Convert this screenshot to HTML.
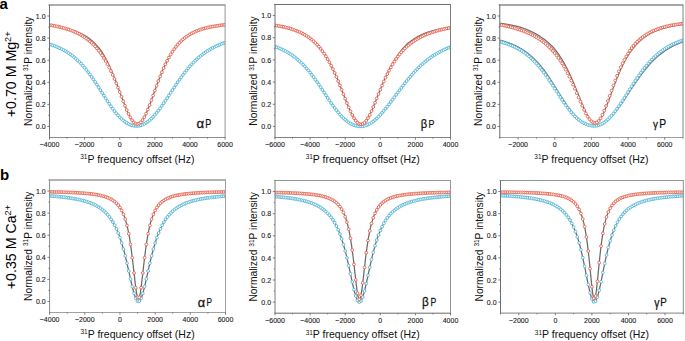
<!DOCTYPE html><html><head><meta charset="utf-8"><style>html,body{margin:0;padding:0;background:#fff;width:685px;height:341px;overflow:hidden}svg{display:block}text{font-family:"Liberation Sans", sans-serif}</style></head><body>
<svg xmlns="http://www.w3.org/2000/svg" width="685" height="341" viewBox="0 0 685 341">
<defs><clipPath id="c0"><rect x="49.5" y="5.0" width="175.60" height="132.50"/></clipPath><clipPath id="c1"><rect x="275.0" y="4.5" width="175.50" height="133.00"/></clipPath><clipPath id="c2"><rect x="499.8" y="5.0" width="183.20" height="132.50"/></clipPath><clipPath id="c3"><rect x="49.6" y="180.0" width="175.90" height="132.50"/></clipPath><clipPath id="c4"><rect x="275.0" y="180.5" width="175.50" height="132.70"/></clipPath><clipPath id="c5"><rect x="500.5" y="180.5" width="182.80" height="132.60"/></clipPath></defs>
<g clip-path="url(#c0)">
<path d="M49.50,44.25 L49.83,44.35 L50.17,44.45 L50.50,44.56 L50.84,44.67 L51.17,44.77 L51.50,44.88 L51.84,44.99 L52.17,45.11 L52.50,45.22 L52.84,45.34 L53.17,45.45 L53.51,45.57 L53.84,45.69 L54.17,45.81 L54.51,45.94 L54.84,46.06 L55.18,46.19 L55.51,46.32 L55.84,46.45 L56.18,46.58 L56.51,46.72 L56.84,46.86 L57.18,46.99 L57.51,47.13 L57.85,47.28 L58.18,47.42 L58.51,47.57 L58.85,47.72 L59.18,47.87 L59.52,48.02 L59.85,48.17 L60.18,48.33 L60.52,48.49 L60.85,48.65 L61.18,48.81 L61.52,48.98 L61.85,49.15 L62.19,49.32 L62.52,49.49 L62.85,49.67 L63.19,49.84 L63.52,50.02 L63.86,50.21 L64.19,50.39 L64.52,50.58 L64.86,50.77 L65.19,50.96 L65.52,51.16 L65.86,51.35 L66.19,51.55 L66.53,51.76 L66.86,51.96 L67.19,52.17 L67.53,52.38 L67.86,52.60 L68.20,52.82 L68.53,53.04 L68.86,53.26 L69.20,53.49 L69.53,53.72 L69.86,53.95 L70.20,54.18 L70.53,54.42 L70.87,54.66 L71.20,54.91 L71.53,55.16 L71.87,55.41 L72.20,55.66 L72.53,55.92 L72.87,56.18 L73.20,56.45 L73.54,56.71 L73.87,56.99 L74.20,57.26 L74.54,57.54 L74.87,57.82 L75.21,58.11 L75.54,58.40 L75.87,58.69 L76.21,58.98 L76.54,59.28 L76.87,59.59 L77.21,59.89 L77.54,60.21 L77.88,60.52 L78.21,60.84 L78.54,61.16 L78.88,61.49 L79.21,61.82 L79.55,62.15 L79.88,62.49 L80.21,62.83 L80.55,63.17 L80.88,63.52 L81.21,63.87 L81.55,64.23 L81.88,64.59 L82.22,64.96 L82.55,65.32 L82.88,65.70 L83.22,66.07 L83.55,66.45 L83.89,66.84 L84.22,67.23 L84.55,67.62 L84.89,68.01 L85.22,68.41 L85.55,68.82 L85.89,69.22 L86.22,69.64 L86.56,70.05 L86.89,70.47 L87.22,70.89 L87.56,71.32 L87.89,71.75 L88.23,72.18 L88.56,72.62 L88.89,73.06 L89.23,73.51 L89.56,73.95 L89.89,74.41 L90.23,74.86 L90.56,75.32 L90.90,75.78 L91.23,76.25 L91.56,76.72 L91.90,77.19 L92.23,77.66 L92.57,78.14 L92.90,78.62 L93.23,79.11 L93.57,79.60 L93.90,80.09 L94.23,80.58 L94.57,81.07 L94.90,81.57 L95.24,82.07 L95.57,82.57 L95.90,83.08 L96.24,83.59 L96.57,84.09 L96.91,84.61 L97.24,85.12 L97.57,85.63 L97.91,86.15 L98.24,86.67 L98.57,87.19 L98.91,87.71 L99.24,88.23 L99.58,88.75 L99.91,89.28 L100.24,89.80 L100.58,90.33 L100.91,90.85 L101.25,91.38 L101.58,91.91 L101.91,92.44 L102.25,92.96 L102.58,93.49 L102.91,94.02 L103.25,94.54 L103.58,95.07 L103.92,95.60 L104.25,96.12 L104.58,96.64 L104.92,97.17 L105.25,97.69 L105.59,98.21 L105.92,98.73 L106.25,99.24 L106.59,99.76 L106.92,100.27 L107.25,100.78 L107.59,101.29 L107.92,101.80 L108.26,102.30 L108.59,102.81 L108.92,103.31 L109.26,103.80 L109.59,104.29 L109.93,104.78 L110.26,105.27 L110.59,105.75 L110.93,106.23 L111.26,106.71 L111.59,107.18 L111.93,107.65 L112.26,108.11 L112.60,108.57 L112.93,109.03 L113.26,109.48 L113.60,109.93 L113.93,110.37 L114.27,110.80 L114.60,111.24 L114.93,111.66 L115.27,112.09 L115.60,112.50 L115.93,112.91 L116.27,113.32 L116.60,113.72 L116.94,114.12 L117.27,114.51 L117.60,114.89 L117.94,115.27 L118.27,115.64 L118.60,116.01 L118.94,116.37 L119.27,116.72 L119.61,117.07 L119.94,117.41 L120.27,117.75 L120.61,118.08 L120.94,118.40 L121.28,118.72 L121.61,119.03 L121.94,119.33 L122.28,119.63 L122.61,119.92 L122.94,120.21 L123.28,120.49 L123.61,120.76 L123.95,121.02 L124.28,121.28 L124.61,121.53 L124.95,121.77 L125.28,122.01 L125.62,122.24 L125.95,122.47 L126.28,122.68 L126.62,122.89 L126.95,123.10 L127.28,123.29 L127.62,123.48 L127.95,123.67 L128.29,123.84 L128.62,124.01 L128.95,124.17 L129.29,124.33 L129.62,124.48 L129.96,124.62 L130.29,124.75 L130.62,124.88 L130.96,125.00 L131.29,125.11 L131.62,125.22 L131.96,125.32 L132.29,125.41 L132.63,125.50 L132.96,125.58 L133.29,125.65 L133.63,125.71 L133.96,125.77 L134.30,125.82 L134.63,125.87 L134.96,125.90 L135.30,125.93 L135.63,125.96 L135.96,125.97 L136.30,125.98 L136.63,125.98 L136.97,125.98 L137.30,125.97 L137.63,125.94 L137.97,125.92 L138.30,125.88 L138.64,125.84 L138.97,125.78 L139.30,125.72 L139.64,125.66 L139.97,125.58 L140.30,125.50 L140.64,125.41 L140.97,125.31 L141.31,125.21 L141.64,125.09 L141.97,124.97 L142.31,124.84 L142.64,124.71 L142.98,124.56 L143.31,124.41 L143.64,124.26 L143.98,124.09 L144.31,123.92 L144.64,123.74 L144.98,123.55 L145.31,123.35 L145.65,123.15 L145.98,122.94 L146.31,122.72 L146.65,122.50 L146.98,122.27 L147.32,122.03 L147.65,121.79 L147.98,121.53 L148.32,121.27 L148.65,121.01 L148.98,120.74 L149.32,120.46 L149.65,120.17 L149.99,119.88 L150.32,119.58 L150.65,119.27 L150.99,118.96 L151.32,118.64 L151.66,118.32 L151.99,117.99 L152.32,117.65 L152.66,117.31 L152.99,116.96 L153.32,116.61 L153.66,116.25 L153.99,115.88 L154.33,115.51 L154.66,115.13 L154.99,114.75 L155.33,114.37 L155.66,113.97 L156.00,113.58 L156.33,113.17 L156.66,112.76 L157.00,112.35 L157.33,111.94 L157.66,111.51 L158.00,111.09 L158.33,110.66 L158.67,110.22 L159.00,109.78 L159.33,109.34 L159.67,108.89 L160.00,108.44 L160.33,107.99 L160.67,107.53 L161.00,107.07 L161.34,106.60 L161.67,106.14 L162.00,105.67 L162.34,105.19 L162.67,104.71 L163.01,104.23 L163.34,103.75 L163.67,103.27 L164.01,102.78 L164.34,102.29 L164.67,101.80 L165.01,101.31 L165.34,100.81 L165.68,100.31 L166.01,99.81 L166.34,99.31 L166.68,98.81 L167.01,98.31 L167.35,97.80 L167.68,97.30 L168.01,96.79 L168.35,96.29 L168.68,95.78 L169.01,95.27 L169.35,94.76 L169.68,94.25 L170.02,93.74 L170.35,93.23 L170.68,92.72 L171.02,92.21 L171.35,91.70 L171.69,91.20 L172.02,90.69 L172.35,90.18 L172.69,89.67 L173.02,89.17 L173.35,88.66 L173.69,88.16 L174.02,87.65 L174.36,87.15 L174.69,86.65 L175.02,86.15 L175.36,85.65 L175.69,85.16 L176.03,84.66 L176.36,84.17 L176.69,83.67 L177.03,83.18 L177.36,82.70 L177.69,82.21 L178.03,81.73 L178.36,81.24 L178.70,80.77 L179.03,80.29 L179.36,79.81 L179.70,79.34 L180.03,78.87 L180.37,78.40 L180.70,77.94 L181.03,77.48 L181.37,77.02 L181.70,76.56 L182.03,76.10 L182.37,75.65 L182.70,75.20 L183.04,74.76 L183.37,74.32 L183.70,73.88 L184.04,73.44 L184.37,73.01 L184.71,72.58 L185.04,72.15 L185.37,71.72 L185.71,71.30 L186.04,70.89 L186.37,70.47 L186.71,70.06 L187.04,69.65 L187.38,69.25 L187.71,68.85 L188.04,68.45 L188.38,68.05 L188.71,67.66 L189.05,67.27 L189.38,66.89 L189.71,66.51 L190.05,66.13 L190.38,65.76 L190.71,65.39 L191.05,65.02 L191.38,64.65 L191.72,64.29 L192.05,63.94 L192.38,63.58 L192.72,63.23 L193.05,62.89 L193.39,62.54 L193.72,62.20 L194.05,61.87 L194.39,61.53 L194.72,61.20 L195.05,60.88 L195.39,60.55 L195.72,60.23 L196.06,59.92 L196.39,59.60 L196.72,59.29 L197.06,58.98 L197.39,58.68 L197.73,58.38 L198.06,58.08 L198.39,57.79 L198.73,57.50 L199.06,57.21 L199.39,56.93 L199.73,56.65 L200.06,56.37 L200.40,56.09 L200.73,55.82 L201.06,55.55 L201.40,55.29 L201.73,55.02 L202.07,54.76 L202.40,54.51 L202.73,54.25 L203.07,54.00 L203.40,53.75 L203.73,53.51 L204.07,53.27 L204.40,53.03 L204.74,52.79 L205.07,52.56 L205.40,52.32 L205.74,52.10 L206.07,51.87 L206.40,51.65 L206.74,51.43 L207.07,51.21 L207.41,50.99 L207.74,50.78 L208.07,50.57 L208.41,50.36 L208.74,50.16 L209.08,49.96 L209.41,49.76 L209.74,49.56 L210.08,49.36 L210.41,49.17 L210.74,48.98 L211.08,48.79 L211.41,48.60 L211.75,48.42 L212.08,48.24 L212.41,48.06 L212.75,47.88 L213.08,47.71 L213.42,47.53 L213.75,47.36 L214.08,47.20 L214.42,47.03 L214.75,46.86 L215.08,46.70 L215.42,46.54 L215.75,46.38 L216.09,46.23 L216.42,46.07 L216.75,45.92 L217.09,45.77 L217.42,45.62 L217.76,45.47 L218.09,45.33 L218.42,45.18 L218.76,45.04 L219.09,44.90 L219.42,44.76 L219.76,44.63 L220.09,44.49 L220.43,44.36 L220.76,44.23 L221.09,44.10 L221.43,43.97 L221.76,43.85 L222.10,43.72 L222.43,43.60 L222.76,43.48 L223.10,43.36 L223.43,43.24 L223.76,43.12 L224.10,43.00 L224.43,42.89 L224.77,42.78 L225.10,42.66" fill="none" stroke="#6a6a6a" stroke-width="1.25"/>
<g fill="#fff" stroke="#52b6d6" stroke-width="0.9"><circle cx="49.50" cy="44.25" r="1.4"/><circle cx="51.26" cy="44.80" r="1.4"/><circle cx="53.01" cy="45.40" r="1.4"/><circle cx="54.77" cy="46.04" r="1.4"/><circle cx="56.52" cy="46.72" r="1.4"/><circle cx="58.28" cy="47.47" r="1.4"/><circle cx="60.04" cy="48.26" r="1.4"/><circle cx="61.79" cy="49.12" r="1.4"/><circle cx="63.55" cy="50.04" r="1.4"/><circle cx="65.30" cy="51.03" r="1.4"/><circle cx="67.06" cy="52.09" r="1.4"/><circle cx="68.82" cy="53.23" r="1.4"/><circle cx="70.57" cy="54.45" r="1.4"/><circle cx="72.33" cy="55.76" r="1.4"/><circle cx="74.08" cy="57.16" r="1.4"/><circle cx="75.84" cy="58.66" r="1.4"/><circle cx="77.60" cy="60.26" r="1.4"/><circle cx="79.35" cy="61.96" r="1.4"/><circle cx="81.11" cy="63.76" r="1.4"/><circle cx="82.86" cy="65.67" r="1.4"/><circle cx="84.62" cy="67.70" r="1.4"/><circle cx="86.38" cy="69.83" r="1.4"/><circle cx="88.13" cy="72.06" r="1.4"/><circle cx="89.89" cy="74.40" r="1.4"/><circle cx="91.64" cy="76.83" r="1.4"/><circle cx="93.40" cy="79.35" r="1.4"/><circle cx="95.16" cy="81.95" r="1.4"/><circle cx="96.91" cy="84.62" r="1.4"/><circle cx="98.67" cy="87.33" r="1.4"/><circle cx="100.42" cy="90.09" r="1.4"/><circle cx="102.18" cy="92.86" r="1.4"/><circle cx="103.94" cy="95.63" r="1.4"/><circle cx="105.69" cy="98.37" r="1.4"/><circle cx="107.45" cy="101.08" r="1.4"/><circle cx="109.20" cy="103.72" r="1.4"/><circle cx="110.96" cy="106.28" r="1.4"/><circle cx="112.72" cy="108.74" r="1.4"/><circle cx="114.47" cy="111.07" r="1.4"/><circle cx="116.23" cy="113.27" r="1.4"/><circle cx="117.98" cy="115.32" r="1.4"/><circle cx="119.74" cy="117.21" r="1.4"/><circle cx="121.50" cy="118.93" r="1.4"/><circle cx="123.25" cy="120.46" r="1.4"/><circle cx="125.01" cy="121.82" r="1.4"/><circle cx="126.76" cy="122.98" r="1.4"/><circle cx="128.52" cy="123.96" r="1.4"/><circle cx="130.28" cy="124.75" r="1.4"/><circle cx="132.03" cy="125.34" r="1.4"/><circle cx="133.79" cy="125.74" r="1.4"/><circle cx="135.54" cy="125.95" r="1.4"/><circle cx="137.30" cy="125.97" r="1.4"/><circle cx="139.06" cy="125.77" r="1.4"/><circle cx="140.81" cy="125.36" r="1.4"/><circle cx="142.57" cy="124.74" r="1.4"/><circle cx="144.32" cy="123.91" r="1.4"/><circle cx="146.08" cy="122.88" r="1.4"/><circle cx="147.84" cy="121.64" r="1.4"/><circle cx="149.59" cy="120.22" r="1.4"/><circle cx="151.35" cy="118.62" r="1.4"/><circle cx="153.10" cy="116.84" r="1.4"/><circle cx="154.86" cy="114.91" r="1.4"/><circle cx="156.62" cy="112.82" r="1.4"/><circle cx="158.37" cy="110.61" r="1.4"/><circle cx="160.13" cy="108.27" r="1.4"/><circle cx="161.88" cy="105.84" r="1.4"/><circle cx="163.64" cy="103.32" r="1.4"/><circle cx="165.40" cy="100.73" r="1.4"/><circle cx="167.15" cy="98.10" r="1.4"/><circle cx="168.91" cy="95.43" r="1.4"/><circle cx="170.66" cy="92.75" r="1.4"/><circle cx="172.42" cy="90.08" r="1.4"/><circle cx="174.18" cy="87.42" r="1.4"/><circle cx="175.93" cy="84.80" r="1.4"/><circle cx="177.69" cy="82.22" r="1.4"/><circle cx="179.44" cy="79.70" r="1.4"/><circle cx="181.20" cy="77.24" r="1.4"/><circle cx="182.96" cy="74.87" r="1.4"/><circle cx="184.71" cy="72.57" r="1.4"/><circle cx="186.47" cy="70.36" r="1.4"/><circle cx="188.22" cy="68.23" r="1.4"/><circle cx="189.98" cy="66.21" r="1.4"/><circle cx="191.74" cy="64.27" r="1.4"/><circle cx="193.49" cy="62.43" r="1.4"/><circle cx="195.25" cy="60.69" r="1.4"/><circle cx="197.00" cy="59.03" r="1.4"/><circle cx="198.76" cy="57.47" r="1.4"/><circle cx="200.52" cy="55.99" r="1.4"/><circle cx="202.27" cy="54.60" r="1.4"/><circle cx="204.03" cy="53.30" r="1.4"/><circle cx="205.78" cy="52.06" r="1.4"/><circle cx="207.54" cy="50.91" r="1.4"/><circle cx="209.30" cy="49.82" r="1.4"/><circle cx="211.05" cy="48.80" r="1.4"/><circle cx="212.81" cy="47.85" r="1.4"/><circle cx="214.56" cy="46.96" r="1.4"/><circle cx="216.32" cy="46.12" r="1.4"/><circle cx="218.08" cy="45.33" r="1.4"/><circle cx="219.83" cy="44.60" r="1.4"/><circle cx="221.59" cy="43.91" r="1.4"/><circle cx="223.34" cy="43.27" r="1.4"/><circle cx="225.10" cy="42.66" r="1.4"/></g>
<path d="M49.50,25.00 L49.84,25.04 L50.17,25.09 L50.51,25.14 L50.84,25.18 L51.18,25.23 L51.51,25.28 L51.85,25.33 L52.18,25.38 L52.52,25.43 L52.85,25.49 L53.19,25.54 L53.53,25.59 L53.86,25.65 L54.20,25.70 L54.53,25.76 L54.87,25.81 L55.20,25.87 L55.54,25.93 L55.88,25.99 L56.21,26.05 L56.55,26.11 L56.88,26.17 L57.22,26.24 L57.56,26.30 L57.89,26.37 L58.23,26.43 L58.56,26.50 L58.90,26.57 L59.24,26.64 L59.57,26.71 L59.91,26.78 L60.25,26.85 L60.58,26.92 L60.92,27.00 L61.25,27.07 L61.59,27.15 L61.93,27.23 L62.27,27.31 L62.60,27.39 L62.94,27.47 L63.28,27.55 L63.61,27.63 L63.95,27.72 L64.29,27.80 L64.62,27.89 L64.96,27.98 L65.30,28.07 L65.64,28.16 L65.97,28.26 L66.31,28.35 L66.65,28.45 L66.99,28.54 L67.33,28.64 L67.66,28.74 L68.00,28.84 L68.34,28.95 L68.68,29.05 L69.02,29.16 L69.35,29.27 L69.69,29.38 L70.03,29.49 L70.37,29.59 L70.72,29.69 L71.06,29.79 L71.41,29.90 L71.75,30.00 L72.10,30.11 L72.44,30.22 L72.79,30.33 L73.13,30.44 L73.48,30.56 L73.83,30.67 L74.17,30.79 L74.52,30.91 L74.87,31.04 L75.22,31.16 L75.56,31.29 L75.91,31.42 L76.26,31.55 L76.61,31.69 L76.96,31.83 L77.31,31.96 L77.66,32.11 L78.01,32.25 L78.36,32.40 L78.71,32.55 L79.06,32.70 L79.41,32.86 L79.76,33.02 L80.11,33.18 L80.46,33.34 L80.81,33.51 L81.17,33.68 L81.52,33.85 L81.87,34.02 L82.23,34.20 L82.58,34.38 L82.93,34.57 L83.29,34.76 L83.64,34.95 L84.00,35.14 L84.35,35.34 L84.71,35.54 L85.06,35.75 L85.42,35.96 L85.78,36.17 L86.13,36.39 L86.49,36.61 L86.85,36.83 L87.20,37.06 L87.56,37.29 L87.92,37.53 L88.28,37.76 L88.64,38.01 L89.00,38.26 L89.34,38.52 L89.69,38.80 L90.03,39.08 L90.38,39.36 L90.72,39.65 L91.07,39.94 L91.41,40.24 L91.75,40.54 L92.10,40.84 L92.44,41.15 L92.78,41.47 L93.13,41.79 L93.47,42.11 L93.82,42.44 L94.16,42.78 L94.50,43.12 L94.85,43.46 L95.19,43.81 L95.53,44.17 L95.88,44.53 L96.22,44.89 L96.56,45.26 L96.91,45.64 L97.25,46.02 L97.59,46.41 L97.93,46.81 L98.28,47.21 L98.62,47.61 L98.96,48.02 L99.30,48.44 L99.65,48.87 L99.99,49.30 L100.33,49.73 L100.67,50.18 L101.01,50.63 L101.35,51.08 L101.67,51.56 L101.99,52.05 L102.30,52.55 L102.61,53.05 L102.92,53.56 L103.23,54.08 L103.54,54.60 L103.85,55.13 L104.16,55.67 L104.47,56.21 L104.78,56.76 L105.08,57.32 L105.39,57.88 L105.70,58.46 L106.00,59.04 L106.31,59.62 L106.62,60.22 L106.92,60.82 L107.23,61.43 L107.54,62.05 L107.84,62.67 L108.15,63.30 L108.45,63.94 L108.75,64.59 L109.06,65.25 L109.36,65.91 L109.67,66.58 L109.97,67.26 L110.27,67.95 L110.58,68.64 L110.88,69.35 L111.18,70.06 L111.48,70.77 L111.79,71.50 L112.09,72.24 L112.39,72.98 L112.71,73.72 L113.02,74.47 L113.34,75.23 L113.66,75.99 L113.98,76.76 L114.30,77.54 L114.62,78.33 L114.94,79.12 L115.26,79.93 L115.58,80.73 L115.90,81.55 L116.21,82.37 L116.53,83.19 L116.85,84.03 L117.17,84.87 L117.49,85.71 L117.81,86.56 L118.13,87.41 L118.44,88.27 L118.76,89.13 L119.08,90.00 L119.40,90.87 L119.72,91.74 L120.04,92.62 L120.35,93.49 L120.67,94.37 L120.99,95.25 L121.31,96.13 L121.63,97.01 L121.95,97.89 L122.28,98.76 L122.61,99.63 L122.94,100.50 L123.28,101.36 L123.61,102.22 L123.95,103.08 L124.28,103.93 L124.61,104.77 L124.95,105.61 L125.28,106.44 L125.62,107.26 L125.95,108.07 L126.28,108.87 L126.62,109.66 L126.95,110.44 L127.28,111.21 L127.62,111.96 L127.95,112.70 L128.29,113.42 L128.62,114.12 L128.95,114.81 L129.29,115.48 L129.62,116.13 L129.96,116.76 L130.29,117.37 L130.62,117.96 L130.96,118.53 L131.29,119.07 L131.62,119.59 L131.96,120.08 L132.29,120.55 L132.63,120.99 L132.96,121.41 L133.29,121.79 L133.63,122.15 L133.96,122.48 L134.30,122.78 L134.63,123.05 L134.96,123.29 L135.30,123.50 L135.63,123.67 L135.96,123.82 L136.30,123.93 L136.63,124.02 L136.97,124.07 L137.30,124.08 L137.63,124.07 L137.97,124.02 L138.30,123.94 L138.64,123.83 L138.97,123.68 L139.30,123.50 L139.64,123.29 L139.97,123.05 L140.30,122.77 L140.64,122.47 L140.97,122.13 L141.31,121.76 L141.64,121.37 L141.97,120.94 L142.31,120.49 L142.64,120.01 L142.98,119.50 L143.31,118.96 L143.64,118.40 L143.98,117.82 L144.31,117.21 L144.64,116.58 L144.98,115.92 L145.31,115.24 L145.65,114.55 L145.98,113.83 L146.31,113.09 L146.65,112.34 L146.98,111.57 L147.32,110.78 L147.65,109.98 L147.98,109.17 L148.32,108.34 L148.65,107.49 L148.98,106.64 L149.32,105.77 L149.65,104.90 L149.99,104.02 L150.32,103.12 L150.65,102.23 L150.99,101.32 L151.32,100.41 L151.66,99.49 L151.99,98.57 L152.32,97.65 L152.66,96.72 L152.99,95.79 L153.32,94.86 L153.66,93.93 L153.99,93.00 L154.33,92.07 L154.66,91.14 L154.99,90.22 L155.33,89.29 L155.66,88.37 L156.00,87.45 L156.33,86.54 L156.66,85.62 L157.00,84.72 L157.33,83.82 L157.66,82.92 L158.00,82.03 L158.33,81.15 L158.67,80.27 L159.00,79.40 L159.33,78.54 L159.67,77.68 L160.00,76.83 L160.33,75.99 L160.67,75.16 L161.00,74.34 L161.34,73.52 L161.67,72.72 L162.00,71.92 L162.34,71.13 L162.67,70.35 L163.01,69.58 L163.34,68.82 L163.67,68.07 L164.01,67.32 L164.34,66.59 L164.67,65.86 L165.01,65.15 L165.34,64.45 L165.68,63.75 L166.01,63.06 L166.34,62.39 L166.68,61.72 L167.01,61.06 L167.35,60.42 L167.68,59.78 L168.01,59.15 L168.35,58.53 L168.68,57.92 L169.01,57.32 L169.35,56.73 L169.68,56.15 L170.02,55.57 L170.35,55.01 L170.68,54.45 L171.02,53.91 L171.35,53.37 L171.69,52.84 L172.02,52.32 L172.35,51.81 L172.69,51.31 L173.02,50.81 L173.35,50.33 L173.69,49.85 L174.02,49.38 L174.36,48.92 L174.69,48.46 L175.02,48.01 L175.36,47.58 L175.69,47.14 L176.03,46.72 L176.36,46.30 L176.69,45.89 L177.03,45.49 L177.36,45.10 L177.69,44.71 L178.03,44.33 L178.36,43.95 L178.70,43.58 L179.03,43.22 L179.36,42.87 L179.70,42.52 L180.03,42.18 L180.37,41.84 L180.70,41.51 L181.03,41.18 L181.37,40.86 L181.70,40.55 L182.03,40.24 L182.37,39.94 L182.70,39.64 L183.04,39.35 L183.37,39.07 L183.70,38.79 L184.04,38.51 L184.37,38.24 L184.71,37.97 L185.04,37.71 L185.37,37.46 L185.71,37.20 L186.04,36.96 L186.37,36.71 L186.71,36.47 L187.04,36.24 L187.38,36.01 L187.71,35.78 L188.04,35.56 L188.38,35.34 L188.71,35.13 L189.05,34.92 L189.38,34.71 L189.71,34.51 L190.05,34.31 L190.38,34.12 L190.71,33.93 L191.05,33.74 L191.38,33.55 L191.72,33.37 L192.05,33.19 L192.38,33.02 L192.72,32.84 L193.05,32.68 L193.39,32.51 L193.72,32.35 L194.05,32.19 L194.39,32.03 L194.72,31.87 L195.05,31.72 L195.39,31.57 L195.72,31.43 L196.06,31.28 L196.39,31.14 L196.72,31.00 L197.06,30.87 L197.39,30.73 L197.73,30.60 L198.06,30.47 L198.39,30.34 L198.73,30.22 L199.06,30.10 L199.39,29.98 L199.73,29.86 L200.06,29.74 L200.40,29.63 L200.73,29.51 L201.06,29.40 L201.40,29.29 L201.73,29.19 L202.07,29.08 L202.40,28.98 L202.73,28.88 L203.07,28.78 L203.40,28.68 L203.73,28.59 L204.07,28.49 L204.40,28.40 L204.74,28.31 L205.07,28.22 L205.40,28.13 L205.74,28.04 L206.07,27.96 L206.40,27.87 L206.74,27.79 L207.07,27.71 L207.41,27.63 L207.74,27.55 L208.07,27.47 L208.41,27.40 L208.74,27.32 L209.08,27.25 L209.41,27.18 L209.74,27.11 L210.08,27.04 L210.41,26.97 L210.74,26.90 L211.08,26.83 L211.41,26.77 L211.75,26.70 L212.08,26.64 L212.41,26.58 L212.75,26.52 L213.08,26.46 L213.42,26.40 L213.75,26.34 L214.08,26.28 L214.42,26.23 L214.75,26.17 L215.08,26.11 L215.42,26.06 L215.75,26.01 L216.09,25.96 L216.42,25.90 L216.75,25.85 L217.09,25.80 L217.42,25.76 L217.76,25.71 L218.09,25.66 L218.42,25.61 L218.76,25.57 L219.09,25.52 L219.42,25.48 L219.76,25.43 L220.09,25.39 L220.43,25.35 L220.76,25.31 L221.09,25.27 L221.43,25.23 L221.76,25.19 L222.10,25.15 L222.43,25.11 L222.76,25.07 L223.10,25.03 L223.43,24.99 L223.76,24.96 L224.10,24.92 L224.43,24.89 L224.77,24.85 L225.10,24.82" fill="none" stroke="#6a6a6a" stroke-width="1.25"/>
<g fill="#fff" stroke="#e4604c" stroke-width="0.9"><circle cx="49.50" cy="25.01" r="1.4"/><circle cx="51.26" cy="25.30" r="1.4"/><circle cx="53.01" cy="25.61" r="1.4"/><circle cx="54.77" cy="25.94" r="1.4"/><circle cx="56.52" cy="26.29" r="1.4"/><circle cx="58.28" cy="26.67" r="1.4"/><circle cx="60.04" cy="27.07" r="1.4"/><circle cx="61.79" cy="27.51" r="1.4"/><circle cx="63.55" cy="27.97" r="1.4"/><circle cx="65.30" cy="28.47" r="1.4"/><circle cx="67.06" cy="29.01" r="1.4"/><circle cx="68.82" cy="29.59" r="1.4"/><circle cx="70.57" cy="30.21" r="1.4"/><circle cx="72.33" cy="30.88" r="1.4"/><circle cx="74.08" cy="31.60" r="1.4"/><circle cx="75.84" cy="32.38" r="1.4"/><circle cx="77.60" cy="33.21" r="1.4"/><circle cx="79.35" cy="34.12" r="1.4"/><circle cx="81.11" cy="35.09" r="1.4"/><circle cx="82.86" cy="36.15" r="1.4"/><circle cx="84.62" cy="37.29" r="1.4"/><circle cx="86.38" cy="38.52" r="1.4"/><circle cx="88.13" cy="39.86" r="1.4"/><circle cx="89.89" cy="41.30" r="1.4"/><circle cx="91.64" cy="42.87" r="1.4"/><circle cx="93.40" cy="44.56" r="1.4"/><circle cx="95.16" cy="46.39" r="1.4"/><circle cx="96.91" cy="48.38" r="1.4"/><circle cx="98.67" cy="50.53" r="1.4"/><circle cx="100.42" cy="52.85" r="1.4"/><circle cx="102.18" cy="55.37" r="1.4"/><circle cx="103.94" cy="58.08" r="1.4"/><circle cx="105.69" cy="61.00" r="1.4"/><circle cx="107.45" cy="64.15" r="1.4"/><circle cx="109.20" cy="67.51" r="1.4"/><circle cx="110.96" cy="71.11" r="1.4"/><circle cx="112.72" cy="74.93" r="1.4"/><circle cx="114.47" cy="78.97" r="1.4"/><circle cx="116.23" cy="83.20" r="1.4"/><circle cx="117.98" cy="87.61" r="1.4"/><circle cx="119.74" cy="92.13" r="1.4"/><circle cx="121.50" cy="96.72" r="1.4"/><circle cx="123.25" cy="101.29" r="1.4"/><circle cx="125.01" cy="105.76" r="1.4"/><circle cx="126.76" cy="110.01" r="1.4"/><circle cx="128.52" cy="113.91" r="1.4"/><circle cx="130.28" cy="117.35" r="1.4"/><circle cx="132.03" cy="120.19" r="1.4"/><circle cx="133.79" cy="122.31" r="1.4"/><circle cx="135.54" cy="123.63" r="1.4"/><circle cx="137.30" cy="124.08" r="1.4"/><circle cx="139.06" cy="123.64" r="1.4"/><circle cx="140.81" cy="122.30" r="1.4"/><circle cx="142.57" cy="120.12" r="1.4"/><circle cx="144.32" cy="117.18" r="1.4"/><circle cx="146.08" cy="113.61" r="1.4"/><circle cx="147.84" cy="109.53" r="1.4"/><circle cx="149.59" cy="105.06" r="1.4"/><circle cx="151.35" cy="100.34" r="1.4"/><circle cx="153.10" cy="95.48" r="1.4"/><circle cx="154.86" cy="90.59" r="1.4"/><circle cx="156.62" cy="85.75" r="1.4"/><circle cx="158.37" cy="81.04" r="1.4"/><circle cx="160.13" cy="76.51" r="1.4"/><circle cx="161.88" cy="72.21" r="1.4"/><circle cx="163.64" cy="68.14" r="1.4"/><circle cx="165.40" cy="64.33" r="1.4"/><circle cx="167.15" cy="60.79" r="1.4"/><circle cx="168.91" cy="57.51" r="1.4"/><circle cx="170.66" cy="54.49" r="1.4"/><circle cx="172.42" cy="51.71" r="1.4"/><circle cx="174.18" cy="49.16" r="1.4"/><circle cx="175.93" cy="46.84" r="1.4"/><circle cx="177.69" cy="44.72" r="1.4"/><circle cx="179.44" cy="42.78" r="1.4"/><circle cx="181.20" cy="41.02" r="1.4"/><circle cx="182.96" cy="39.42" r="1.4"/><circle cx="184.71" cy="37.97" r="1.4"/><circle cx="186.47" cy="36.65" r="1.4"/><circle cx="188.22" cy="35.44" r="1.4"/><circle cx="189.98" cy="34.35" r="1.4"/><circle cx="191.74" cy="33.36" r="1.4"/><circle cx="193.49" cy="32.46" r="1.4"/><circle cx="195.25" cy="31.64" r="1.4"/><circle cx="197.00" cy="30.89" r="1.4"/><circle cx="198.76" cy="30.21" r="1.4"/><circle cx="200.52" cy="29.59" r="1.4"/><circle cx="202.27" cy="29.02" r="1.4"/><circle cx="204.03" cy="28.50" r="1.4"/><circle cx="205.78" cy="28.03" r="1.4"/><circle cx="207.54" cy="27.60" r="1.4"/><circle cx="209.30" cy="27.20" r="1.4"/><circle cx="211.05" cy="26.84" r="1.4"/><circle cx="212.81" cy="26.51" r="1.4"/><circle cx="214.56" cy="26.20" r="1.4"/><circle cx="216.32" cy="25.92" r="1.4"/><circle cx="218.08" cy="25.66" r="1.4"/><circle cx="219.83" cy="25.42" r="1.4"/><circle cx="221.59" cy="25.21" r="1.4"/><circle cx="223.34" cy="25.00" r="1.4"/><circle cx="225.10" cy="24.82" r="1.4"/></g>
</g>
<path d="M48.5,5.0 H225.6" stroke="#5f5f5f" stroke-width="1" fill="none"/>
<path d="M225.1,5.0 V137.5" stroke="#969696" stroke-width="1" fill="none"/>
<path d="M49.0,137.5 H225.6" stroke="#8c8c8c" stroke-width="1" fill="none"/>
<path d="M49.5,4.5 V138.0" stroke="#6e6e6e" stroke-width="1" fill="none"/>
<g stroke="#606060" stroke-width="0.8" fill="none">
<path d="M47.3,126.46 H49.5"/>
<path d="M48.3,115.42 H49.5"/>
<path d="M47.3,104.38 H49.5"/>
<path d="M48.3,93.33 H49.5"/>
<path d="M47.3,82.29 H49.5"/>
<path d="M48.3,71.25 H49.5"/>
<path d="M47.3,60.21 H49.5"/>
<path d="M48.3,49.17 H49.5"/>
<path d="M47.3,38.13 H49.5"/>
<path d="M48.3,27.08 H49.5"/>
<path d="M47.3,16.04 H49.5"/>
<path d="M49.50,137.5 V139.7"/>
<path d="M84.62,137.5 V139.7"/>
<path d="M119.74,137.5 V139.7"/>
<path d="M154.86,137.5 V139.7"/>
<path d="M189.98,137.5 V139.7"/>
<path d="M225.10,137.5 V139.7"/>
<path d="M67.06,137.5 V138.7"/>
<path d="M102.18,137.5 V138.7"/>
<path d="M137.30,137.5 V138.7"/>
<path d="M172.42,137.5 V138.7"/>
<path d="M207.54,137.5 V138.7"/>
</g>
<g font-size="7.7" fill="#222" stroke="#222" stroke-width="0.12">
<text transform="translate(45.60,129.06) scale(0.91,1)" text-anchor="end">0.0</text>
<text transform="translate(45.60,106.97) scale(0.91,1)" text-anchor="end">0.2</text>
<text transform="translate(45.60,84.89) scale(0.91,1)" text-anchor="end">0.4</text>
<text transform="translate(45.60,62.81) scale(0.91,1)" text-anchor="end">0.6</text>
<text transform="translate(45.60,40.73) scale(0.91,1)" text-anchor="end">0.8</text>
<text transform="translate(45.60,18.64) scale(0.91,1)" text-anchor="end">1.0</text>
<text transform="translate(49.50,147.20) scale(0.91,1)" text-anchor="middle">−4000</text>
<text transform="translate(84.62,147.20) scale(0.91,1)" text-anchor="middle">−2000</text>
<text transform="translate(119.74,147.20) scale(0.91,1)" text-anchor="middle">0</text>
<text transform="translate(154.86,147.20) scale(0.91,1)" text-anchor="middle">2000</text>
<text transform="translate(189.98,147.20) scale(0.91,1)" text-anchor="middle">4000</text>
<text transform="translate(225.10,147.20) scale(0.91,1)" text-anchor="middle">6000</text>
</g>
<text x="137.30" y="162.70" font-size="10.5" fill="#111" text-anchor="middle"><tspan font-size="6.5" dy="-3.8">31</tspan><tspan dy="3.8">P frequency offset (Hz)</tspan></text>
<text transform="translate(31.90,71.25) rotate(-90)" font-size="10.3" fill="#111" text-anchor="middle">Normalized <tspan font-size="6.5" dy="-3.8">31</tspan><tspan dy="3.8">P intensity</tspan></text>
<g fill="#111" stroke="#111" stroke-width="0.25">
<text transform="translate(196.55,128.28) scale(1.0799,1)" font-size="12.23" >α</text>
<text transform="translate(205.35,128.20) scale(0.7215,1)" font-size="12.50" >P</text>
</g>
<g clip-path="url(#c1)">
<path d="M275.00,46.64 L275.33,46.76 L275.67,46.88 L276.00,47.00 L276.33,47.12 L276.67,47.25 L277.00,47.37 L277.34,47.50 L277.67,47.63 L278.00,47.76 L278.34,47.89 L278.67,48.03 L279.00,48.17 L279.34,48.30 L279.67,48.44 L280.00,48.59 L280.34,48.73 L280.67,48.88 L281.01,49.03 L281.34,49.18 L281.67,49.33 L282.01,49.48 L282.34,49.64 L282.67,49.80 L283.01,49.96 L283.34,50.12 L283.67,50.29 L284.01,50.45 L284.34,50.62 L284.68,50.79 L285.01,50.97 L285.34,51.14 L285.68,51.32 L286.01,51.50 L286.34,51.69 L286.68,51.87 L287.01,52.06 L287.35,52.25 L287.68,52.44 L288.01,52.64 L288.35,52.84 L288.68,53.04 L289.01,53.24 L289.35,53.45 L289.68,53.66 L290.01,53.87 L290.35,54.09 L290.68,54.30 L291.02,54.52 L291.35,54.75 L291.68,54.97 L292.02,55.20 L292.35,55.43 L292.68,55.67 L293.02,55.90 L293.35,56.15 L293.68,56.39 L294.02,56.64 L294.35,56.89 L294.69,57.14 L295.02,57.39 L295.35,57.65 L295.69,57.92 L296.02,58.18 L296.35,58.45 L296.69,58.72 L297.02,59.00 L297.35,59.28 L297.69,59.56 L298.02,59.85 L298.36,60.14 L298.69,60.43 L299.02,60.72 L299.36,61.02 L299.69,61.33 L300.02,61.63 L300.36,61.94 L300.69,62.26 L301.02,62.57 L301.36,62.90 L301.69,63.22 L302.03,63.55 L302.36,63.88 L302.69,64.21 L303.03,64.55 L303.36,64.90 L303.69,65.24 L304.03,65.59 L304.36,65.94 L304.69,66.30 L305.03,66.66 L305.36,67.03 L305.70,67.39 L306.03,67.77 L306.36,68.14 L306.70,68.52 L307.03,68.90 L307.36,69.29 L307.70,69.68 L308.03,70.07 L308.37,70.47 L308.70,70.87 L309.03,71.27 L309.37,71.68 L309.70,72.09 L310.03,72.51 L310.37,72.93 L310.70,73.35 L311.03,73.77 L311.37,74.20 L311.70,74.63 L312.04,75.07 L312.37,75.51 L312.70,75.95 L313.04,76.39 L313.37,76.84 L313.70,77.29 L314.04,77.75 L314.37,78.20 L314.70,78.66 L315.04,79.12 L315.37,79.59 L315.71,80.06 L316.04,80.53 L316.37,81.00 L316.71,81.48 L317.04,81.95 L317.37,82.44 L317.71,82.92 L318.04,83.40 L318.37,83.89 L318.71,84.38 L319.04,84.87 L319.38,85.36 L319.71,85.86 L320.04,86.35 L320.38,86.85 L320.71,87.35 L321.04,87.85 L321.38,88.35 L321.71,88.85 L322.04,89.36 L322.38,89.86 L322.71,90.37 L323.05,90.87 L323.38,91.38 L323.71,91.89 L324.05,92.39 L324.38,92.90 L324.71,93.41 L325.05,93.92 L325.38,94.42 L325.71,94.93 L326.05,95.44 L326.38,95.94 L326.72,96.45 L327.05,96.95 L327.38,97.45 L327.72,97.96 L328.05,98.46 L328.38,98.96 L328.72,99.46 L329.05,99.95 L329.38,100.45 L329.72,100.94 L330.05,101.43 L330.39,101.92 L330.72,102.41 L331.05,102.89 L331.39,103.37 L331.72,103.85 L332.05,104.33 L332.39,104.80 L332.72,105.27 L333.06,105.74 L333.39,106.21 L333.72,106.67 L334.06,107.12 L334.39,107.58 L334.72,108.03 L335.06,108.47 L335.39,108.92 L335.72,109.35 L336.06,109.79 L336.39,110.22 L336.73,110.65 L337.06,111.07 L337.39,111.48 L337.73,111.90 L338.06,112.30 L338.39,112.71 L338.73,113.10 L339.06,113.50 L339.39,113.88 L339.73,114.27 L340.06,114.65 L340.40,115.02 L340.73,115.38 L341.06,115.75 L341.40,116.10 L341.73,116.45 L342.06,116.80 L342.40,117.14 L342.73,117.47 L343.06,117.80 L343.40,118.12 L343.73,118.44 L344.07,118.75 L344.40,119.06 L344.73,119.35 L345.07,119.65 L345.40,119.93 L345.73,120.22 L346.07,120.49 L346.40,120.76 L346.73,121.02 L347.07,121.28 L347.40,121.53 L347.74,121.77 L348.07,122.01 L348.40,122.24 L348.74,122.47 L349.07,122.69 L349.40,122.90 L349.74,123.11 L350.07,123.31 L350.40,123.50 L350.74,123.69 L351.07,123.87 L351.41,124.05 L351.74,124.21 L352.07,124.38 L352.41,124.53 L352.74,124.68 L353.07,124.83 L353.41,124.96 L353.74,125.09 L354.08,125.22 L354.41,125.34 L354.74,125.45 L355.08,125.55 L355.41,125.65 L355.74,125.75 L356.08,125.83 L356.41,125.91 L356.74,125.99 L357.08,126.05 L357.41,126.12 L357.75,126.17 L358.08,126.22 L358.41,126.26 L358.75,126.30 L359.08,126.33 L359.41,126.35 L359.75,126.37 L360.08,126.38 L360.41,126.38 L360.75,126.38 L361.08,126.37 L361.42,126.36 L361.75,126.33 L362.08,126.30 L362.42,126.27 L362.75,126.22 L363.08,126.17 L363.42,126.11 L363.75,126.05 L364.08,125.97 L364.42,125.90 L364.75,125.81 L365.09,125.72 L365.42,125.62 L365.75,125.51 L366.09,125.40 L366.42,125.28 L366.75,125.15 L367.09,125.02 L367.42,124.88 L367.75,124.73 L368.09,124.57 L368.42,124.41 L368.76,124.25 L369.09,124.07 L369.42,123.89 L369.76,123.71 L370.09,123.52 L370.42,123.32 L370.76,123.11 L371.09,122.90 L371.42,122.68 L371.76,122.46 L372.09,122.23 L372.43,122.00 L372.76,121.75 L373.09,121.51 L373.43,121.25 L373.76,120.99 L374.09,120.73 L374.43,120.46 L374.76,120.18 L375.10,119.90 L375.43,119.62 L375.76,119.32 L376.10,119.03 L376.43,118.72 L376.76,118.42 L377.10,118.10 L377.43,117.79 L377.76,117.46 L378.10,117.14 L378.43,116.81 L378.77,116.47 L379.10,116.13 L379.43,115.78 L379.77,115.43 L380.10,115.08 L380.43,114.72 L380.77,114.36 L381.10,113.99 L381.43,113.62 L381.77,113.25 L382.10,112.87 L382.44,112.49 L382.77,112.10 L383.10,111.71 L383.44,111.32 L383.77,110.93 L384.10,110.53 L384.44,110.13 L384.77,109.72 L385.10,109.32 L385.44,108.91 L385.77,108.49 L386.11,108.08 L386.44,107.66 L386.77,107.24 L387.11,106.81 L387.44,106.39 L387.77,105.96 L388.11,105.53 L388.44,105.10 L388.77,104.67 L389.11,104.23 L389.44,103.80 L389.78,103.36 L390.11,102.92 L390.44,102.48 L390.78,102.03 L391.11,101.59 L391.44,101.14 L391.78,100.70 L392.11,100.25 L392.44,99.80 L392.78,99.35 L393.11,98.91 L393.45,98.46 L393.78,98.01 L394.11,97.55 L394.45,97.10 L394.78,96.65 L395.11,96.20 L395.45,95.75 L395.78,95.30 L396.12,94.84 L396.45,94.39 L396.78,93.94 L397.12,93.49 L397.45,93.04 L397.78,92.59 L398.12,92.14 L398.45,91.69 L398.78,91.24 L399.12,90.79 L399.45,90.35 L399.79,89.90 L400.12,89.46 L400.45,89.01 L400.79,88.57 L401.12,88.13 L401.45,87.69 L401.79,87.25 L402.12,86.81 L402.45,86.37 L402.79,85.94 L403.12,85.50 L403.46,85.07 L403.79,84.64 L404.12,84.21 L404.46,83.78 L404.79,83.36 L405.12,82.93 L405.46,82.51 L405.79,82.09 L406.12,81.67 L406.46,81.25 L406.79,80.84 L407.13,80.43 L407.46,80.02 L407.79,79.61 L408.13,79.20 L408.46,78.80 L408.79,78.39 L409.13,77.99 L409.46,77.60 L409.79,77.20 L410.13,76.81 L410.46,76.42 L410.80,76.03 L411.13,75.64 L411.46,75.26 L411.80,74.88 L412.13,74.50 L412.46,74.12 L412.80,73.75 L413.13,73.38 L413.46,73.01 L413.80,72.64 L414.13,72.28 L414.47,71.92 L414.80,71.56 L415.13,71.20 L415.47,70.85 L415.80,70.50 L416.13,70.15 L416.47,69.81 L416.80,69.46 L417.13,69.12 L417.47,68.79 L417.80,68.45 L418.14,68.12 L418.47,67.79 L418.80,67.46 L419.14,67.14 L419.47,66.82 L419.80,66.50 L420.14,66.18 L420.47,65.87 L420.81,65.55 L421.14,65.25 L421.47,64.94 L421.81,64.64 L422.14,64.34 L422.47,64.04 L422.81,63.74 L423.14,63.45 L423.47,63.16 L423.81,62.87 L424.14,62.59 L424.48,62.30 L424.81,62.02 L425.14,61.75 L425.48,61.47 L425.81,61.20 L426.14,60.93 L426.48,60.66 L426.81,60.40 L427.14,60.13 L427.48,59.87 L427.81,59.62 L428.15,59.36 L428.48,59.11 L428.81,58.86 L429.15,58.61 L429.48,58.37 L429.81,58.12 L430.15,57.88 L430.48,57.64 L430.81,57.41 L431.15,57.18 L431.48,56.94 L431.82,56.71 L432.15,56.49 L432.48,56.26 L432.82,56.04 L433.15,55.82 L433.48,55.60 L433.82,55.39 L434.15,55.18 L434.48,54.96 L434.82,54.76 L435.15,54.55 L435.49,54.34 L435.82,54.14 L436.15,53.94 L436.49,53.74 L436.82,53.55 L437.15,53.35 L437.49,53.16 L437.82,52.97 L438.15,52.78 L438.49,52.59 L438.82,52.41 L439.16,52.23 L439.49,52.05 L439.82,51.87 L440.16,51.69 L440.49,51.51 L440.82,51.34 L441.16,51.17 L441.49,51.00 L441.83,50.83 L442.16,50.67 L442.49,50.50 L442.83,50.34 L443.16,50.18 L443.49,50.02 L443.83,49.86 L444.16,49.71 L444.49,49.55 L444.83,49.40 L445.16,49.25 L445.50,49.10 L445.83,48.95 L446.16,48.81 L446.50,48.66 L446.83,48.52 L447.16,48.38 L447.50,48.24 L447.83,48.10 L448.16,47.97 L448.50,47.83 L448.83,47.70 L449.17,47.56 L449.50,47.43 L449.83,47.30 L450.17,47.18 L450.50,47.05" fill="none" stroke="#6a6a6a" stroke-width="1.25"/>
<g fill="#fff" stroke="#52b6d6" stroke-width="0.9"><circle cx="275.00" cy="46.64" r="1.4"/><circle cx="276.75" cy="47.28" r="1.4"/><circle cx="278.51" cy="47.96" r="1.4"/><circle cx="280.26" cy="48.70" r="1.4"/><circle cx="282.02" cy="49.49" r="1.4"/><circle cx="283.77" cy="50.34" r="1.4"/><circle cx="285.53" cy="51.24" r="1.4"/><circle cx="287.29" cy="52.22" r="1.4"/><circle cx="289.04" cy="53.26" r="1.4"/><circle cx="290.80" cy="54.38" r="1.4"/><circle cx="292.55" cy="55.57" r="1.4"/><circle cx="294.31" cy="56.85" r="1.4"/><circle cx="296.06" cy="58.21" r="1.4"/><circle cx="297.81" cy="59.67" r="1.4"/><circle cx="299.57" cy="61.22" r="1.4"/><circle cx="301.32" cy="62.86" r="1.4"/><circle cx="303.08" cy="64.61" r="1.4"/><circle cx="304.83" cy="66.45" r="1.4"/><circle cx="306.59" cy="68.40" r="1.4"/><circle cx="308.35" cy="70.45" r="1.4"/><circle cx="310.10" cy="72.59" r="1.4"/><circle cx="311.86" cy="74.83" r="1.4"/><circle cx="313.61" cy="77.16" r="1.4"/><circle cx="315.37" cy="79.58" r="1.4"/><circle cx="317.12" cy="82.07" r="1.4"/><circle cx="318.88" cy="84.62" r="1.4"/><circle cx="320.63" cy="87.23" r="1.4"/><circle cx="322.38" cy="89.87" r="1.4"/><circle cx="324.14" cy="92.54" r="1.4"/><circle cx="325.89" cy="95.20" r="1.4"/><circle cx="327.65" cy="97.86" r="1.4"/><circle cx="329.40" cy="100.48" r="1.4"/><circle cx="331.16" cy="103.05" r="1.4"/><circle cx="332.92" cy="105.55" r="1.4"/><circle cx="334.67" cy="107.96" r="1.4"/><circle cx="336.43" cy="110.26" r="1.4"/><circle cx="338.18" cy="112.45" r="1.4"/><circle cx="339.94" cy="114.50" r="1.4"/><circle cx="341.69" cy="116.41" r="1.4"/><circle cx="343.44" cy="118.17" r="1.4"/><circle cx="345.20" cy="119.76" r="1.4"/><circle cx="346.95" cy="121.19" r="1.4"/><circle cx="348.71" cy="122.45" r="1.4"/><circle cx="350.47" cy="123.54" r="1.4"/><circle cx="352.22" cy="124.45" r="1.4"/><circle cx="353.98" cy="125.18" r="1.4"/><circle cx="355.73" cy="125.74" r="1.4"/><circle cx="357.49" cy="126.13" r="1.4"/><circle cx="359.24" cy="126.34" r="1.4"/><circle cx="361.00" cy="126.38" r="1.4"/><circle cx="362.75" cy="126.22" r="1.4"/><circle cx="364.50" cy="125.87" r="1.4"/><circle cx="366.26" cy="125.34" r="1.4"/><circle cx="368.01" cy="124.61" r="1.4"/><circle cx="369.77" cy="123.70" r="1.4"/><circle cx="371.52" cy="122.62" r="1.4"/><circle cx="373.28" cy="121.37" r="1.4"/><circle cx="375.03" cy="119.95" r="1.4"/><circle cx="376.79" cy="118.39" r="1.4"/><circle cx="378.55" cy="116.69" r="1.4"/><circle cx="380.30" cy="114.87" r="1.4"/><circle cx="382.06" cy="112.92" r="1.4"/><circle cx="383.81" cy="110.88" r="1.4"/><circle cx="385.56" cy="108.75" r="1.4"/><circle cx="387.32" cy="106.54" r="1.4"/><circle cx="389.07" cy="104.28" r="1.4"/><circle cx="390.83" cy="101.96" r="1.4"/><circle cx="392.58" cy="99.62" r="1.4"/><circle cx="394.34" cy="97.25" r="1.4"/><circle cx="396.10" cy="94.87" r="1.4"/><circle cx="397.85" cy="92.50" r="1.4"/><circle cx="399.61" cy="90.14" r="1.4"/><circle cx="401.36" cy="87.81" r="1.4"/><circle cx="403.12" cy="85.51" r="1.4"/><circle cx="404.87" cy="83.25" r="1.4"/><circle cx="406.62" cy="81.05" r="1.4"/><circle cx="408.38" cy="78.89" r="1.4"/><circle cx="410.13" cy="76.80" r="1.4"/><circle cx="411.89" cy="74.77" r="1.4"/><circle cx="413.64" cy="72.81" r="1.4"/><circle cx="415.40" cy="70.92" r="1.4"/><circle cx="417.15" cy="69.10" r="1.4"/><circle cx="418.91" cy="67.36" r="1.4"/><circle cx="420.66" cy="65.68" r="1.4"/><circle cx="422.42" cy="64.08" r="1.4"/><circle cx="424.18" cy="62.56" r="1.4"/><circle cx="425.93" cy="61.10" r="1.4"/><circle cx="427.69" cy="59.71" r="1.4"/><circle cx="429.44" cy="58.40" r="1.4"/><circle cx="431.19" cy="57.14" r="1.4"/><circle cx="432.95" cy="55.95" r="1.4"/><circle cx="434.71" cy="54.83" r="1.4"/><circle cx="436.46" cy="53.76" r="1.4"/><circle cx="438.22" cy="52.75" r="1.4"/><circle cx="439.97" cy="51.79" r="1.4"/><circle cx="441.73" cy="50.88" r="1.4"/><circle cx="443.48" cy="50.03" r="1.4"/><circle cx="445.24" cy="49.22" r="1.4"/><circle cx="446.99" cy="48.45" r="1.4"/><circle cx="448.75" cy="47.73" r="1.4"/><circle cx="450.50" cy="47.05" r="1.4"/></g>
<path d="M275.00,25.40 L275.33,25.45 L275.67,25.50 L276.00,25.55 L276.33,25.60 L276.67,25.66 L277.00,25.71 L277.34,25.76 L277.67,25.82 L278.00,25.88 L278.34,25.93 L278.67,25.99 L279.00,26.05 L279.34,26.11 L279.67,26.17 L280.00,26.23 L280.34,26.30 L280.67,26.36 L281.01,26.42 L281.34,26.49 L281.67,26.56 L282.01,26.62 L282.34,26.69 L282.67,26.76 L283.01,26.83 L283.34,26.90 L283.67,26.97 L284.01,27.05 L284.34,27.12 L284.68,27.20 L285.01,27.28 L285.34,27.35 L285.68,27.43 L286.01,27.51 L286.34,27.59 L286.68,27.68 L287.01,27.76 L287.35,27.85 L287.68,27.93 L288.01,28.02 L288.35,28.11 L288.68,28.20 L289.01,28.30 L289.35,28.39 L289.68,28.48 L290.01,28.58 L290.35,28.68 L290.68,28.78 L291.02,28.88 L291.35,28.98 L291.68,29.09 L292.02,29.19 L292.35,29.30 L292.68,29.41 L293.02,29.52 L293.35,29.63 L293.68,29.75 L294.02,29.87 L294.35,29.98 L294.69,30.10 L295.02,30.23 L295.35,30.35 L295.69,30.48 L296.02,30.60 L296.35,30.73 L296.69,30.87 L297.02,31.00 L297.35,31.14 L297.69,31.27 L298.02,31.42 L298.36,31.56 L298.69,31.70 L299.02,31.85 L299.36,32.00 L299.69,32.15 L300.02,32.31 L300.36,32.47 L300.69,32.63 L301.02,32.79 L301.36,32.95 L301.69,33.12 L302.03,33.29 L302.36,33.46 L302.69,33.64 L303.03,33.82 L303.36,34.00 L303.69,34.19 L304.03,34.37 L304.36,34.56 L304.69,34.76 L305.03,34.95 L305.36,35.16 L305.70,35.36 L306.03,35.57 L306.36,35.78 L306.70,35.99 L307.03,36.21 L307.36,36.43 L307.70,36.65 L308.03,36.88 L308.37,37.11 L308.70,37.35 L309.03,37.59 L309.37,37.83 L309.70,38.08 L310.03,38.33 L310.37,38.58 L310.70,38.84 L311.03,39.11 L311.37,39.37 L311.70,39.65 L312.04,39.92 L312.37,40.20 L312.70,40.49 L313.04,40.78 L313.37,41.08 L313.70,41.38 L314.04,41.68 L314.37,41.99 L314.70,42.30 L315.04,42.62 L315.37,42.95 L315.71,43.28 L316.04,43.62 L316.37,43.96 L316.71,44.30 L317.04,44.66 L317.37,45.01 L317.71,45.38 L318.04,45.75 L318.37,46.12 L318.71,46.50 L319.04,46.89 L319.38,47.28 L319.71,47.68 L320.04,48.09 L320.38,48.50 L320.71,48.91 L321.04,49.34 L321.38,49.77 L321.71,50.21 L322.04,50.65 L322.38,51.10 L322.71,51.56 L323.05,52.03 L323.38,52.50 L323.71,52.98 L324.05,53.46 L324.38,53.96 L324.71,54.46 L325.05,54.97 L325.38,55.48 L325.71,56.00 L326.05,56.53 L326.38,57.07 L326.72,57.62 L327.05,58.17 L327.38,58.73 L327.72,59.30 L328.05,59.88 L328.38,60.46 L328.72,61.05 L329.05,61.65 L329.38,62.26 L329.72,62.87 L330.05,63.50 L330.39,64.13 L330.72,64.77 L331.05,65.42 L331.39,66.07 L331.72,66.73 L332.05,67.41 L332.39,68.08 L332.72,68.77 L333.06,69.47 L333.39,70.17 L333.72,70.88 L334.06,71.60 L334.39,72.32 L334.72,73.05 L335.06,73.79 L335.39,74.54 L335.72,75.29 L336.06,76.05 L336.39,76.82 L336.73,77.60 L337.06,78.38 L337.39,79.17 L337.73,79.96 L338.06,80.76 L338.39,81.56 L338.73,82.37 L339.06,83.19 L339.39,84.01 L339.73,84.83 L340.06,85.66 L340.40,86.50 L340.73,87.33 L341.06,88.18 L341.40,89.02 L341.73,89.87 L342.06,90.71 L342.40,91.57 L342.73,92.42 L343.06,93.27 L343.40,94.12 L343.73,94.98 L344.07,95.83 L344.40,96.68 L344.73,97.54 L345.07,98.39 L345.40,99.23 L345.73,100.08 L346.07,100.92 L346.40,101.75 L346.73,102.58 L347.07,103.41 L347.40,104.23 L347.74,105.04 L348.07,105.85 L348.40,106.64 L348.74,107.43 L349.07,108.21 L349.40,108.98 L349.74,109.74 L350.07,110.48 L350.40,111.22 L350.74,111.94 L351.07,112.64 L351.41,113.34 L351.74,114.02 L352.07,114.68 L352.41,115.32 L352.74,115.95 L353.07,116.56 L353.41,117.15 L353.74,117.72 L354.08,118.28 L354.41,118.81 L354.74,119.32 L355.08,119.81 L355.41,120.27 L355.74,120.71 L356.08,121.13 L356.41,121.53 L356.74,121.90 L357.08,122.24 L357.41,122.56 L357.75,122.86 L358.08,123.13 L358.41,123.37 L358.75,123.58 L359.08,123.77 L359.41,123.92 L359.75,124.06 L360.08,124.16 L360.41,124.23 L360.75,124.28 L361.08,124.30 L361.42,124.29 L361.75,124.25 L362.08,124.17 L362.42,124.07 L362.75,123.94 L363.08,123.77 L363.42,123.58 L363.75,123.35 L364.08,123.10 L364.42,122.81 L364.75,122.50 L365.09,122.16 L365.42,121.79 L365.75,121.40 L366.09,120.98 L366.42,120.53 L366.75,120.06 L367.09,119.57 L367.42,119.05 L367.75,118.51 L368.09,117.94 L368.42,117.36 L368.76,116.76 L369.09,116.13 L369.42,115.49 L369.76,114.83 L370.09,114.16 L370.42,113.47 L370.76,112.76 L371.09,112.04 L371.42,111.31 L371.76,110.56 L372.09,109.81 L372.43,109.04 L372.76,108.26 L373.09,107.48 L373.43,106.69 L373.76,105.89 L374.09,105.08 L374.43,104.27 L374.76,103.45 L375.10,102.63 L375.43,101.80 L375.76,100.97 L376.10,100.14 L376.43,99.31 L376.76,98.48 L377.10,97.64 L377.43,96.81 L377.76,95.98 L378.10,95.15 L378.43,94.32 L378.77,93.49 L379.10,92.66 L379.43,91.84 L379.77,91.02 L380.10,90.21 L380.42,89.39 L380.74,88.58 L381.07,87.77 L381.39,86.97 L381.71,86.18 L382.04,85.39 L382.36,84.60 L382.68,83.82 L383.01,83.05 L383.33,82.29 L383.66,81.53 L383.98,80.78 L384.30,80.03 L384.63,79.29 L384.95,78.56 L385.27,77.84 L385.60,77.12 L385.92,76.41 L386.25,75.71 L386.57,75.01 L386.89,74.33 L387.22,73.65 L387.54,72.97 L387.87,72.31 L388.19,71.65 L388.52,71.01 L388.84,70.36 L389.16,69.73 L389.49,69.10 L389.81,68.49 L390.14,67.88 L390.46,67.27 L390.79,66.68 L391.11,66.09 L391.44,65.51 L391.76,64.94 L392.09,64.37 L392.41,63.81 L392.74,63.26 L393.07,62.72 L393.39,62.18 L393.72,61.65 L394.04,61.13 L394.37,60.61 L394.69,60.10 L395.00,59.58 L395.31,59.07 L395.61,58.57 L395.92,58.07 L396.23,57.58 L396.54,57.10 L396.85,56.62 L397.16,56.15 L397.47,55.69 L397.78,55.23 L398.09,54.77 L398.40,54.33 L398.72,53.88 L399.03,53.45 L399.34,53.02 L399.65,52.59 L399.97,52.17 L400.28,51.75 L400.59,51.34 L400.91,50.94 L401.22,50.54 L401.54,50.14 L401.85,49.75 L402.17,49.37 L402.48,48.99 L402.80,48.61 L403.12,48.24 L403.43,47.87 L403.75,47.51 L404.07,47.15 L404.39,46.80 L404.71,46.45 L405.03,46.10 L405.34,45.76 L405.66,45.43 L405.98,45.09 L406.31,44.77 L406.63,44.44 L406.96,44.13 L407.30,43.84 L407.64,43.55 L407.99,43.27 L408.33,42.99 L408.67,42.71 L409.02,42.44 L409.36,42.17 L409.70,41.91 L410.04,41.65 L410.39,41.39 L410.73,41.13 L411.07,40.88 L411.42,40.64 L411.76,40.39 L412.10,40.15 L412.45,39.92 L412.79,39.68 L413.13,39.45 L413.48,39.22 L413.82,39.00 L414.16,38.78 L414.50,38.56 L414.85,38.35 L415.19,38.13 L415.53,37.92 L415.88,37.72 L416.22,37.51 L416.56,37.31 L416.90,37.11 L417.25,36.92 L417.59,36.72 L417.93,36.53 L418.27,36.34 L418.62,36.16 L418.96,35.97 L419.30,35.79 L419.64,35.61 L419.98,35.44 L420.33,35.26 L420.67,35.09 L421.01,34.92 L421.35,34.75 L421.69,34.59 L422.03,34.43 L422.38,34.26 L422.72,34.11 L423.06,33.95 L423.40,33.79 L423.74,33.64 L424.08,33.49 L424.43,33.35 L424.78,33.22 L425.13,33.10 L425.48,32.97 L425.83,32.85 L426.18,32.73 L426.52,32.61 L426.87,32.50 L427.22,32.38 L427.57,32.27 L427.92,32.16 L428.26,32.05 L428.61,31.94 L428.96,31.84 L429.30,31.73 L429.65,31.63 L430.00,31.53 L430.34,31.43 L430.69,31.33 L431.03,31.24 L431.38,31.14 L431.73,31.05 L432.07,30.95 L432.42,30.86 L432.76,30.77 L433.10,30.68 L433.45,30.60 L433.79,30.51 L434.14,30.43 L434.48,30.34 L434.82,30.26 L435.17,30.18 L435.51,30.10 L435.85,30.02 L436.20,29.95 L436.54,29.87 L436.88,29.79 L437.23,29.72 L437.57,29.65 L437.91,29.58 L438.25,29.51 L438.59,29.44 L438.94,29.37 L439.28,29.30 L439.62,29.23 L439.96,29.16 L440.30,29.09 L440.64,29.02 L440.98,28.95 L441.32,28.88 L441.65,28.82 L441.99,28.75 L442.33,28.68 L442.67,28.62 L443.01,28.55 L443.35,28.49 L443.69,28.43 L444.03,28.37 L444.36,28.31 L444.70,28.25 L445.04,28.19 L445.38,28.13 L445.72,28.07 L446.05,28.01 L446.39,27.96 L446.73,27.90 L447.07,27.85 L447.40,27.79 L447.74,27.74 L448.08,27.69 L448.42,27.63 L448.75,27.58 L449.09,27.53 L449.43,27.48 L449.77,27.43 L450.10,27.38 L450.44,27.34" fill="none" stroke="#6a6a6a" stroke-width="1.25"/>
<g fill="#fff" stroke="#e4604c" stroke-width="0.9"><circle cx="275.00" cy="25.40" r="1.4"/><circle cx="276.75" cy="25.67" r="1.4"/><circle cx="278.51" cy="25.96" r="1.4"/><circle cx="280.26" cy="26.28" r="1.4"/><circle cx="282.02" cy="26.63" r="1.4"/><circle cx="283.77" cy="27.00" r="1.4"/><circle cx="285.53" cy="27.40" r="1.4"/><circle cx="287.29" cy="27.83" r="1.4"/><circle cx="289.04" cy="28.30" r="1.4"/><circle cx="290.80" cy="28.81" r="1.4"/><circle cx="292.55" cy="29.37" r="1.4"/><circle cx="294.31" cy="29.97" r="1.4"/><circle cx="296.06" cy="30.62" r="1.4"/><circle cx="297.81" cy="31.33" r="1.4"/><circle cx="299.57" cy="32.10" r="1.4"/><circle cx="301.32" cy="32.94" r="1.4"/><circle cx="303.08" cy="33.85" r="1.4"/><circle cx="304.83" cy="34.84" r="1.4"/><circle cx="306.59" cy="35.92" r="1.4"/><circle cx="308.35" cy="37.10" r="1.4"/><circle cx="310.10" cy="38.38" r="1.4"/><circle cx="311.86" cy="39.77" r="1.4"/><circle cx="313.61" cy="41.29" r="1.4"/><circle cx="315.37" cy="42.94" r="1.4"/><circle cx="317.12" cy="44.74" r="1.4"/><circle cx="318.88" cy="46.69" r="1.4"/><circle cx="320.63" cy="48.81" r="1.4"/><circle cx="322.38" cy="51.11" r="1.4"/><circle cx="324.14" cy="53.60" r="1.4"/><circle cx="325.89" cy="56.29" r="1.4"/><circle cx="327.65" cy="59.18" r="1.4"/><circle cx="329.40" cy="62.30" r="1.4"/><circle cx="331.16" cy="65.63" r="1.4"/><circle cx="332.92" cy="69.17" r="1.4"/><circle cx="334.67" cy="72.94" r="1.4"/><circle cx="336.43" cy="76.90" r="1.4"/><circle cx="338.18" cy="81.05" r="1.4"/><circle cx="339.94" cy="85.35" r="1.4"/><circle cx="341.69" cy="89.76" r="1.4"/><circle cx="343.44" cy="94.24" r="1.4"/><circle cx="345.20" cy="98.72" r="1.4"/><circle cx="346.95" cy="103.13" r="1.4"/><circle cx="348.71" cy="107.37" r="1.4"/><circle cx="350.47" cy="111.35" r="1.4"/><circle cx="352.22" cy="114.96" r="1.4"/><circle cx="353.98" cy="118.11" r="1.4"/><circle cx="355.73" cy="120.70" r="1.4"/><circle cx="357.49" cy="122.63" r="1.4"/><circle cx="359.24" cy="123.85" r="1.4"/><circle cx="361.00" cy="124.30" r="1.4"/><circle cx="362.75" cy="123.94" r="1.4"/><circle cx="364.50" cy="122.73" r="1.4"/><circle cx="366.26" cy="120.75" r="1.4"/><circle cx="368.01" cy="118.07" r="1.4"/><circle cx="369.77" cy="114.81" r="1.4"/><circle cx="371.52" cy="111.09" r="1.4"/><circle cx="373.28" cy="107.04" r="1.4"/><circle cx="375.03" cy="102.77" r="1.4"/><circle cx="376.79" cy="98.41" r="1.4"/><circle cx="378.55" cy="94.03" r="1.4"/><circle cx="380.30" cy="89.72" r="1.4"/><circle cx="382.06" cy="85.52" r="1.4"/><circle cx="383.81" cy="81.49" r="1.4"/><circle cx="385.56" cy="77.64" r="1.4"/><circle cx="387.32" cy="74.00" r="1.4"/><circle cx="389.07" cy="70.57" r="1.4"/><circle cx="390.83" cy="67.35" r="1.4"/><circle cx="392.58" cy="64.35" r="1.4"/><circle cx="394.34" cy="61.55" r="1.4"/><circle cx="396.10" cy="58.95" r="1.4"/><circle cx="397.85" cy="56.53" r="1.4"/><circle cx="399.61" cy="54.29" r="1.4"/><circle cx="401.36" cy="52.21" r="1.4"/><circle cx="403.12" cy="50.28" r="1.4"/><circle cx="404.87" cy="48.49" r="1.4"/><circle cx="406.62" cy="46.82" r="1.4"/><circle cx="408.38" cy="45.28" r="1.4"/><circle cx="410.13" cy="43.85" r="1.4"/><circle cx="411.89" cy="42.52" r="1.4"/><circle cx="413.64" cy="41.28" r="1.4"/><circle cx="415.40" cy="40.12" r="1.4"/><circle cx="417.15" cy="39.05" r="1.4"/><circle cx="418.91" cy="38.05" r="1.4"/><circle cx="420.66" cy="37.11" r="1.4"/><circle cx="422.42" cy="36.24" r="1.4"/><circle cx="424.18" cy="35.42" r="1.4"/><circle cx="425.93" cy="34.65" r="1.4"/><circle cx="427.69" cy="33.93" r="1.4"/><circle cx="429.44" cy="33.26" r="1.4"/><circle cx="431.19" cy="32.63" r="1.4"/><circle cx="432.95" cy="32.03" r="1.4"/><circle cx="434.71" cy="31.47" r="1.4"/><circle cx="436.46" cy="30.95" r="1.4"/><circle cx="438.22" cy="30.45" r="1.4"/><circle cx="439.97" cy="29.98" r="1.4"/><circle cx="441.73" cy="29.54" r="1.4"/><circle cx="443.48" cy="29.12" r="1.4"/><circle cx="445.24" cy="28.72" r="1.4"/><circle cx="446.99" cy="28.35" r="1.4"/><circle cx="448.75" cy="27.99" r="1.4"/><circle cx="450.50" cy="27.65" r="1.4"/></g>
</g>
<path d="M274.0,4.5 H451.0" stroke="#6e6e6e" stroke-width="1" fill="none"/>
<path d="M450.5,4.5 V137.5" stroke="#7d7d7d" stroke-width="1" fill="none"/>
<path d="M274.5,137.5 H451.0" stroke="#828282" stroke-width="1" fill="none"/>
<path d="M275.0,4.0 V138.0" stroke="#6e6e6e" stroke-width="1" fill="none"/>
<g stroke="#606060" stroke-width="0.8" fill="none">
<path d="M272.8,126.42 H275.0"/>
<path d="M273.8,115.33 H275.0"/>
<path d="M272.8,104.25 H275.0"/>
<path d="M273.8,93.17 H275.0"/>
<path d="M272.8,82.08 H275.0"/>
<path d="M273.8,71.00 H275.0"/>
<path d="M272.8,59.92 H275.0"/>
<path d="M273.8,48.83 H275.0"/>
<path d="M272.8,37.75 H275.0"/>
<path d="M273.8,26.67 H275.0"/>
<path d="M272.8,15.58 H275.0"/>
<path d="M275.00,137.5 V139.7"/>
<path d="M310.10,137.5 V139.7"/>
<path d="M345.20,137.5 V139.7"/>
<path d="M380.30,137.5 V139.7"/>
<path d="M415.40,137.5 V139.7"/>
<path d="M450.50,137.5 V139.7"/>
<path d="M292.55,137.5 V138.7"/>
<path d="M327.65,137.5 V138.7"/>
<path d="M362.75,137.5 V138.7"/>
<path d="M397.85,137.5 V138.7"/>
<path d="M432.95,137.5 V138.7"/>
</g>
<g font-size="7.7" fill="#222" stroke="#222" stroke-width="0.12">
<text transform="translate(271.10,129.02) scale(0.91,1)" text-anchor="end">0.0</text>
<text transform="translate(271.10,106.85) scale(0.91,1)" text-anchor="end">0.2</text>
<text transform="translate(271.10,84.68) scale(0.91,1)" text-anchor="end">0.4</text>
<text transform="translate(271.10,62.52) scale(0.91,1)" text-anchor="end">0.6</text>
<text transform="translate(271.10,40.35) scale(0.91,1)" text-anchor="end">0.8</text>
<text transform="translate(271.10,18.18) scale(0.91,1)" text-anchor="end">1.0</text>
<text transform="translate(275.00,147.20) scale(0.91,1)" text-anchor="middle">−6000</text>
<text transform="translate(310.10,147.20) scale(0.91,1)" text-anchor="middle">−4000</text>
<text transform="translate(345.20,147.20) scale(0.91,1)" text-anchor="middle">−2000</text>
<text transform="translate(380.30,147.20) scale(0.91,1)" text-anchor="middle">0</text>
<text transform="translate(415.40,147.20) scale(0.91,1)" text-anchor="middle">2000</text>
<text transform="translate(450.50,147.20) scale(0.91,1)" text-anchor="middle">4000</text>
</g>
<text x="362.75" y="162.70" font-size="10.5" fill="#111" text-anchor="middle"><tspan font-size="6.5" dy="-3.8">31</tspan><tspan dy="3.8">P frequency offset (Hz)</tspan></text>
<text transform="translate(257.40,71.00) rotate(-90)" font-size="10.3" fill="#111" text-anchor="middle">Normalized <tspan font-size="6.5" dy="-3.8">31</tspan><tspan dy="3.8">P intensity</tspan></text>
<g fill="#111" stroke="#111" stroke-width="0.25">
<text transform="translate(420.73,127.81) scale(0.9281,1)" font-size="12.02" >β</text>
<text transform="translate(428.38,128.20) scale(0.7501,1)" font-size="11.77" >P</text>
</g>
<g clip-path="url(#c2)">
<path d="M500.18,40.20 L500.52,40.29 L500.86,40.38 L501.20,40.47 L501.54,40.56 L501.88,40.65 L502.22,40.75 L502.56,40.84 L502.90,40.94 L503.24,41.04 L503.58,41.14 L503.92,41.24 L504.26,41.34 L504.60,41.45 L504.94,41.55 L505.28,41.66 L505.62,41.77 L505.96,41.88 L506.30,41.99 L506.64,42.11 L506.98,42.22 L507.32,42.34 L507.66,42.46 L508.00,42.58 L508.34,42.70 L508.68,42.82 L509.02,42.95 L509.36,43.07 L509.70,43.20 L510.04,43.33 L510.38,43.47 L510.72,43.60 L511.06,43.74 L511.41,43.87 L511.75,44.01 L512.09,44.16 L512.43,44.30 L512.77,44.45 L513.11,44.59 L513.45,44.74 L513.80,44.90 L514.14,45.05 L514.48,45.21 L514.82,45.37 L515.16,45.53 L515.50,45.69 L515.85,45.85 L516.19,46.02 L516.53,46.19 L516.87,46.36 L517.21,46.54 L517.56,46.72 L517.90,46.90 L518.24,47.08 L518.58,47.26 L518.93,47.45 L519.27,47.64 L519.61,47.83 L519.95,48.03 L520.30,48.22 L520.64,48.42 L520.98,48.63 L521.32,48.83 L521.66,49.04 L522.01,49.26 L522.35,49.47 L522.69,49.69 L523.03,49.91 L523.37,50.13 L523.71,50.36 L524.06,50.59 L524.40,50.82 L524.74,51.06 L525.08,51.30 L525.42,51.54 L525.76,51.79 L526.11,52.03 L526.45,52.29 L526.79,52.54 L527.13,52.80 L527.47,53.06 L527.81,53.32 L528.15,53.59 L528.50,53.86 L528.84,54.14 L529.18,54.42 L529.52,54.70 L529.86,54.98 L530.20,55.27 L530.54,55.56 L530.88,55.86 L531.22,56.16 L531.57,56.46 L531.91,56.76 L532.25,57.07 L532.59,57.39 L532.93,57.70 L533.27,58.02 L533.61,58.35 L533.95,58.68 L534.29,59.01 L534.63,59.34 L534.97,59.68 L535.31,60.02 L535.65,60.37 L535.99,60.72 L536.33,61.07 L536.67,61.43 L537.01,61.79 L537.35,62.16 L537.69,62.53 L538.03,62.90 L538.37,63.28 L538.70,63.66 L539.04,64.04 L539.38,64.43 L539.72,64.82 L540.06,65.22 L540.40,65.61 L540.74,66.02 L541.08,66.42 L541.41,66.83 L541.75,67.25 L542.09,67.66 L542.43,68.09 L542.77,68.51 L543.10,68.94 L543.44,69.37 L543.78,69.81 L544.12,70.24 L544.45,70.69 L544.78,71.14 L545.11,71.60 L545.44,72.05 L545.77,72.51 L546.10,72.98 L546.42,73.45 L546.75,73.92 L547.08,74.39 L547.41,74.87 L547.74,75.35 L548.07,75.83 L548.39,76.31 L548.72,76.80 L549.05,77.29 L549.38,77.78 L549.71,78.28 L550.03,78.78 L550.36,79.28 L550.69,79.78 L551.01,80.28 L551.34,80.79 L551.67,81.30 L552.00,81.81 L552.32,82.32 L552.65,82.83 L552.98,83.35 L553.30,83.87 L553.63,84.38 L553.95,84.90 L554.28,85.42 L554.61,85.95 L554.93,86.47 L555.26,86.99 L555.58,87.51 L555.91,88.04 L556.24,88.56 L556.56,89.09 L556.89,89.61 L557.21,90.14 L557.54,90.67 L557.86,91.19 L558.19,91.72 L558.51,92.24 L558.84,92.76 L559.16,93.29 L559.49,93.81 L559.81,94.33 L560.14,94.85 L560.46,95.37 L560.79,95.89 L561.11,96.40 L561.44,96.92 L561.76,97.43 L562.09,97.94 L562.41,98.45 L562.73,98.95 L563.06,99.46 L563.38,99.96 L563.71,100.46 L564.03,100.96 L564.36,101.45 L564.68,101.94 L565.00,102.43 L565.33,102.91 L565.65,103.39 L565.97,103.87 L566.30,104.34 L566.62,104.82 L566.95,105.28 L567.27,105.74 L567.59,106.20 L567.92,106.66 L568.24,107.11 L568.56,107.56 L568.89,108.00 L569.21,108.44 L569.53,108.87 L569.86,109.30 L570.18,109.72 L570.50,110.14 L570.82,110.55 L571.15,110.96 L571.47,111.37 L571.79,111.77 L572.11,112.16 L572.43,112.55 L572.76,112.94 L573.08,113.32 L573.40,113.69 L573.72,114.06 L574.04,114.42 L574.37,114.78 L574.69,115.13 L575.01,115.48 L575.33,115.82 L575.65,116.15 L575.98,116.48 L576.30,116.80 L576.62,117.12 L576.94,117.44 L577.26,117.74 L577.59,118.04 L577.91,118.34 L578.23,118.63 L578.55,118.91 L578.88,119.19 L579.20,119.46 L579.52,119.73 L579.84,119.99 L580.17,120.24 L580.49,120.49 L580.81,120.73 L581.14,120.97 L581.46,121.20 L581.78,121.43 L582.11,121.65 L582.43,121.86 L582.75,122.07 L583.08,122.27 L583.40,122.47 L583.72,122.66 L584.05,122.85 L584.37,123.03 L584.70,123.20 L585.02,123.37 L585.35,123.54 L585.67,123.70 L586.00,123.85 L586.32,123.99 L586.65,124.14 L586.98,124.27 L587.30,124.40 L587.63,124.53 L587.96,124.65 L588.29,124.76 L588.61,124.87 L588.94,124.97 L589.27,125.07 L589.60,125.16 L589.93,125.25 L590.26,125.33 L590.59,125.40 L590.92,125.47 L591.25,125.54 L591.58,125.60 L591.91,125.65 L592.24,125.70 L592.57,125.75 L592.90,125.78 L593.24,125.82 L593.57,125.84 L593.90,125.86 L594.24,125.88 L594.57,125.89 L594.90,125.89 L595.24,125.88 L595.58,125.87 L595.91,125.85 L596.25,125.82 L596.58,125.78 L596.92,125.73 L597.26,125.68 L597.60,125.62 L597.94,125.55 L598.28,125.47 L598.61,125.38 L598.95,125.29 L599.29,125.18 L599.64,125.07 L599.98,124.95 L600.32,124.83 L600.66,124.69 L601.00,124.55 L601.34,124.40 L601.68,124.24 L602.03,124.07 L602.37,123.90 L602.71,123.72 L603.05,123.53 L603.40,123.33 L603.74,123.13 L604.08,122.91 L604.43,122.69 L604.77,122.47 L605.11,122.23 L605.46,121.99 L605.80,121.74 L606.14,121.48 L606.49,121.22 L606.83,120.94 L607.18,120.67 L607.52,120.38 L607.86,120.09 L608.21,119.79 L608.55,119.48 L608.90,119.17 L609.24,118.85 L609.58,118.52 L609.93,118.19 L610.27,117.85 L610.62,117.50 L610.96,117.15 L611.31,116.79 L611.65,116.43 L611.99,116.06 L612.34,115.68 L612.68,115.30 L613.03,114.91 L613.37,114.51 L613.71,114.12 L614.06,113.71 L614.40,113.30 L614.75,112.89 L615.09,112.46 L615.43,112.04 L615.78,111.61 L616.12,111.17 L616.47,110.73 L616.81,110.29 L617.15,109.84 L617.50,109.39 L617.84,108.93 L618.19,108.47 L618.53,108.00 L618.87,107.53 L619.22,107.06 L619.56,106.59 L619.90,106.11 L620.25,105.62 L620.59,105.14 L620.94,104.65 L621.28,104.15 L621.62,103.66 L621.97,103.16 L622.31,102.66 L622.65,102.16 L623.00,101.65 L623.34,101.15 L623.68,100.64 L624.03,100.13 L624.37,99.61 L624.71,99.10 L625.06,98.58 L625.40,98.07 L625.74,97.55 L626.09,97.03 L626.43,96.51 L626.77,95.99 L627.12,95.47 L627.46,94.94 L627.80,94.42 L628.15,93.90 L628.49,93.37 L628.83,92.85 L629.17,92.33 L629.52,91.80 L629.86,91.28 L630.20,90.76 L630.54,90.24 L630.89,89.72 L631.23,89.20 L631.57,88.68 L631.91,88.16 L632.26,87.64 L632.60,87.12 L632.94,86.61 L633.28,86.09 L633.62,85.58 L633.97,85.07 L634.31,84.56 L634.65,84.06 L634.99,83.55 L635.33,83.05 L635.67,82.55 L636.01,82.05 L636.36,81.55 L636.70,81.06 L637.04,80.56 L637.38,80.07 L637.72,79.59 L638.06,79.10 L638.40,78.62 L638.74,78.14 L639.08,77.66 L639.42,77.19 L639.76,76.72 L640.10,76.25 L640.44,75.79 L640.78,75.33 L641.12,74.87 L641.46,74.42 L641.80,73.96 L642.14,73.52 L642.48,73.07 L642.82,72.63 L643.16,72.19 L643.50,71.76 L643.84,71.32 L644.18,70.90 L644.51,70.47 L644.85,70.05 L645.19,69.63 L645.53,69.22 L645.87,68.81 L646.21,68.40 L646.54,68.00 L646.87,67.59 L647.20,67.19 L647.53,66.80 L647.87,66.40 L648.20,66.02 L648.53,65.63 L648.86,65.25 L649.19,64.87 L649.52,64.50 L649.85,64.13 L650.18,63.76 L650.52,63.40 L650.85,63.04 L651.18,62.68 L651.51,62.33 L651.84,61.98 L652.17,61.64 L652.50,61.29 L652.83,60.96 L653.16,60.62 L653.49,60.29 L653.82,59.97 L654.15,59.64 L654.48,59.32 L654.81,59.01 L655.14,58.69 L655.47,58.39 L655.80,58.08 L656.12,57.78 L656.45,57.48 L656.78,57.18 L657.11,56.89 L657.44,56.60 L657.77,56.32 L658.10,56.04 L658.43,55.76 L658.75,55.48 L659.08,55.21 L659.41,54.94 L659.74,54.68 L660.07,54.41 L660.40,54.16 L660.72,53.90 L661.05,53.65 L661.38,53.40 L661.71,53.15 L662.03,52.91 L662.36,52.66 L662.69,52.43 L663.02,52.19 L663.34,51.96 L663.67,51.73 L664.00,51.50 L664.33,51.28 L664.65,51.06 L664.98,50.84 L665.31,50.63 L665.63,50.41 L665.96,50.20 L666.29,49.99 L666.61,49.78 L666.93,49.57 L667.26,49.37 L667.58,49.16 L667.90,48.96 L668.23,48.76 L668.55,48.57 L668.87,48.37 L669.20,48.18 L669.52,47.99 L669.84,47.81 L670.17,47.62 L670.49,47.44 L670.82,47.26 L671.14,47.08 L671.46,46.91 L671.79,46.74 L672.11,46.57 L672.44,46.40 L672.76,46.23 L673.08,46.06 L673.41,45.90 L673.73,45.74 L674.06,45.58 L674.38,45.42 L674.71,45.27 L675.03,45.12 L675.36,44.96 L675.68,44.82 L676.01,44.67 L676.33,44.52 L676.66,44.38 L676.98,44.24 L677.31,44.09 L677.63,43.96 L677.96,43.82 L678.28,43.68 L678.61,43.55 L678.93,43.42 L679.26,43.29 L679.59,43.16 L679.91,43.03 L680.24,42.90 L680.56,42.78 L680.89,42.66 L681.22,42.54 L681.54,42.42 L681.87,42.30 L682.19,42.18 L682.52,42.06 L682.85,41.95 L683.17,41.84 L683.50,41.73" fill="none" stroke="#6a6a6a" stroke-width="1.25"/>
<g fill="#fff" stroke="#52b6d6" stroke-width="0.9"><circle cx="499.80" cy="41.65" r="1.4"/><circle cx="501.63" cy="42.15" r="1.4"/><circle cx="503.46" cy="42.69" r="1.4"/><circle cx="505.30" cy="43.28" r="1.4"/><circle cx="507.13" cy="43.90" r="1.4"/><circle cx="508.96" cy="44.58" r="1.4"/><circle cx="510.79" cy="45.30" r="1.4"/><circle cx="512.62" cy="46.09" r="1.4"/><circle cx="514.46" cy="46.93" r="1.4"/><circle cx="516.29" cy="47.84" r="1.4"/><circle cx="518.12" cy="48.82" r="1.4"/><circle cx="519.95" cy="49.88" r="1.4"/><circle cx="521.78" cy="51.01" r="1.4"/><circle cx="523.62" cy="52.23" r="1.4"/><circle cx="525.45" cy="53.54" r="1.4"/><circle cx="527.28" cy="54.94" r="1.4"/><circle cx="529.11" cy="56.44" r="1.4"/><circle cx="530.94" cy="58.05" r="1.4"/><circle cx="532.78" cy="59.77" r="1.4"/><circle cx="534.61" cy="61.59" r="1.4"/><circle cx="536.44" cy="63.53" r="1.4"/><circle cx="538.27" cy="65.59" r="1.4"/><circle cx="540.10" cy="67.76" r="1.4"/><circle cx="541.94" cy="70.04" r="1.4"/><circle cx="543.77" cy="72.43" r="1.4"/><circle cx="545.60" cy="74.93" r="1.4"/><circle cx="547.43" cy="77.51" r="1.4"/><circle cx="549.26" cy="80.19" r="1.4"/><circle cx="551.10" cy="82.93" r="1.4"/><circle cx="552.93" cy="85.72" r="1.4"/><circle cx="554.76" cy="88.56" r="1.4"/><circle cx="556.59" cy="91.41" r="1.4"/><circle cx="558.42" cy="94.26" r="1.4"/><circle cx="560.26" cy="97.09" r="1.4"/><circle cx="562.09" cy="99.86" r="1.4"/><circle cx="563.92" cy="102.57" r="1.4"/><circle cx="565.75" cy="105.18" r="1.4"/><circle cx="567.58" cy="107.69" r="1.4"/><circle cx="569.42" cy="110.07" r="1.4"/><circle cx="571.25" cy="112.30" r="1.4"/><circle cx="573.08" cy="114.38" r="1.4"/><circle cx="574.91" cy="116.30" r="1.4"/><circle cx="576.74" cy="118.04" r="1.4"/><circle cx="578.58" cy="119.61" r="1.4"/><circle cx="580.41" cy="121.00" r="1.4"/><circle cx="582.24" cy="122.21" r="1.4"/><circle cx="584.07" cy="123.24" r="1.4"/><circle cx="585.90" cy="124.10" r="1.4"/><circle cx="587.74" cy="124.79" r="1.4"/><circle cx="589.57" cy="125.31" r="1.4"/><circle cx="591.40" cy="125.66" r="1.4"/><circle cx="593.23" cy="125.84" r="1.4"/><circle cx="595.06" cy="125.86" r="1.4"/><circle cx="596.90" cy="125.65" r="1.4"/><circle cx="598.73" cy="125.20" r="1.4"/><circle cx="600.56" cy="124.51" r="1.4"/><circle cx="602.39" cy="123.60" r="1.4"/><circle cx="604.22" cy="122.45" r="1.4"/><circle cx="606.06" cy="121.08" r="1.4"/><circle cx="607.89" cy="119.50" r="1.4"/><circle cx="609.72" cy="117.71" r="1.4"/><circle cx="611.55" cy="115.74" r="1.4"/><circle cx="613.38" cy="113.58" r="1.4"/><circle cx="615.22" cy="111.27" r="1.4"/><circle cx="617.05" cy="108.81" r="1.4"/><circle cx="618.88" cy="106.22" r="1.4"/><circle cx="620.71" cy="103.53" r="1.4"/><circle cx="622.54" cy="100.75" r="1.4"/><circle cx="624.38" cy="97.91" r="1.4"/><circle cx="626.21" cy="95.03" r="1.4"/><circle cx="628.04" cy="92.13" r="1.4"/><circle cx="629.87" cy="89.23" r="1.4"/><circle cx="631.70" cy="86.35" r="1.4"/><circle cx="633.54" cy="83.50" r="1.4"/><circle cx="635.37" cy="80.71" r="1.4"/><circle cx="637.20" cy="77.98" r="1.4"/><circle cx="639.03" cy="75.33" r="1.4"/><circle cx="640.86" cy="72.77" r="1.4"/><circle cx="642.70" cy="70.31" r="1.4"/><circle cx="644.53" cy="67.94" r="1.4"/><circle cx="646.36" cy="65.69" r="1.4"/><circle cx="648.19" cy="63.54" r="1.4"/><circle cx="650.02" cy="61.50" r="1.4"/><circle cx="651.86" cy="59.57" r="1.4"/><circle cx="653.69" cy="57.74" r="1.4"/><circle cx="655.52" cy="56.03" r="1.4"/><circle cx="657.35" cy="54.41" r="1.4"/><circle cx="659.18" cy="52.89" r="1.4"/><circle cx="661.02" cy="51.47" r="1.4"/><circle cx="662.85" cy="50.14" r="1.4"/><circle cx="664.68" cy="48.89" r="1.4"/><circle cx="666.51" cy="47.73" r="1.4"/><circle cx="668.34" cy="46.64" r="1.4"/><circle cx="670.18" cy="45.62" r="1.4"/><circle cx="672.01" cy="44.67" r="1.4"/><circle cx="673.84" cy="43.79" r="1.4"/><circle cx="675.67" cy="42.97" r="1.4"/><circle cx="677.50" cy="42.20" r="1.4"/><circle cx="679.34" cy="41.48" r="1.4"/><circle cx="681.17" cy="40.82" r="1.4"/><circle cx="683.00" cy="40.20" r="1.4"/></g>
<path d="M500.08,23.27 L500.42,23.31 L500.76,23.36 L501.10,23.40 L501.44,23.45 L501.77,23.50 L502.11,23.54 L502.45,23.59 L502.79,23.64 L503.13,23.69 L503.47,23.74 L503.81,23.79 L504.16,23.84 L504.50,23.89 L504.84,23.95 L505.18,24.00 L505.52,24.05 L505.86,24.11 L506.20,24.17 L506.54,24.22 L506.88,24.28 L507.22,24.34 L507.56,24.40 L507.91,24.45 L508.25,24.52 L508.59,24.58 L508.93,24.64 L509.27,24.70 L509.62,24.76 L509.96,24.83 L510.30,24.89 L510.64,24.96 L510.99,25.03 L511.33,25.09 L511.67,25.16 L512.01,25.23 L512.36,25.30 L512.70,25.37 L513.04,25.45 L513.39,25.52 L513.73,25.59 L514.08,25.67 L514.42,25.75 L514.76,25.82 L515.11,25.90 L515.45,25.98 L515.80,26.06 L516.14,26.14 L516.49,26.22 L516.83,26.31 L517.18,26.39 L517.52,26.48 L517.87,26.57 L518.22,26.65 L518.56,26.74 L518.91,26.83 L519.25,26.93 L519.60,27.02 L519.95,27.11 L520.29,27.21 L520.64,27.31 L520.99,27.41 L521.33,27.53 L521.67,27.64 L522.01,27.76 L522.35,27.88 L522.70,28.00 L523.04,28.13 L523.38,28.25 L523.72,28.38 L524.07,28.50 L524.41,28.63 L524.75,28.76 L525.10,28.89 L525.44,29.03 L525.78,29.16 L526.12,29.30 L526.47,29.44 L526.81,29.57 L527.15,29.72 L527.50,29.86 L527.84,30.00 L528.18,30.15 L528.53,30.30 L528.87,30.45 L529.22,30.60 L529.56,30.75 L529.90,30.90 L530.25,31.06 L530.59,31.22 L530.94,31.38 L531.28,31.54 L531.63,31.71 L531.97,31.87 L532.32,32.04 L532.66,32.21 L533.01,32.39 L533.35,32.56 L533.70,32.74 L534.04,32.92 L534.39,33.10 L534.73,33.28 L535.08,33.47 L535.42,33.66 L535.77,33.85 L536.11,34.04 L536.46,34.24 L536.80,34.43 L537.15,34.63 L537.50,34.84 L537.84,35.04 L538.19,35.25 L538.53,35.46 L538.88,35.68 L539.22,35.89 L539.57,36.11 L539.92,36.33 L540.26,36.56 L540.61,36.78 L540.96,37.01 L541.30,37.25 L541.65,37.48 L542.00,37.72 L542.34,37.97 L542.69,38.21 L543.03,38.46 L543.38,38.71 L543.73,38.97 L544.07,39.23 L544.42,39.49 L544.77,39.75 L545.11,40.02 L545.46,40.29 L545.81,40.57 L546.15,40.85 L546.50,41.13 L546.85,41.42 L547.19,41.71 L547.54,42.00 L547.89,42.30 L548.23,42.60 L548.58,42.91 L548.93,43.22 L549.27,43.53 L549.62,43.85 L549.96,44.17 L550.31,44.50 L550.66,44.83 L551.00,45.17 L551.35,45.51 L551.69,45.85 L552.04,46.20 L552.39,46.55 L552.73,46.91 L553.08,47.27 L553.42,47.64 L553.77,48.01 L554.10,48.40 L554.43,48.79 L554.76,49.19 L555.09,49.60 L555.41,50.01 L555.74,50.43 L556.07,50.85 L556.39,51.28 L556.72,51.71 L557.04,52.14 L557.37,52.59 L557.69,53.03 L558.02,53.49 L558.34,53.94 L558.67,54.41 L558.99,54.87 L559.31,55.35 L559.64,55.83 L559.96,56.31 L560.28,56.81 L560.60,57.30 L560.92,57.81 L561.25,58.31 L561.57,58.83 L561.89,59.35 L562.21,59.88 L562.53,60.41 L562.85,60.95 L563.17,61.49 L563.49,62.04 L563.81,62.60 L564.13,63.16 L564.45,63.73 L564.77,64.31 L565.08,64.89 L565.40,65.48 L565.72,66.08 L566.04,66.68 L566.36,67.29 L566.67,67.90 L566.99,68.53 L567.31,69.15 L567.63,69.79 L567.94,70.43 L568.26,71.08 L568.57,71.73 L568.89,72.39 L569.21,73.06 L569.52,73.73 L569.84,74.41 L570.15,75.10 L570.47,75.79 L570.78,76.48 L571.10,77.19 L571.41,77.90 L571.73,78.61 L572.04,79.33 L572.36,80.06 L572.67,80.79 L572.98,81.53 L573.30,82.27 L573.61,83.02 L573.93,83.77 L574.24,84.53 L574.55,85.29 L574.87,86.06 L575.18,86.83 L575.49,87.60 L575.81,88.38 L576.12,89.16 L576.44,89.94 L576.76,90.72 L577.08,91.51 L577.40,92.30 L577.72,93.09 L578.04,93.88 L578.35,94.67 L578.67,95.46 L578.99,96.25 L579.31,97.04 L579.63,97.83 L579.95,98.62 L580.26,99.41 L580.58,100.19 L580.90,100.97 L581.22,101.75 L581.54,102.53 L581.85,103.30 L582.17,104.06 L582.49,104.82 L582.81,105.57 L583.12,106.32 L583.44,107.05 L583.76,107.78 L584.08,108.50 L584.39,109.21 L584.71,109.91 L585.03,110.60 L585.34,111.28 L585.66,111.94 L585.98,112.60 L586.30,113.23 L586.61,113.86 L586.93,114.46 L587.25,115.06 L587.56,115.63 L587.88,116.19 L588.20,116.73 L588.51,117.25 L588.83,117.75 L589.15,118.24 L589.46,118.70 L589.78,119.14 L590.09,119.56 L590.41,119.96 L590.73,120.33 L591.04,120.68 L591.36,121.01 L591.68,121.32 L592.00,121.60 L592.31,121.85 L592.63,122.09 L592.95,122.29 L593.27,122.48 L593.60,122.63 L593.92,122.76 L594.24,122.87 L594.57,122.95 L594.90,123.00 L595.24,123.02 L595.57,123.01 L595.91,122.96 L596.26,122.87 L596.60,122.74 L596.94,122.58 L597.29,122.37 L597.64,122.13 L597.99,121.86 L598.33,121.54 L598.68,121.19 L599.03,120.81 L599.38,120.39 L599.72,119.94 L600.07,119.46 L600.42,118.95 L600.77,118.40 L601.12,117.83 L601.46,117.23 L601.81,116.61 L602.16,115.95 L602.51,115.28 L602.85,114.58 L603.20,113.85 L603.55,113.11 L603.90,112.34 L604.24,111.56 L604.59,110.76 L604.94,109.94 L605.28,109.10 L605.63,108.25 L605.98,107.39 L606.32,106.52 L606.67,105.63 L607.02,104.73 L607.36,103.83 L607.71,102.91 L608.06,101.99 L608.40,101.07 L608.75,100.13 L609.10,99.20 L609.44,98.26 L609.79,97.31 L610.14,96.37 L610.48,95.43 L610.83,94.48 L611.18,93.53 L611.52,92.59 L611.87,91.65 L612.21,90.71 L612.56,89.77 L612.91,88.84 L613.25,87.91 L613.60,86.99 L613.94,86.07 L614.29,85.16 L614.64,84.25 L614.98,83.35 L615.33,82.46 L615.67,81.57 L616.01,80.69 L616.35,79.82 L616.69,78.96 L617.04,78.10 L617.38,77.26 L617.72,76.42 L618.06,75.59 L618.40,74.77 L618.74,73.96 L619.08,73.16 L619.42,72.37 L619.76,71.58 L620.10,70.81 L620.44,70.05 L620.78,69.30 L621.12,68.55 L621.45,67.82 L621.79,67.10 L622.13,66.39 L622.47,65.68 L622.81,64.99 L623.15,64.31 L623.49,63.64 L623.83,62.97 L624.17,62.32 L624.50,61.68 L624.84,61.05 L625.18,60.42 L625.52,59.81 L625.86,59.20 L626.19,58.61 L626.53,58.02 L626.87,57.45 L627.21,56.88 L627.54,56.32 L627.88,55.78 L628.22,55.24 L628.55,54.71 L628.89,54.18 L629.23,53.67 L629.56,53.17 L629.90,52.67 L630.23,52.18 L630.57,51.70 L630.91,51.23 L631.24,50.77 L631.58,50.31 L631.91,49.87 L632.25,49.43 L632.58,48.99 L632.91,48.57 L633.25,48.15 L633.58,47.74 L633.92,47.34 L634.25,46.94 L634.58,46.55 L634.92,46.17 L635.25,45.79 L635.58,45.42 L635.92,45.06 L636.24,44.70 L636.57,44.34 L636.89,43.99 L637.21,43.64 L637.54,43.31 L637.86,42.97 L638.19,42.64 L638.51,42.32 L638.83,42.00 L639.16,41.69 L639.48,41.38 L639.81,41.08 L640.13,40.78 L640.45,40.49 L640.78,40.21 L641.10,39.92 L641.43,39.65 L641.75,39.37 L642.07,39.10 L642.40,38.84 L642.72,38.58 L643.05,38.33 L643.37,38.07 L643.70,37.83 L644.02,37.58 L644.34,37.35 L644.67,37.11 L644.99,36.88 L645.32,36.65 L645.64,36.43 L645.96,36.21 L646.29,35.99 L646.61,35.78 L646.94,35.57 L647.26,35.36 L647.59,35.16 L647.91,34.96 L648.24,34.76 L648.56,34.57 L648.89,34.38 L649.21,34.19 L649.54,34.01 L649.86,33.83 L650.19,33.65 L650.51,33.47 L650.84,33.30 L651.16,33.13 L651.49,32.96 L651.82,32.80 L652.14,32.64 L652.47,32.48 L652.79,32.32 L653.12,32.17 L653.45,32.01 L653.77,31.86 L654.10,31.72 L654.42,31.57 L654.75,31.43 L655.08,31.29 L655.40,31.15 L655.73,31.01 L656.06,30.88 L656.38,30.74 L656.71,30.61 L657.04,30.49 L657.37,30.36 L657.69,30.23 L658.02,30.11 L658.35,29.99 L658.68,29.87 L659.00,29.76 L659.33,29.64 L659.66,29.53 L659.99,29.41 L660.32,29.30 L660.64,29.19 L660.97,29.08 L661.30,28.98 L661.63,28.87 L661.95,28.77 L662.28,28.67 L662.61,28.57 L662.94,28.47 L663.27,28.37 L663.60,28.27 L663.92,28.18 L664.25,28.08 L664.58,27.99 L664.91,27.90 L665.24,27.81 L665.57,27.72 L665.90,27.63 L666.23,27.55 L666.56,27.46 L666.89,27.38 L667.22,27.29 L667.54,27.21 L667.87,27.13 L668.20,27.05 L668.53,26.98 L668.86,26.90 L669.19,26.82 L669.52,26.75 L669.85,26.67 L670.18,26.60 L670.51,26.53 L670.84,26.46 L671.17,26.39 L671.50,26.32 L671.83,26.25 L672.16,26.18 L672.49,26.12 L672.83,26.05 L673.16,25.99 L673.49,25.92 L673.82,25.86 L674.15,25.80 L674.48,25.74 L674.81,25.68 L675.14,25.62 L675.47,25.56 L675.80,25.50 L676.13,25.44 L676.46,25.39 L676.80,25.33 L677.13,25.28 L677.46,25.22 L677.79,25.17 L678.12,25.12 L678.45,25.06 L678.78,25.01 L679.12,24.96 L679.45,24.91 L679.78,24.86 L680.11,24.81 L680.44,24.76 L680.77,24.72 L681.10,24.67 L681.44,24.62 L681.77,24.58 L682.10,24.53 L682.43,24.48 L682.76,24.44 L683.10,24.40" fill="none" stroke="#6a6a6a" stroke-width="1.25"/>
<g fill="#fff" stroke="#e4604c" stroke-width="0.9"><circle cx="499.80" cy="24.78" r="1.4"/><circle cx="501.63" cy="25.13" r="1.4"/><circle cx="503.46" cy="25.49" r="1.4"/><circle cx="505.30" cy="25.87" r="1.4"/><circle cx="507.13" cy="26.27" r="1.4"/><circle cx="508.96" cy="26.70" r="1.4"/><circle cx="510.79" cy="27.14" r="1.4"/><circle cx="512.62" cy="27.62" r="1.4"/><circle cx="514.46" cy="28.12" r="1.4"/><circle cx="516.29" cy="28.65" r="1.4"/><circle cx="518.12" cy="29.21" r="1.4"/><circle cx="519.95" cy="29.81" r="1.4"/><circle cx="521.78" cy="30.44" r="1.4"/><circle cx="523.62" cy="31.11" r="1.4"/><circle cx="525.45" cy="31.83" r="1.4"/><circle cx="527.28" cy="32.59" r="1.4"/><circle cx="529.11" cy="33.40" r="1.4"/><circle cx="530.94" cy="34.27" r="1.4"/><circle cx="532.78" cy="35.19" r="1.4"/><circle cx="534.61" cy="36.18" r="1.4"/><circle cx="536.44" cy="37.24" r="1.4"/><circle cx="538.27" cy="38.37" r="1.4"/><circle cx="540.10" cy="39.58" r="1.4"/><circle cx="541.94" cy="40.88" r="1.4"/><circle cx="543.77" cy="42.27" r="1.4"/><circle cx="545.60" cy="43.77" r="1.4"/><circle cx="547.43" cy="45.37" r="1.4"/><circle cx="549.26" cy="47.10" r="1.4"/><circle cx="551.10" cy="48.96" r="1.4"/><circle cx="552.93" cy="50.96" r="1.4"/><circle cx="554.76" cy="53.11" r="1.4"/><circle cx="556.59" cy="55.42" r="1.4"/><circle cx="558.42" cy="57.90" r="1.4"/><circle cx="560.26" cy="60.56" r="1.4"/><circle cx="562.09" cy="63.41" r="1.4"/><circle cx="563.92" cy="66.46" r="1.4"/><circle cx="565.75" cy="69.71" r="1.4"/><circle cx="567.58" cy="73.17" r="1.4"/><circle cx="569.42" cy="76.83" r="1.4"/><circle cx="571.25" cy="80.67" r="1.4"/><circle cx="573.08" cy="84.69" r="1.4"/><circle cx="574.91" cy="88.85" r="1.4"/><circle cx="576.74" cy="93.11" r="1.4"/><circle cx="578.58" cy="97.42" r="1.4"/><circle cx="580.41" cy="101.70" r="1.4"/><circle cx="582.24" cy="105.87" r="1.4"/><circle cx="584.07" cy="109.83" r="1.4"/><circle cx="585.90" cy="113.47" r="1.4"/><circle cx="587.74" cy="116.66" r="1.4"/><circle cx="589.57" cy="119.31" r="1.4"/><circle cx="591.40" cy="121.30" r="1.4"/><circle cx="593.23" cy="122.55" r="1.4"/><circle cx="595.06" cy="123.01" r="1.4"/><circle cx="596.90" cy="122.52" r="1.4"/><circle cx="598.73" cy="120.92" r="1.4"/><circle cx="600.56" cy="118.32" r="1.4"/><circle cx="602.39" cy="114.84" r="1.4"/><circle cx="604.22" cy="110.67" r="1.4"/><circle cx="606.06" cy="105.99" r="1.4"/><circle cx="607.89" cy="100.98" r="1.4"/><circle cx="609.72" cy="95.80" r="1.4"/><circle cx="611.55" cy="90.59" r="1.4"/><circle cx="613.38" cy="85.47" r="1.4"/><circle cx="615.22" cy="80.52" r="1.4"/><circle cx="617.05" cy="75.80" r="1.4"/><circle cx="618.88" cy="71.35" r="1.4"/><circle cx="620.71" cy="67.18" r="1.4"/><circle cx="622.54" cy="63.31" r="1.4"/><circle cx="624.38" cy="59.74" r="1.4"/><circle cx="626.21" cy="56.45" r="1.4"/><circle cx="628.04" cy="53.43" r="1.4"/><circle cx="629.87" cy="50.66" r="1.4"/><circle cx="631.70" cy="48.14" r="1.4"/><circle cx="633.54" cy="45.83" r="1.4"/><circle cx="635.37" cy="43.73" r="1.4"/><circle cx="637.20" cy="41.82" r="1.4"/><circle cx="639.03" cy="40.07" r="1.4"/><circle cx="640.86" cy="38.48" r="1.4"/><circle cx="642.70" cy="37.03" r="1.4"/><circle cx="644.53" cy="35.71" r="1.4"/><circle cx="646.36" cy="34.50" r="1.4"/><circle cx="648.19" cy="33.40" r="1.4"/><circle cx="650.02" cy="32.40" r="1.4"/><circle cx="651.86" cy="31.48" r="1.4"/><circle cx="653.69" cy="30.64" r="1.4"/><circle cx="655.52" cy="29.87" r="1.4"/><circle cx="657.35" cy="29.17" r="1.4"/><circle cx="659.18" cy="28.52" r="1.4"/><circle cx="661.02" cy="27.93" r="1.4"/><circle cx="662.85" cy="27.38" r="1.4"/><circle cx="664.68" cy="26.88" r="1.4"/><circle cx="666.51" cy="26.42" r="1.4"/><circle cx="668.34" cy="26.00" r="1.4"/><circle cx="670.18" cy="25.61" r="1.4"/><circle cx="672.01" cy="25.25" r="1.4"/><circle cx="673.84" cy="24.91" r="1.4"/><circle cx="675.67" cy="24.61" r="1.4"/><circle cx="677.50" cy="24.32" r="1.4"/><circle cx="679.34" cy="24.06" r="1.4"/><circle cx="681.17" cy="23.82" r="1.4"/><circle cx="683.00" cy="23.59" r="1.4"/></g>
</g>
<path d="M498.8,5.0 H683.5" stroke="#505050" stroke-width="1" fill="none"/>
<path d="M683.0,5.0 V137.5" stroke="#828282" stroke-width="1" fill="none"/>
<path d="M499.3,137.5 H683.5" stroke="#a0a0a0" stroke-width="1" fill="none"/>
<path d="M499.8,4.5 V138.0" stroke="#696969" stroke-width="1" fill="none"/>
<g stroke="#606060" stroke-width="0.8" fill="none">
<path d="M497.6,126.46 H499.8"/>
<path d="M498.6,115.42 H499.8"/>
<path d="M497.6,104.38 H499.8"/>
<path d="M498.6,93.33 H499.8"/>
<path d="M497.6,82.29 H499.8"/>
<path d="M498.6,71.25 H499.8"/>
<path d="M497.6,60.21 H499.8"/>
<path d="M498.6,49.17 H499.8"/>
<path d="M497.6,38.13 H499.8"/>
<path d="M498.6,27.08 H499.8"/>
<path d="M497.6,16.04 H499.8"/>
<path d="M518.12,137.5 V139.7"/>
<path d="M554.76,137.5 V139.7"/>
<path d="M591.40,137.5 V139.7"/>
<path d="M628.04,137.5 V139.7"/>
<path d="M664.68,137.5 V139.7"/>
<path d="M499.80,137.5 V138.7"/>
<path d="M536.44,137.5 V138.7"/>
<path d="M573.08,137.5 V138.7"/>
<path d="M609.72,137.5 V138.7"/>
<path d="M646.36,137.5 V138.7"/>
<path d="M683.00,137.5 V138.7"/>
</g>
<g font-size="7.7" fill="#222" stroke="#222" stroke-width="0.12">
<text transform="translate(495.90,129.06) scale(0.91,1)" text-anchor="end">0.0</text>
<text transform="translate(495.90,106.97) scale(0.91,1)" text-anchor="end">0.2</text>
<text transform="translate(495.90,84.89) scale(0.91,1)" text-anchor="end">0.4</text>
<text transform="translate(495.90,62.81) scale(0.91,1)" text-anchor="end">0.6</text>
<text transform="translate(495.90,40.73) scale(0.91,1)" text-anchor="end">0.8</text>
<text transform="translate(495.90,18.64) scale(0.91,1)" text-anchor="end">1.0</text>
<text transform="translate(518.12,147.20) scale(0.91,1)" text-anchor="middle">−2000</text>
<text transform="translate(554.76,147.20) scale(0.91,1)" text-anchor="middle">0</text>
<text transform="translate(591.40,147.20) scale(0.91,1)" text-anchor="middle">2000</text>
<text transform="translate(628.04,147.20) scale(0.91,1)" text-anchor="middle">4000</text>
<text transform="translate(664.68,147.20) scale(0.91,1)" text-anchor="middle">6000</text>
</g>
<text x="591.40" y="162.70" font-size="10.5" fill="#111" text-anchor="middle"><tspan font-size="6.5" dy="-3.8">31</tspan><tspan dy="3.8">P frequency offset (Hz)</tspan></text>
<text transform="translate(482.20,71.25) rotate(-90)" font-size="10.3" fill="#111" text-anchor="middle">Normalized <tspan font-size="6.5" dy="-3.8">31</tspan><tspan dy="3.8">P intensity</tspan></text>
<g fill="#111" stroke="#111" stroke-width="0.25">
<text transform="translate(652.97,127.88) scale(0.8496,1)" font-size="11.70" >γ</text>
<text transform="translate(659.19,128.20) scale(0.8267,1)" font-size="12.50" >P</text>
</g>
<g clip-path="url(#c3)">
<path d="M49.60,195.92 L49.93,195.94 L50.27,195.96 L50.60,195.99 L50.94,196.01 L51.27,196.04 L51.60,196.06 L51.94,196.09 L52.27,196.11 L52.60,196.14 L52.94,196.17 L53.27,196.19 L53.61,196.22 L53.94,196.25 L54.27,196.27 L54.61,196.30 L54.94,196.33 L55.27,196.36 L55.61,196.38 L55.94,196.41 L56.28,196.44 L56.61,196.47 L56.94,196.50 L57.28,196.53 L57.61,196.56 L57.94,196.59 L58.28,196.63 L58.61,196.66 L58.95,196.69 L59.28,196.72 L59.61,196.75 L59.95,196.79 L60.28,196.82 L60.61,196.86 L60.95,196.89 L61.28,196.93 L61.62,196.96 L61.95,197.00 L62.28,197.03 L62.62,197.07 L62.95,197.11 L63.28,197.14 L63.62,197.18 L63.95,197.22 L64.29,197.26 L64.62,197.30 L64.95,197.34 L65.29,197.38 L65.62,197.42 L65.96,197.46 L66.29,197.51 L66.62,197.55 L66.96,197.59 L67.29,197.64 L67.62,197.68 L67.96,197.73 L68.29,197.77 L68.63,197.82 L68.96,197.86 L69.29,197.91 L69.63,197.96 L69.96,198.01 L70.29,198.06 L70.63,198.11 L70.96,198.16 L71.30,198.21 L71.63,198.26 L71.96,198.32 L72.30,198.37 L72.63,198.43 L72.96,198.48 L73.30,198.54 L73.63,198.59 L73.97,198.65 L74.30,198.71 L74.63,198.77 L74.97,198.83 L75.30,198.89 L75.63,198.95 L75.97,199.02 L76.30,199.08 L76.64,199.15 L76.97,199.21 L77.30,199.28 L77.64,199.35 L77.97,199.42 L78.30,199.49 L78.64,199.56 L78.97,199.63 L79.31,199.70 L79.64,199.78 L79.97,199.85 L80.31,199.93 L80.64,200.01 L80.97,200.09 L81.31,200.17 L81.64,200.25 L81.98,200.34 L82.31,200.42 L82.64,200.51 L82.98,200.59 L83.31,200.68 L83.65,200.77 L83.98,200.86 L84.31,200.96 L84.65,201.05 L84.98,201.15 L85.31,201.25 L85.65,201.35 L85.98,201.45 L86.32,201.55 L86.65,201.66 L86.98,201.76 L87.32,201.87 L87.65,201.98 L87.98,202.10 L88.32,202.21 L88.65,202.33 L88.99,202.45 L89.32,202.57 L89.65,202.69 L89.99,202.82 L90.32,202.94 L90.65,203.07 L90.99,203.21 L91.32,203.34 L91.66,203.48 L91.99,203.62 L92.32,203.76 L92.66,203.91 L92.99,204.05 L93.32,204.20 L93.66,204.36 L93.99,204.51 L94.33,204.67 L94.66,204.84 L94.99,205.00 L95.33,205.17 L95.66,205.35 L95.99,205.52 L96.33,205.70 L96.66,205.88 L97.00,206.07 L97.33,206.26 L97.66,206.46 L98.00,206.66 L98.33,206.86 L98.67,207.07 L99.00,207.28 L99.33,207.49 L99.67,207.71 L100.00,207.94 L100.33,208.17 L100.67,208.41 L101.00,208.65 L101.34,208.89 L101.67,209.14 L102.00,209.40 L102.34,209.66 L102.67,209.93 L103.00,210.20 L103.34,210.48 L103.67,210.77 L104.01,211.06 L104.34,211.36 L104.67,211.66 L105.01,211.98 L105.34,212.30 L105.67,212.63 L106.01,212.96 L106.34,213.31 L106.68,213.66 L107.01,214.02 L107.34,214.39 L107.68,214.76 L108.01,215.15 L108.34,215.55 L108.68,215.95 L109.01,216.37 L109.35,216.79 L109.68,217.23 L110.01,217.67 L110.35,218.13 L110.68,218.60 L111.01,219.08 L111.35,219.57 L111.68,220.08 L112.02,220.60 L112.35,221.13 L112.68,221.67 L113.02,222.23 L113.35,222.80 L113.69,223.39 L114.02,223.99 L114.35,224.61 L114.69,225.24 L115.02,225.89 L115.35,226.56 L115.69,227.24 L116.02,227.94 L116.36,228.66 L116.69,229.40 L117.02,230.15 L117.36,230.93 L117.69,231.72 L118.02,232.54 L118.36,233.37 L118.69,234.23 L119.03,235.11 L119.36,236.01 L119.69,236.94 L120.03,237.88 L120.36,238.85 L120.69,239.85 L121.03,240.86 L121.36,241.91 L121.70,242.97 L122.03,244.06 L122.36,245.18 L122.70,246.32 L123.03,247.48 L123.36,248.68 L123.70,249.89 L124.03,251.13 L124.37,252.40 L124.70,253.69 L125.03,255.00 L125.37,256.34 L125.70,257.70 L126.03,259.09 L126.37,260.49 L126.70,261.91 L127.04,263.35 L127.37,264.81 L127.70,266.29 L128.04,267.77 L128.37,269.27 L128.70,270.78 L129.04,272.30 L129.37,273.81 L129.71,275.33 L130.04,276.85 L130.37,278.36 L130.71,279.86 L131.04,281.35 L131.38,282.82 L131.71,284.27 L132.04,285.70 L132.38,287.09 L132.71,288.45 L133.04,289.76 L133.38,291.03 L133.71,292.25 L134.05,293.42 L134.38,294.52 L134.71,295.56 L135.05,296.52 L135.38,297.41 L135.71,298.23 L136.05,298.95 L136.38,299.60 L136.72,300.15 L137.05,300.60 L137.38,300.97 L137.72,301.23 L138.05,301.39 L138.38,301.46 L138.72,301.42 L139.05,301.28 L139.39,301.05 L139.72,300.71 L140.05,300.28 L140.39,299.75 L140.72,299.14 L141.05,298.43 L141.39,297.64 L141.72,296.77 L142.06,295.82 L142.39,294.81 L142.72,293.72 L143.06,292.57 L143.39,291.37 L143.72,290.11 L144.06,288.81 L144.39,287.46 L144.73,286.08 L145.06,284.66 L145.39,283.22 L145.73,281.75 L146.06,280.27 L146.40,278.77 L146.73,277.26 L147.06,275.74 L147.40,274.22 L147.73,272.71 L148.06,271.19 L148.40,269.68 L148.73,268.18 L149.07,266.69 L149.40,265.21 L149.73,263.75 L150.07,262.30 L150.40,260.87 L150.73,259.46 L151.07,258.07 L151.40,256.71 L151.74,255.36 L152.07,254.04 L152.40,252.75 L152.74,251.47 L153.07,250.23 L153.40,249.00 L153.74,247.80 L154.07,246.63 L154.41,245.48 L154.74,244.36 L155.07,243.26 L155.41,242.19 L155.74,241.14 L156.07,240.12 L156.41,239.12 L156.74,238.14 L157.08,237.19 L157.41,236.26 L157.74,235.35 L158.08,234.47 L158.41,233.60 L158.74,232.76 L159.08,231.94 L159.41,231.14 L159.75,230.36 L160.08,229.60 L160.41,228.86 L160.75,228.13 L161.08,227.43 L161.41,226.74 L161.75,226.07 L162.08,225.41 L162.42,224.78 L162.75,224.16 L163.08,223.55 L163.42,222.96 L163.75,222.38 L164.09,221.82 L164.42,221.27 L164.75,220.74 L165.09,220.22 L165.42,219.71 L165.75,219.21 L166.09,218.73 L166.42,218.26 L166.76,217.80 L167.09,217.35 L167.42,216.91 L167.76,216.48 L168.09,216.06 L168.42,215.65 L168.76,215.26 L169.09,214.87 L169.43,214.49 L169.76,214.12 L170.09,213.75 L170.43,213.40 L170.76,213.05 L171.09,212.72 L171.43,212.39 L171.76,212.06 L172.10,211.75 L172.43,211.44 L172.76,211.14 L173.10,210.85 L173.43,210.56 L173.76,210.28 L174.10,210.00 L174.43,209.73 L174.77,209.47 L175.10,209.21 L175.43,208.96 L175.77,208.71 L176.10,208.47 L176.43,208.23 L176.77,208.00 L177.10,207.77 L177.44,207.55 L177.77,207.34 L178.10,207.12 L178.44,206.91 L178.77,206.71 L179.11,206.51 L179.44,206.31 L179.77,206.12 L180.11,205.93 L180.44,205.75 L180.77,205.57 L181.11,205.39 L181.44,205.22 L181.78,205.05 L182.11,204.88 L182.44,204.72 L182.78,204.56 L183.11,204.40 L183.44,204.25 L183.78,204.09 L184.11,203.94 L184.45,203.80 L184.78,203.66 L185.11,203.52 L185.45,203.38 L185.78,203.24 L186.11,203.11 L186.45,202.98 L186.78,202.85 L187.12,202.72 L187.45,202.60 L187.78,202.48 L188.12,202.36 L188.45,202.24 L188.78,202.13 L189.12,202.01 L189.45,201.90 L189.79,201.79 L190.12,201.69 L190.45,201.58 L190.79,201.48 L191.12,201.37 L191.45,201.27 L191.79,201.18 L192.12,201.08 L192.46,200.98 L192.79,200.89 L193.12,200.80 L193.46,200.71 L193.79,200.62 L194.13,200.53 L194.46,200.44 L194.79,200.36 L195.13,200.27 L195.46,200.19 L195.79,200.11 L196.13,200.03 L196.46,199.95 L196.80,199.88 L197.13,199.80 L197.46,199.72 L197.80,199.65 L198.13,199.58 L198.46,199.51 L198.80,199.44 L199.13,199.37 L199.47,199.30 L199.80,199.23 L200.13,199.16 L200.47,199.10 L200.80,199.04 L201.13,198.97 L201.47,198.91 L201.80,198.85 L202.14,198.79 L202.47,198.73 L202.80,198.67 L203.14,198.61 L203.47,198.55 L203.80,198.50 L204.14,198.44 L204.47,198.39 L204.81,198.33 L205.14,198.28 L205.47,198.23 L205.81,198.17 L206.14,198.12 L206.47,198.07 L206.81,198.02 L207.14,197.97 L207.48,197.93 L207.81,197.88 L208.14,197.83 L208.48,197.78 L208.81,197.74 L209.14,197.69 L209.48,197.65 L209.81,197.60 L210.15,197.56 L210.48,197.52 L210.81,197.47 L211.15,197.43 L211.48,197.39 L211.82,197.35 L212.15,197.31 L212.48,197.27 L212.82,197.23 L213.15,197.19 L213.48,197.15 L213.82,197.12 L214.15,197.08 L214.49,197.04 L214.82,197.01 L215.15,196.97 L215.49,196.93 L215.82,196.90 L216.15,196.87 L216.49,196.83 L216.82,196.80 L217.16,196.76 L217.49,196.73 L217.82,196.70 L218.16,196.67 L218.49,196.63 L218.82,196.60 L219.16,196.57 L219.49,196.54 L219.83,196.51 L220.16,196.48 L220.49,196.45 L220.83,196.42 L221.16,196.39 L221.49,196.36 L221.83,196.34 L222.16,196.31 L222.50,196.28 L222.83,196.25 L223.16,196.23 L223.50,196.20 L223.83,196.17 L224.16,196.15 L224.50,196.12 L224.83,196.09 L225.17,196.07 L225.50,196.04" fill="none" stroke="#6a6a6a" stroke-width="1.25"/>
<g fill="#fff" stroke="#52b6d6" stroke-width="0.9"><circle cx="49.60" cy="195.92" r="1.4"/><circle cx="51.36" cy="196.04" r="1.4"/><circle cx="53.12" cy="196.18" r="1.4"/><circle cx="54.88" cy="196.32" r="1.4"/><circle cx="56.64" cy="196.47" r="1.4"/><circle cx="58.40" cy="196.64" r="1.4"/><circle cx="60.15" cy="196.81" r="1.4"/><circle cx="61.91" cy="196.99" r="1.4"/><circle cx="63.67" cy="197.19" r="1.4"/><circle cx="65.43" cy="197.40" r="1.4"/><circle cx="67.19" cy="197.62" r="1.4"/><circle cx="68.95" cy="197.86" r="1.4"/><circle cx="70.71" cy="198.12" r="1.4"/><circle cx="72.47" cy="198.40" r="1.4"/><circle cx="74.23" cy="198.70" r="1.4"/><circle cx="75.98" cy="199.02" r="1.4"/><circle cx="77.74" cy="199.37" r="1.4"/><circle cx="79.50" cy="199.75" r="1.4"/><circle cx="81.26" cy="200.16" r="1.4"/><circle cx="83.02" cy="200.60" r="1.4"/><circle cx="84.78" cy="201.09" r="1.4"/><circle cx="86.54" cy="201.62" r="1.4"/><circle cx="88.30" cy="202.20" r="1.4"/><circle cx="90.06" cy="202.84" r="1.4"/><circle cx="91.82" cy="203.54" r="1.4"/><circle cx="93.58" cy="204.32" r="1.4"/><circle cx="95.33" cy="205.18" r="1.4"/><circle cx="97.09" cy="206.13" r="1.4"/><circle cx="98.85" cy="207.18" r="1.4"/><circle cx="100.61" cy="208.36" r="1.4"/><circle cx="102.37" cy="209.69" r="1.4"/><circle cx="104.13" cy="211.17" r="1.4"/><circle cx="105.89" cy="212.84" r="1.4"/><circle cx="107.65" cy="214.73" r="1.4"/><circle cx="109.41" cy="216.87" r="1.4"/><circle cx="111.16" cy="219.30" r="1.4"/><circle cx="112.92" cy="222.07" r="1.4"/><circle cx="114.68" cy="225.23" r="1.4"/><circle cx="116.44" cy="228.85" r="1.4"/><circle cx="118.20" cy="232.98" r="1.4"/><circle cx="119.96" cy="237.69" r="1.4"/><circle cx="121.72" cy="243.05" r="1.4"/><circle cx="123.48" cy="249.09" r="1.4"/><circle cx="125.24" cy="255.82" r="1.4"/><circle cx="127.00" cy="263.18" r="1.4"/><circle cx="128.75" cy="271.01" r="1.4"/><circle cx="130.51" cy="278.99" r="1.4"/><circle cx="132.27" cy="286.66" r="1.4"/><circle cx="134.03" cy="293.37" r="1.4"/><circle cx="135.79" cy="298.40" r="1.4"/><circle cx="137.55" cy="301.11" r="1.4"/><circle cx="139.31" cy="301.11" r="1.4"/><circle cx="141.07" cy="298.40" r="1.4"/><circle cx="142.83" cy="293.37" r="1.4"/><circle cx="144.59" cy="286.66" r="1.4"/><circle cx="146.34" cy="278.99" r="1.4"/><circle cx="148.10" cy="271.01" r="1.4"/><circle cx="149.86" cy="263.18" r="1.4"/><circle cx="151.62" cy="255.82" r="1.4"/><circle cx="153.38" cy="249.09" r="1.4"/><circle cx="155.14" cy="243.05" r="1.4"/><circle cx="156.90" cy="237.69" r="1.4"/><circle cx="158.66" cy="232.98" r="1.4"/><circle cx="160.42" cy="228.85" r="1.4"/><circle cx="162.18" cy="225.23" r="1.4"/><circle cx="163.94" cy="222.07" r="1.4"/><circle cx="165.69" cy="219.30" r="1.4"/><circle cx="167.45" cy="216.87" r="1.4"/><circle cx="169.21" cy="214.73" r="1.4"/><circle cx="170.97" cy="212.84" r="1.4"/><circle cx="172.73" cy="211.17" r="1.4"/><circle cx="174.49" cy="209.69" r="1.4"/><circle cx="176.25" cy="208.36" r="1.4"/><circle cx="178.01" cy="207.18" r="1.4"/><circle cx="179.77" cy="206.13" r="1.4"/><circle cx="181.53" cy="205.18" r="1.4"/><circle cx="183.28" cy="204.32" r="1.4"/><circle cx="185.04" cy="203.54" r="1.4"/><circle cx="186.80" cy="202.84" r="1.4"/><circle cx="188.56" cy="202.20" r="1.4"/><circle cx="190.32" cy="201.62" r="1.4"/><circle cx="192.08" cy="201.09" r="1.4"/><circle cx="193.84" cy="200.60" r="1.4"/><circle cx="195.60" cy="200.16" r="1.4"/><circle cx="197.36" cy="199.75" r="1.4"/><circle cx="199.11" cy="199.37" r="1.4"/><circle cx="200.87" cy="199.02" r="1.4"/><circle cx="202.63" cy="198.70" r="1.4"/><circle cx="204.39" cy="198.40" r="1.4"/><circle cx="206.15" cy="198.12" r="1.4"/><circle cx="207.91" cy="197.86" r="1.4"/><circle cx="209.67" cy="197.62" r="1.4"/><circle cx="211.43" cy="197.40" r="1.4"/><circle cx="213.19" cy="197.19" r="1.4"/><circle cx="214.95" cy="196.99" r="1.4"/><circle cx="216.70" cy="196.81" r="1.4"/><circle cx="218.46" cy="196.64" r="1.4"/><circle cx="220.22" cy="196.47" r="1.4"/><circle cx="221.98" cy="196.32" r="1.4"/><circle cx="223.74" cy="196.18" r="1.4"/><circle cx="225.50" cy="196.04" r="1.4"/></g>
<path d="M49.60,191.87 L49.93,191.88 L50.27,191.89 L50.60,191.89 L50.94,191.90 L51.27,191.91 L51.60,191.91 L51.94,191.92 L52.27,191.93 L52.60,191.93 L52.94,191.94 L53.27,191.95 L53.61,191.95 L53.94,191.96 L54.27,191.97 L54.61,191.98 L54.94,191.98 L55.27,191.99 L55.61,192.00 L55.94,192.01 L56.28,192.01 L56.61,192.02 L56.94,192.03 L57.28,192.04 L57.61,192.05 L57.94,192.05 L58.28,192.06 L58.61,192.07 L58.95,192.08 L59.28,192.09 L59.61,192.10 L59.95,192.11 L60.28,192.12 L60.61,192.12 L60.95,192.13 L61.28,192.14 L61.62,192.15 L61.95,192.16 L62.28,192.17 L62.62,192.18 L62.95,192.19 L63.28,192.20 L63.62,192.21 L63.95,192.22 L64.29,192.23 L64.62,192.24 L64.95,192.26 L65.29,192.27 L65.62,192.28 L65.96,192.29 L66.29,192.30 L66.62,192.31 L66.96,192.32 L67.29,192.34 L67.62,192.35 L67.96,192.36 L68.29,192.37 L68.63,192.38 L68.96,192.40 L69.29,192.41 L69.63,192.42 L69.96,192.44 L70.29,192.45 L70.63,192.46 L70.96,192.48 L71.30,192.49 L71.63,192.51 L71.96,192.52 L72.30,192.54 L72.63,192.55 L72.96,192.57 L73.30,192.58 L73.63,192.60 L73.97,192.61 L74.30,192.63 L74.63,192.65 L74.97,192.66 L75.30,192.68 L75.63,192.70 L75.97,192.71 L76.30,192.73 L76.64,192.75 L76.97,192.77 L77.30,192.79 L77.64,192.81 L77.97,192.82 L78.30,192.84 L78.64,192.86 L78.97,192.88 L79.31,192.90 L79.64,192.93 L79.97,192.95 L80.31,192.97 L80.64,192.99 L80.97,193.01 L81.31,193.03 L81.64,193.06 L81.98,193.08 L82.31,193.11 L82.64,193.13 L82.98,193.15 L83.31,193.18 L83.65,193.20 L83.98,193.23 L84.31,193.26 L84.65,193.28 L84.98,193.31 L85.31,193.34 L85.65,193.37 L85.98,193.40 L86.32,193.43 L86.65,193.46 L86.98,193.49 L87.32,193.52 L87.65,193.55 L87.98,193.58 L88.32,193.62 L88.65,193.65 L88.99,193.69 L89.32,193.72 L89.65,193.76 L89.99,193.79 L90.32,193.83 L90.65,193.87 L90.99,193.91 L91.32,193.95 L91.66,193.99 L91.99,194.03 L92.32,194.07 L92.66,194.11 L92.99,194.16 L93.32,194.20 L93.66,194.25 L93.99,194.30 L94.33,194.34 L94.66,194.39 L94.99,194.44 L95.33,194.49 L95.66,194.55 L95.99,194.60 L96.33,194.65 L96.66,194.71 L97.00,194.77 L97.33,194.83 L97.66,194.89 L98.00,194.95 L98.33,195.01 L98.67,195.08 L99.00,195.14 L99.33,195.21 L99.67,195.28 L100.00,195.35 L100.33,195.42 L100.67,195.50 L101.00,195.57 L101.34,195.65 L101.67,195.73 L102.00,195.81 L102.34,195.90 L102.67,195.99 L103.00,196.07 L103.34,196.17 L103.67,196.26 L104.01,196.36 L104.34,196.46 L104.67,196.56 L105.01,196.66 L105.34,196.77 L105.67,196.88 L106.01,197.00 L106.34,197.11 L106.68,197.23 L107.01,197.36 L107.34,197.49 L107.68,197.62 L108.01,197.76 L108.34,197.90 L108.68,198.04 L109.01,198.19 L109.35,198.34 L109.68,198.50 L110.01,198.67 L110.35,198.84 L110.68,199.01 L111.01,199.19 L111.35,199.38 L111.68,199.57 L112.02,199.77 L112.35,199.98 L112.68,200.19 L113.02,200.41 L113.35,200.64 L113.69,200.87 L114.02,201.12 L114.35,201.37 L114.69,201.64 L115.02,201.91 L115.35,202.20 L115.69,202.49 L116.02,202.80 L116.36,203.11 L116.69,203.45 L117.02,203.79 L117.36,204.15 L117.69,204.52 L118.02,204.91 L118.36,205.31 L118.69,205.73 L119.03,206.17 L119.36,206.62 L119.69,207.10 L120.03,207.60 L120.36,208.12 L120.69,208.66 L121.03,209.23 L121.36,209.82 L121.70,210.44 L122.03,211.09 L122.36,211.77 L122.70,212.48 L123.03,213.23 L123.36,214.01 L123.70,214.83 L124.03,215.69 L124.37,216.59 L124.70,217.54 L125.03,218.53 L125.37,219.58 L125.70,220.68 L126.03,221.83 L126.37,223.05 L126.70,224.32 L127.04,225.67 L127.37,227.08 L127.70,228.56 L128.04,230.12 L128.37,231.76 L128.70,233.48 L129.04,235.29 L129.37,237.19 L129.71,239.18 L130.04,241.26 L130.37,243.44 L130.71,245.72 L131.04,248.10 L131.38,250.57 L131.71,253.13 L132.04,255.79 L132.38,258.52 L132.71,261.34 L133.04,264.22 L133.38,267.14 L133.71,270.10 L134.05,273.08 L134.38,276.04 L134.71,278.96 L135.05,281.82 L135.38,284.57 L135.71,287.18 L136.05,289.61 L136.38,291.83 L136.72,293.79 L137.05,295.47 L137.38,296.82 L137.72,297.82 L138.05,298.45 L138.38,298.69 L138.72,298.55 L139.05,298.02 L139.39,297.12 L139.72,295.86 L140.05,294.28 L140.39,292.39 L140.72,290.24 L141.05,287.86 L141.39,285.29 L141.72,282.57 L142.06,279.74 L142.39,276.84 L142.72,273.88 L143.06,270.91 L143.39,267.94 L143.72,265.00 L144.06,262.11 L144.39,259.28 L144.73,256.52 L145.06,253.84 L145.39,251.25 L145.73,248.75 L146.06,246.35 L146.40,244.05 L146.73,241.84 L147.06,239.73 L147.40,237.72 L147.73,235.80 L148.06,233.96 L148.40,232.22 L148.73,230.56 L149.07,228.98 L149.40,227.47 L149.73,226.04 L150.07,224.68 L150.40,223.39 L150.73,222.16 L151.07,220.99 L151.40,219.87 L151.74,218.81 L152.07,217.80 L152.40,216.84 L152.74,215.93 L153.07,215.06 L153.40,214.23 L153.74,213.43 L154.07,212.68 L154.41,211.96 L154.74,211.27 L155.07,210.61 L155.41,209.98 L155.74,209.38 L156.07,208.81 L156.41,208.26 L156.74,207.74 L157.08,207.23 L157.41,206.75 L157.74,206.29 L158.08,205.85 L158.41,205.42 L158.74,205.01 L159.08,204.62 L159.41,204.25 L159.75,203.88 L160.08,203.54 L160.41,203.20 L160.75,202.88 L161.08,202.57 L161.41,202.27 L161.75,201.99 L162.08,201.71 L162.42,201.44 L162.75,201.19 L163.08,200.94 L163.42,200.70 L163.75,200.47 L164.09,200.25 L164.42,200.03 L164.75,199.82 L165.09,199.62 L165.42,199.43 L165.75,199.24 L166.09,199.06 L166.42,198.88 L166.76,198.71 L167.09,198.55 L167.42,198.39 L167.76,198.23 L168.09,198.08 L168.42,197.93 L168.76,197.79 L169.09,197.66 L169.43,197.52 L169.76,197.39 L170.09,197.27 L170.43,197.15 L170.76,197.03 L171.09,196.91 L171.43,196.80 L171.76,196.69 L172.10,196.59 L172.43,196.48 L172.76,196.38 L173.10,196.29 L173.43,196.19 L173.76,196.10 L174.10,196.01 L174.43,195.92 L174.77,195.84 L175.10,195.75 L175.43,195.67 L175.77,195.59 L176.10,195.52 L176.43,195.44 L176.77,195.37 L177.10,195.30 L177.44,195.23 L177.77,195.16 L178.10,195.09 L178.44,195.03 L178.77,194.96 L179.11,194.90 L179.44,194.84 L179.77,194.78 L180.11,194.73 L180.44,194.67 L180.77,194.61 L181.11,194.56 L181.44,194.51 L181.78,194.46 L182.11,194.41 L182.44,194.36 L182.78,194.31 L183.11,194.26 L183.44,194.22 L183.78,194.17 L184.11,194.13 L184.45,194.08 L184.78,194.04 L185.11,194.00 L185.45,193.96 L185.78,193.92 L186.11,193.88 L186.45,193.84 L186.78,193.80 L187.12,193.77 L187.45,193.73 L187.78,193.69 L188.12,193.66 L188.45,193.63 L188.78,193.59 L189.12,193.56 L189.45,193.53 L189.79,193.50 L190.12,193.47 L190.45,193.44 L190.79,193.41 L191.12,193.38 L191.45,193.35 L191.79,193.32 L192.12,193.29 L192.46,193.26 L192.79,193.24 L193.12,193.21 L193.46,193.19 L193.79,193.16 L194.13,193.14 L194.46,193.11 L194.79,193.09 L195.13,193.06 L195.46,193.04 L195.79,193.02 L196.13,193.00 L196.46,192.97 L196.80,192.95 L197.13,192.93 L197.46,192.91 L197.80,192.89 L198.13,192.87 L198.46,192.85 L198.80,192.83 L199.13,192.81 L199.47,192.79 L199.80,192.77 L200.13,192.75 L200.47,192.74 L200.80,192.72 L201.13,192.70 L201.47,192.68 L201.80,192.67 L202.14,192.65 L202.47,192.63 L202.80,192.62 L203.14,192.60 L203.47,192.59 L203.80,192.57 L204.14,192.55 L204.47,192.54 L204.81,192.52 L205.14,192.51 L205.47,192.50 L205.81,192.48 L206.14,192.47 L206.47,192.45 L206.81,192.44 L207.14,192.43 L207.48,192.41 L207.81,192.40 L208.14,192.39 L208.48,192.38 L208.81,192.36 L209.14,192.35 L209.48,192.34 L209.81,192.33 L210.15,192.31 L210.48,192.30 L210.81,192.29 L211.15,192.28 L211.48,192.27 L211.82,192.26 L212.15,192.25 L212.48,192.24 L212.82,192.23 L213.15,192.22 L213.48,192.21 L213.82,192.19 L214.15,192.18 L214.49,192.18 L214.82,192.17 L215.15,192.16 L215.49,192.15 L215.82,192.14 L216.15,192.13 L216.49,192.12 L216.82,192.11 L217.16,192.10 L217.49,192.09 L217.82,192.08 L218.16,192.07 L218.49,192.07 L218.82,192.06 L219.16,192.05 L219.49,192.04 L219.83,192.03 L220.16,192.02 L220.49,192.02 L220.83,192.01 L221.16,192.00 L221.49,191.99 L221.83,191.99 L222.16,191.98 L222.50,191.97 L222.83,191.96 L223.16,191.96 L223.50,191.95 L223.83,191.94 L224.16,191.94 L224.50,191.93 L224.83,191.92 L225.17,191.92 L225.50,191.91" fill="none" stroke="#6a6a6a" stroke-width="1.25"/>
<g fill="#fff" stroke="#e4604c" stroke-width="0.9"><circle cx="49.60" cy="191.87" r="1.4"/><circle cx="51.36" cy="191.91" r="1.4"/><circle cx="53.12" cy="191.94" r="1.4"/><circle cx="54.88" cy="191.98" r="1.4"/><circle cx="56.64" cy="192.02" r="1.4"/><circle cx="58.40" cy="192.07" r="1.4"/><circle cx="60.15" cy="192.11" r="1.4"/><circle cx="61.91" cy="192.16" r="1.4"/><circle cx="63.67" cy="192.21" r="1.4"/><circle cx="65.43" cy="192.27" r="1.4"/><circle cx="67.19" cy="192.33" r="1.4"/><circle cx="68.95" cy="192.40" r="1.4"/><circle cx="70.71" cy="192.47" r="1.4"/><circle cx="72.47" cy="192.54" r="1.4"/><circle cx="74.23" cy="192.63" r="1.4"/><circle cx="75.98" cy="192.71" r="1.4"/><circle cx="77.74" cy="192.81" r="1.4"/><circle cx="79.50" cy="192.92" r="1.4"/><circle cx="81.26" cy="193.03" r="1.4"/><circle cx="83.02" cy="193.16" r="1.4"/><circle cx="84.78" cy="193.30" r="1.4"/><circle cx="86.54" cy="193.45" r="1.4"/><circle cx="88.30" cy="193.62" r="1.4"/><circle cx="90.06" cy="193.80" r="1.4"/><circle cx="91.82" cy="194.01" r="1.4"/><circle cx="93.58" cy="194.24" r="1.4"/><circle cx="95.33" cy="194.49" r="1.4"/><circle cx="97.09" cy="194.78" r="1.4"/><circle cx="98.85" cy="195.11" r="1.4"/><circle cx="100.61" cy="195.48" r="1.4"/><circle cx="102.37" cy="195.91" r="1.4"/><circle cx="104.13" cy="196.39" r="1.4"/><circle cx="105.89" cy="196.95" r="1.4"/><circle cx="107.65" cy="197.61" r="1.4"/><circle cx="109.41" cy="198.37" r="1.4"/><circle cx="111.16" cy="199.27" r="1.4"/><circle cx="112.92" cy="200.35" r="1.4"/><circle cx="114.68" cy="201.64" r="1.4"/><circle cx="116.44" cy="203.20" r="1.4"/><circle cx="118.20" cy="205.12" r="1.4"/><circle cx="119.96" cy="207.50" r="1.4"/><circle cx="121.72" cy="210.48" r="1.4"/><circle cx="123.48" cy="214.28" r="1.4"/><circle cx="125.24" cy="219.17" r="1.4"/><circle cx="127.00" cy="225.50" r="1.4"/><circle cx="128.75" cy="233.75" r="1.4"/><circle cx="130.51" cy="244.39" r="1.4"/><circle cx="132.27" cy="257.67" r="1.4"/><circle cx="134.03" cy="272.96" r="1.4"/><circle cx="135.79" cy="287.76" r="1.4"/><circle cx="137.55" cy="297.36" r="1.4"/><circle cx="139.31" cy="297.36" r="1.4"/><circle cx="141.07" cy="287.76" r="1.4"/><circle cx="142.83" cy="272.96" r="1.4"/><circle cx="144.59" cy="257.67" r="1.4"/><circle cx="146.34" cy="244.39" r="1.4"/><circle cx="148.10" cy="233.75" r="1.4"/><circle cx="149.86" cy="225.50" r="1.4"/><circle cx="151.62" cy="219.17" r="1.4"/><circle cx="153.38" cy="214.28" r="1.4"/><circle cx="155.14" cy="210.48" r="1.4"/><circle cx="156.90" cy="207.50" r="1.4"/><circle cx="158.66" cy="205.12" r="1.4"/><circle cx="160.42" cy="203.20" r="1.4"/><circle cx="162.18" cy="201.64" r="1.4"/><circle cx="163.94" cy="200.35" r="1.4"/><circle cx="165.69" cy="199.27" r="1.4"/><circle cx="167.45" cy="198.37" r="1.4"/><circle cx="169.21" cy="197.61" r="1.4"/><circle cx="170.97" cy="196.95" r="1.4"/><circle cx="172.73" cy="196.39" r="1.4"/><circle cx="174.49" cy="195.91" r="1.4"/><circle cx="176.25" cy="195.48" r="1.4"/><circle cx="178.01" cy="195.11" r="1.4"/><circle cx="179.77" cy="194.78" r="1.4"/><circle cx="181.53" cy="194.49" r="1.4"/><circle cx="183.28" cy="194.24" r="1.4"/><circle cx="185.04" cy="194.01" r="1.4"/><circle cx="186.80" cy="193.80" r="1.4"/><circle cx="188.56" cy="193.62" r="1.4"/><circle cx="190.32" cy="193.45" r="1.4"/><circle cx="192.08" cy="193.30" r="1.4"/><circle cx="193.84" cy="193.16" r="1.4"/><circle cx="195.60" cy="193.03" r="1.4"/><circle cx="197.36" cy="192.92" r="1.4"/><circle cx="199.11" cy="192.81" r="1.4"/><circle cx="200.87" cy="192.71" r="1.4"/><circle cx="202.63" cy="192.63" r="1.4"/><circle cx="204.39" cy="192.54" r="1.4"/><circle cx="206.15" cy="192.47" r="1.4"/><circle cx="207.91" cy="192.40" r="1.4"/><circle cx="209.67" cy="192.33" r="1.4"/><circle cx="211.43" cy="192.27" r="1.4"/><circle cx="213.19" cy="192.21" r="1.4"/><circle cx="214.95" cy="192.16" r="1.4"/><circle cx="216.70" cy="192.11" r="1.4"/><circle cx="218.46" cy="192.07" r="1.4"/><circle cx="220.22" cy="192.02" r="1.4"/><circle cx="221.98" cy="191.98" r="1.4"/><circle cx="223.74" cy="191.94" r="1.4"/><circle cx="225.50" cy="191.91" r="1.4"/></g>
</g>
<path d="M48.6,180.0 H226.0" stroke="#696969" stroke-width="1" fill="none"/>
<path d="M225.5,180.0 V312.5" stroke="#a0a0a0" stroke-width="1" fill="none"/>
<path d="M49.1,312.5 H226.0" stroke="#a0a0a0" stroke-width="1" fill="none"/>
<path d="M49.6,179.5 V313.0" stroke="#8c8c8c" stroke-width="1" fill="none"/>
<g stroke="#606060" stroke-width="0.8" fill="none">
<path d="M47.4,301.46 H49.6"/>
<path d="M48.4,290.42 H49.6"/>
<path d="M47.4,279.38 H49.6"/>
<path d="M48.4,268.33 H49.6"/>
<path d="M47.4,257.29 H49.6"/>
<path d="M48.4,246.25 H49.6"/>
<path d="M47.4,235.21 H49.6"/>
<path d="M48.4,224.17 H49.6"/>
<path d="M47.4,213.12 H49.6"/>
<path d="M48.4,202.08 H49.6"/>
<path d="M47.4,191.04 H49.6"/>
<path d="M49.60,312.5 V314.7"/>
<path d="M84.78,312.5 V314.7"/>
<path d="M119.96,312.5 V314.7"/>
<path d="M155.14,312.5 V314.7"/>
<path d="M190.32,312.5 V314.7"/>
<path d="M225.50,312.5 V314.7"/>
<path d="M67.19,312.5 V313.7"/>
<path d="M102.37,312.5 V313.7"/>
<path d="M137.55,312.5 V313.7"/>
<path d="M172.73,312.5 V313.7"/>
<path d="M207.91,312.5 V313.7"/>
</g>
<g font-size="7.7" fill="#222" stroke="#222" stroke-width="0.12">
<text transform="translate(45.70,304.06) scale(0.91,1)" text-anchor="end">0.0</text>
<text transform="translate(45.70,281.98) scale(0.91,1)" text-anchor="end">0.2</text>
<text transform="translate(45.70,259.89) scale(0.91,1)" text-anchor="end">0.4</text>
<text transform="translate(45.70,237.81) scale(0.91,1)" text-anchor="end">0.6</text>
<text transform="translate(45.70,215.72) scale(0.91,1)" text-anchor="end">0.8</text>
<text transform="translate(45.70,193.64) scale(0.91,1)" text-anchor="end">1.0</text>
<text transform="translate(49.60,322.20) scale(0.91,1)" text-anchor="middle">−4000</text>
<text transform="translate(84.78,322.20) scale(0.91,1)" text-anchor="middle">−2000</text>
<text transform="translate(119.96,322.20) scale(0.91,1)" text-anchor="middle">0</text>
<text transform="translate(155.14,322.20) scale(0.91,1)" text-anchor="middle">2000</text>
<text transform="translate(190.32,322.20) scale(0.91,1)" text-anchor="middle">4000</text>
<text transform="translate(225.50,322.20) scale(0.91,1)" text-anchor="middle">6000</text>
</g>
<text x="137.55" y="337.70" font-size="10.5" fill="#111" text-anchor="middle"><tspan font-size="6.5" dy="-3.8">31</tspan><tspan dy="3.8">P frequency offset (Hz)</tspan></text>
<text transform="translate(32.00,246.25) rotate(-90)" font-size="10.3" fill="#111" text-anchor="middle">Normalized <tspan font-size="6.5" dy="-3.8">31</tspan><tspan dy="3.8">P intensity</tspan></text>
<g fill="#111" stroke="#111" stroke-width="0.25">
<text transform="translate(197.66,306.78) scale(1.0322,1)" font-size="12.41" >α</text>
<text transform="translate(206.45,306.40) scale(0.7200,1)" font-size="11.48" >P</text>
</g>
<g clip-path="url(#c4)">
<path d="M275.00,196.59 L275.33,196.62 L275.67,196.64 L276.00,196.67 L276.33,196.70 L276.67,196.72 L277.00,196.75 L277.34,196.78 L277.67,196.81 L278.00,196.84 L278.34,196.87 L278.67,196.89 L279.00,196.92 L279.34,196.95 L279.67,196.98 L280.00,197.01 L280.34,197.05 L280.67,197.08 L281.01,197.11 L281.34,197.14 L281.67,197.17 L282.01,197.21 L282.34,197.24 L282.67,197.27 L283.01,197.31 L283.34,197.34 L283.67,197.38 L284.01,197.41 L284.34,197.45 L284.68,197.49 L285.01,197.52 L285.34,197.56 L285.68,197.60 L286.01,197.64 L286.34,197.67 L286.68,197.71 L287.01,197.75 L287.35,197.79 L287.68,197.83 L288.01,197.88 L288.35,197.92 L288.68,197.96 L289.01,198.00 L289.35,198.05 L289.68,198.09 L290.01,198.14 L290.35,198.18 L290.68,198.23 L291.02,198.27 L291.35,198.32 L291.68,198.37 L292.02,198.42 L292.35,198.47 L292.68,198.52 L293.02,198.57 L293.35,198.62 L293.68,198.67 L294.02,198.73 L294.35,198.78 L294.69,198.83 L295.02,198.89 L295.35,198.95 L295.69,199.00 L296.02,199.06 L296.35,199.12 L296.69,199.18 L297.02,199.24 L297.35,199.30 L297.69,199.36 L298.02,199.42 L298.36,199.49 L298.69,199.55 L299.02,199.62 L299.36,199.69 L299.69,199.76 L300.02,199.82 L300.36,199.90 L300.69,199.97 L301.02,200.04 L301.36,200.11 L301.69,200.19 L302.03,200.26 L302.36,200.34 L302.69,200.42 L303.03,200.50 L303.36,200.58 L303.69,200.66 L304.03,200.75 L304.36,200.83 L304.69,200.92 L305.03,201.01 L305.36,201.10 L305.70,201.19 L306.03,201.28 L306.36,201.37 L306.70,201.47 L307.03,201.57 L307.36,201.67 L307.70,201.77 L308.03,201.87 L308.37,201.97 L308.70,202.08 L309.03,202.19 L309.37,202.30 L309.70,202.41 L310.03,202.52 L310.37,202.64 L310.70,202.76 L311.03,202.88 L311.37,203.00 L311.70,203.12 L312.04,203.25 L312.37,203.38 L312.70,203.51 L313.04,203.65 L313.37,203.78 L313.70,203.92 L314.04,204.07 L314.37,204.21 L314.70,204.36 L315.04,204.51 L315.37,204.66 L315.71,204.82 L316.04,204.98 L316.37,205.14 L316.71,205.31 L317.04,205.48 L317.37,205.65 L317.71,205.83 L318.04,206.01 L318.37,206.19 L318.71,206.38 L319.04,206.57 L319.38,206.77 L319.71,206.97 L320.04,207.17 L320.38,207.38 L320.71,207.59 L321.04,207.81 L321.38,208.03 L321.71,208.26 L322.04,208.49 L322.38,208.73 L322.71,208.97 L323.05,209.22 L323.38,209.47 L323.71,209.73 L324.05,210.00 L324.38,210.27 L324.71,210.54 L325.05,210.83 L325.38,211.12 L325.71,211.41 L326.05,211.72 L326.38,212.03 L326.72,212.35 L327.05,212.67 L327.38,213.01 L327.72,213.35 L328.05,213.70 L328.38,214.06 L328.72,214.42 L329.05,214.80 L329.38,215.18 L329.72,215.58 L330.05,215.98 L330.39,216.40 L330.72,216.82 L331.05,217.26 L331.39,217.70 L331.72,218.16 L332.05,218.63 L332.39,219.11 L332.72,219.60 L333.06,220.11 L333.39,220.63 L333.72,221.16 L334.06,221.71 L334.39,222.27 L334.72,222.84 L335.06,223.43 L335.39,224.04 L335.72,224.66 L336.06,225.30 L336.39,225.96 L336.73,226.63 L337.06,227.32 L337.39,228.03 L337.73,228.75 L338.06,229.50 L338.39,230.27 L338.73,231.05 L339.06,231.86 L339.39,232.69 L339.73,233.54 L340.06,234.41 L340.40,235.30 L340.73,236.22 L341.06,237.16 L341.40,238.13 L341.73,239.12 L342.06,240.13 L342.40,241.17 L342.73,242.24 L343.06,243.33 L343.40,244.45 L343.73,245.59 L344.07,246.76 L344.40,247.96 L344.73,249.18 L345.07,250.43 L345.40,251.71 L345.73,253.01 L346.07,254.34 L346.40,255.69 L346.73,257.07 L347.07,258.47 L347.40,259.90 L347.74,261.34 L348.07,262.81 L348.40,264.30 L348.74,265.80 L349.07,267.32 L349.40,268.86 L349.74,270.41 L350.07,271.96 L350.40,273.52 L350.74,275.08 L351.07,276.65 L351.41,278.21 L351.74,279.76 L352.07,281.30 L352.41,282.82 L352.74,284.32 L353.07,285.80 L353.41,287.24 L353.74,288.65 L354.08,290.02 L354.41,291.34 L354.74,292.61 L355.08,293.82 L355.41,294.97 L355.74,296.05 L356.08,297.06 L356.41,297.99 L356.74,298.83 L357.08,299.59 L357.41,300.25 L357.75,300.82 L358.08,301.29 L358.41,301.66 L358.75,301.93 L359.08,302.09 L359.41,302.14 L359.75,302.09 L360.08,301.93 L360.41,301.67 L360.75,301.30 L361.08,300.83 L361.42,300.26 L361.75,299.60 L362.08,298.84 L362.42,298.00 L362.75,297.07 L363.08,296.07 L363.42,294.99 L363.75,293.84 L364.08,292.63 L364.42,291.36 L364.75,290.04 L365.09,288.67 L365.42,287.26 L365.75,285.82 L366.09,284.34 L366.42,282.84 L366.75,281.32 L367.09,279.78 L367.42,278.23 L367.75,276.67 L368.09,275.10 L368.42,273.54 L368.76,271.98 L369.09,270.42 L369.42,268.88 L369.76,267.34 L370.09,265.82 L370.42,264.32 L370.76,262.83 L371.09,261.36 L371.42,259.91 L371.76,258.49 L372.09,257.09 L372.43,255.71 L372.76,254.35 L373.09,253.02 L373.43,251.72 L373.76,250.45 L374.09,249.20 L374.43,247.97 L374.76,246.77 L375.10,245.60 L375.43,244.46 L375.76,243.34 L376.10,242.25 L376.43,241.19 L376.76,240.14 L377.10,239.13 L377.43,238.14 L377.76,237.17 L378.10,236.23 L378.43,235.31 L378.77,234.42 L379.10,233.55 L379.43,232.70 L379.77,231.87 L380.10,231.06 L380.43,230.28 L380.77,229.51 L381.10,228.76 L381.43,228.04 L381.77,227.33 L382.10,226.64 L382.44,225.96 L382.77,225.31 L383.10,224.67 L383.44,224.05 L383.77,223.44 L384.10,222.85 L384.44,222.28 L384.77,221.71 L385.10,221.17 L385.44,220.64 L385.77,220.12 L386.11,219.61 L386.44,219.12 L386.77,218.63 L387.11,218.16 L387.44,217.71 L387.77,217.26 L388.11,216.83 L388.44,216.40 L388.77,215.99 L389.11,215.58 L389.44,215.19 L389.78,214.80 L390.11,214.43 L390.44,214.06 L390.78,213.70 L391.11,213.35 L391.44,213.01 L391.78,212.68 L392.11,212.35 L392.44,212.03 L392.78,211.72 L393.11,211.42 L393.45,211.12 L393.78,210.83 L394.11,210.55 L394.45,210.27 L394.78,210.00 L395.11,209.73 L395.45,209.48 L395.78,209.22 L396.12,208.97 L396.45,208.73 L396.78,208.50 L397.12,208.26 L397.45,208.04 L397.78,207.81 L398.12,207.60 L398.45,207.38 L398.78,207.17 L399.12,206.97 L399.45,206.77 L399.79,206.58 L400.12,206.38 L400.45,206.20 L400.79,206.01 L401.12,205.83 L401.45,205.65 L401.79,205.48 L402.12,205.31 L402.45,205.15 L402.79,204.98 L403.12,204.82 L403.46,204.67 L403.79,204.51 L404.12,204.36 L404.46,204.21 L404.79,204.07 L405.12,203.93 L405.46,203.79 L405.79,203.65 L406.12,203.51 L406.46,203.38 L406.79,203.25 L407.13,203.13 L407.46,203.00 L407.79,202.88 L408.13,202.76 L408.46,202.64 L408.79,202.52 L409.13,202.41 L409.46,202.30 L409.79,202.19 L410.13,202.08 L410.46,201.97 L410.80,201.87 L411.13,201.77 L411.46,201.67 L411.80,201.57 L412.13,201.47 L412.46,201.37 L412.80,201.28 L413.13,201.19 L413.46,201.10 L413.80,201.01 L414.13,200.92 L414.47,200.83 L414.80,200.75 L415.13,200.66 L415.47,200.58 L415.80,200.50 L416.13,200.42 L416.47,200.34 L416.80,200.26 L417.13,200.19 L417.47,200.11 L417.80,200.04 L418.14,199.97 L418.47,199.90 L418.80,199.83 L419.14,199.76 L419.47,199.69 L419.80,199.62 L420.14,199.55 L420.47,199.49 L420.81,199.43 L421.14,199.36 L421.47,199.30 L421.81,199.24 L422.14,199.18 L422.47,199.12 L422.81,199.06 L423.14,199.00 L423.47,198.95 L423.81,198.89 L424.14,198.83 L424.48,198.78 L424.81,198.73 L425.14,198.67 L425.48,198.62 L425.81,198.57 L426.14,198.52 L426.48,198.47 L426.81,198.42 L427.14,198.37 L427.48,198.32 L427.81,198.27 L428.15,198.23 L428.48,198.18 L428.81,198.14 L429.15,198.09 L429.48,198.05 L429.81,198.00 L430.15,197.96 L430.48,197.92 L430.81,197.88 L431.15,197.83 L431.48,197.79 L431.82,197.75 L432.15,197.71 L432.48,197.67 L432.82,197.64 L433.15,197.60 L433.48,197.56 L433.82,197.52 L434.15,197.49 L434.48,197.45 L434.82,197.41 L435.15,197.38 L435.49,197.34 L435.82,197.31 L436.15,197.27 L436.49,197.24 L436.82,197.21 L437.15,197.17 L437.49,197.14 L437.82,197.11 L438.15,197.08 L438.49,197.05 L438.82,197.02 L439.16,196.98 L439.49,196.95 L439.82,196.92 L440.16,196.89 L440.49,196.87 L440.82,196.84 L441.16,196.81 L441.49,196.78 L441.83,196.75 L442.16,196.72 L442.49,196.70 L442.83,196.67 L443.16,196.64 L443.49,196.62 L443.83,196.59 L444.16,196.57 L444.49,196.54 L444.83,196.52 L445.16,196.49 L445.50,196.47 L445.83,196.44 L446.16,196.42 L446.50,196.39 L446.83,196.37 L447.16,196.35 L447.50,196.32 L447.83,196.30 L448.16,196.28 L448.50,196.26 L448.83,196.23 L449.17,196.21 L449.50,196.19 L449.83,196.17 L450.17,196.15 L450.50,196.13" fill="none" stroke="#6a6a6a" stroke-width="1.25"/>
<g fill="#fff" stroke="#52b6d6" stroke-width="0.9"><circle cx="275.00" cy="196.59" r="1.4"/><circle cx="276.75" cy="196.73" r="1.4"/><circle cx="278.51" cy="196.88" r="1.4"/><circle cx="280.26" cy="197.04" r="1.4"/><circle cx="282.02" cy="197.21" r="1.4"/><circle cx="283.77" cy="197.39" r="1.4"/><circle cx="285.53" cy="197.58" r="1.4"/><circle cx="287.29" cy="197.79" r="1.4"/><circle cx="289.04" cy="198.01" r="1.4"/><circle cx="290.80" cy="198.24" r="1.4"/><circle cx="292.55" cy="198.50" r="1.4"/><circle cx="294.31" cy="198.77" r="1.4"/><circle cx="296.06" cy="199.07" r="1.4"/><circle cx="297.81" cy="199.39" r="1.4"/><circle cx="299.57" cy="199.73" r="1.4"/><circle cx="301.32" cy="200.11" r="1.4"/><circle cx="303.08" cy="200.51" r="1.4"/><circle cx="304.83" cy="200.95" r="1.4"/><circle cx="306.59" cy="201.44" r="1.4"/><circle cx="308.35" cy="201.97" r="1.4"/><circle cx="310.10" cy="202.55" r="1.4"/><circle cx="311.86" cy="203.18" r="1.4"/><circle cx="313.61" cy="203.88" r="1.4"/><circle cx="315.37" cy="204.66" r="1.4"/><circle cx="317.12" cy="205.52" r="1.4"/><circle cx="318.88" cy="206.48" r="1.4"/><circle cx="320.63" cy="207.54" r="1.4"/><circle cx="322.38" cy="208.73" r="1.4"/><circle cx="324.14" cy="210.07" r="1.4"/><circle cx="325.89" cy="211.58" r="1.4"/><circle cx="327.65" cy="213.28" r="1.4"/><circle cx="329.40" cy="215.21" r="1.4"/><circle cx="331.16" cy="217.40" r="1.4"/><circle cx="332.92" cy="219.90" r="1.4"/><circle cx="334.67" cy="222.75" r="1.4"/><circle cx="336.43" cy="226.02" r="1.4"/><circle cx="338.18" cy="229.77" r="1.4"/><circle cx="339.94" cy="234.08" r="1.4"/><circle cx="341.69" cy="239.00" r="1.4"/><circle cx="343.44" cy="244.60" r="1.4"/><circle cx="345.20" cy="250.94" r="1.4"/><circle cx="346.95" cy="257.99" r="1.4"/><circle cx="348.71" cy="265.68" r="1.4"/><circle cx="350.47" cy="273.80" r="1.4"/><circle cx="352.22" cy="281.97" r="1.4"/><circle cx="353.98" cy="289.62" r="1.4"/><circle cx="355.73" cy="296.01" r="1.4"/><circle cx="357.49" cy="300.39" r="1.4"/><circle cx="359.24" cy="302.13" r="1.4"/><circle cx="361.00" cy="300.96" r="1.4"/><circle cx="362.75" cy="297.07" r="1.4"/><circle cx="364.50" cy="291.02" r="1.4"/><circle cx="366.26" cy="283.56" r="1.4"/><circle cx="368.01" cy="275.45" r="1.4"/><circle cx="369.77" cy="267.28" r="1.4"/><circle cx="371.52" cy="259.48" r="1.4"/><circle cx="373.28" cy="252.29" r="1.4"/><circle cx="375.03" cy="245.81" r="1.4"/><circle cx="376.79" cy="240.06" r="1.4"/><circle cx="378.55" cy="235.01" r="1.4"/><circle cx="380.30" cy="230.59" r="1.4"/><circle cx="382.06" cy="226.73" r="1.4"/><circle cx="383.81" cy="223.37" r="1.4"/><circle cx="385.56" cy="220.44" r="1.4"/><circle cx="387.32" cy="217.87" r="1.4"/><circle cx="389.07" cy="215.62" r="1.4"/><circle cx="390.83" cy="213.64" r="1.4"/><circle cx="392.58" cy="211.90" r="1.4"/><circle cx="394.34" cy="210.36" r="1.4"/><circle cx="396.10" cy="208.99" r="1.4"/><circle cx="397.85" cy="207.77" r="1.4"/><circle cx="399.61" cy="206.68" r="1.4"/><circle cx="401.36" cy="205.70" r="1.4"/><circle cx="403.12" cy="204.83" r="1.4"/><circle cx="404.87" cy="204.03" r="1.4"/><circle cx="406.62" cy="203.32" r="1.4"/><circle cx="408.38" cy="202.67" r="1.4"/><circle cx="410.13" cy="202.08" r="1.4"/><circle cx="411.89" cy="201.54" r="1.4"/><circle cx="413.64" cy="201.05" r="1.4"/><circle cx="415.40" cy="200.60" r="1.4"/><circle cx="417.15" cy="200.18" r="1.4"/><circle cx="418.91" cy="199.80" r="1.4"/><circle cx="420.66" cy="199.45" r="1.4"/><circle cx="422.42" cy="199.13" r="1.4"/><circle cx="424.18" cy="198.83" r="1.4"/><circle cx="425.93" cy="198.55" r="1.4"/><circle cx="427.69" cy="198.29" r="1.4"/><circle cx="429.44" cy="198.05" r="1.4"/><circle cx="431.19" cy="197.83" r="1.4"/><circle cx="432.95" cy="197.62" r="1.4"/><circle cx="434.71" cy="197.43" r="1.4"/><circle cx="436.46" cy="197.24" r="1.4"/><circle cx="438.22" cy="197.07" r="1.4"/><circle cx="439.97" cy="196.91" r="1.4"/><circle cx="441.73" cy="196.76" r="1.4"/><circle cx="443.48" cy="196.62" r="1.4"/><circle cx="445.24" cy="196.49" r="1.4"/><circle cx="446.99" cy="196.36" r="1.4"/><circle cx="448.75" cy="196.24" r="1.4"/><circle cx="450.50" cy="196.13" r="1.4"/></g>
<path d="M275.00,192.48 L275.33,192.49 L275.67,192.50 L276.00,192.50 L276.33,192.51 L276.67,192.52 L277.00,192.53 L277.34,192.53 L277.67,192.54 L278.00,192.55 L278.34,192.56 L278.67,192.57 L279.00,192.57 L279.34,192.58 L279.67,192.59 L280.00,192.60 L280.34,192.61 L280.67,192.62 L281.01,192.63 L281.34,192.64 L281.67,192.65 L282.01,192.65 L282.34,192.66 L282.67,192.67 L283.01,192.68 L283.34,192.69 L283.67,192.70 L284.01,192.71 L284.34,192.72 L284.68,192.73 L285.01,192.74 L285.34,192.75 L285.68,192.76 L286.01,192.78 L286.34,192.79 L286.68,192.80 L287.01,192.81 L287.35,192.82 L287.68,192.83 L288.01,192.84 L288.35,192.86 L288.68,192.87 L289.01,192.88 L289.35,192.89 L289.68,192.91 L290.01,192.92 L290.35,192.93 L290.68,192.94 L291.02,192.96 L291.35,192.97 L291.68,192.99 L292.02,193.00 L292.35,193.01 L292.68,193.03 L293.02,193.04 L293.35,193.06 L293.68,193.07 L294.02,193.09 L294.35,193.10 L294.69,193.12 L295.02,193.14 L295.35,193.15 L295.69,193.17 L296.02,193.18 L296.35,193.20 L296.69,193.22 L297.02,193.24 L297.35,193.25 L297.69,193.27 L298.02,193.29 L298.36,193.31 L298.69,193.33 L299.02,193.35 L299.36,193.37 L299.69,193.39 L300.02,193.41 L300.36,193.43 L300.69,193.45 L301.02,193.47 L301.36,193.49 L301.69,193.51 L302.03,193.54 L302.36,193.56 L302.69,193.58 L303.03,193.61 L303.36,193.63 L303.69,193.65 L304.03,193.68 L304.36,193.70 L304.69,193.73 L305.03,193.76 L305.36,193.78 L305.70,193.81 L306.03,193.84 L306.36,193.87 L306.70,193.89 L307.03,193.92 L307.36,193.95 L307.70,193.98 L308.03,194.01 L308.37,194.05 L308.70,194.08 L309.03,194.11 L309.37,194.14 L309.70,194.18 L310.03,194.21 L310.37,194.25 L310.70,194.28 L311.03,194.32 L311.37,194.36 L311.70,194.40 L312.04,194.44 L312.37,194.48 L312.70,194.52 L313.04,194.56 L313.37,194.60 L313.70,194.64 L314.04,194.69 L314.37,194.73 L314.70,194.78 L315.04,194.83 L315.37,194.87 L315.71,194.92 L316.04,194.97 L316.37,195.02 L316.71,195.08 L317.04,195.13 L317.37,195.19 L317.71,195.24 L318.04,195.30 L318.37,195.36 L318.71,195.42 L319.04,195.48 L319.38,195.54 L319.71,195.61 L320.04,195.68 L320.38,195.74 L320.71,195.81 L321.04,195.88 L321.38,195.96 L321.71,196.03 L322.04,196.11 L322.38,196.19 L322.71,196.27 L323.05,196.35 L323.38,196.44 L323.71,196.52 L324.05,196.61 L324.38,196.71 L324.71,196.80 L325.05,196.90 L325.38,197.00 L325.71,197.10 L326.05,197.21 L326.38,197.31 L326.72,197.43 L327.05,197.54 L327.38,197.66 L327.72,197.78 L328.05,197.91 L328.38,198.04 L328.72,198.17 L329.05,198.30 L329.38,198.45 L329.72,198.59 L330.05,198.74 L330.39,198.90 L330.72,199.06 L331.05,199.22 L331.39,199.39 L331.72,199.57 L332.05,199.75 L332.39,199.94 L332.72,200.13 L333.06,200.33 L333.39,200.54 L333.72,200.75 L334.06,200.97 L334.39,201.21 L334.72,201.44 L335.06,201.69 L335.39,201.95 L335.72,202.21 L336.06,202.49 L336.39,202.77 L336.73,203.07 L337.06,203.38 L337.39,203.70 L337.73,204.03 L338.06,204.38 L338.39,204.74 L338.73,205.11 L339.06,205.50 L339.39,205.91 L339.73,206.33 L340.06,206.77 L340.40,207.23 L340.73,207.71 L341.06,208.21 L341.40,208.74 L341.73,209.28 L342.06,209.86 L342.40,210.45 L342.73,211.08 L343.06,211.73 L343.40,212.42 L343.73,213.14 L344.07,213.89 L344.40,214.68 L344.73,215.50 L345.07,216.37 L345.40,217.28 L345.73,218.24 L346.07,219.24 L346.40,220.29 L346.73,221.40 L347.07,222.57 L347.40,223.79 L347.74,225.08 L348.07,226.43 L348.40,227.85 L348.74,229.35 L349.07,230.92 L349.40,232.57 L349.74,234.31 L350.07,236.13 L350.40,238.05 L350.74,240.05 L351.07,242.15 L351.41,244.35 L351.74,246.64 L352.07,249.03 L352.41,251.52 L352.74,254.10 L353.07,256.77 L353.41,259.52 L353.74,262.35 L354.08,265.23 L354.41,268.17 L354.74,271.14 L355.08,274.12 L355.41,277.08 L355.74,280.00 L356.08,282.84 L356.41,285.58 L356.74,288.18 L357.08,290.58 L357.41,292.77 L357.75,294.70 L358.08,296.34 L358.41,297.64 L358.75,298.60 L359.08,299.18 L359.41,299.38 L359.75,299.18 L360.08,298.61 L360.41,297.66 L360.75,296.35 L361.08,294.72 L361.42,292.80 L361.75,290.61 L362.08,288.21 L362.42,285.61 L362.75,282.88 L363.08,280.03 L363.42,277.11 L363.75,274.15 L364.08,271.17 L364.42,268.21 L364.75,265.27 L365.09,262.38 L365.42,259.55 L365.75,256.80 L366.09,254.13 L366.42,251.55 L366.75,249.06 L367.09,246.67 L367.42,244.37 L367.75,242.18 L368.09,240.08 L368.42,238.07 L368.76,236.16 L369.09,234.33 L369.42,232.60 L369.76,230.94 L370.09,229.37 L370.42,227.87 L370.76,226.45 L371.09,225.09 L371.42,223.81 L371.76,222.58 L372.09,221.41 L372.43,220.31 L372.76,219.25 L373.09,218.25 L373.43,217.29 L373.76,216.38 L374.09,215.51 L374.43,214.69 L374.76,213.90 L375.10,213.14 L375.43,212.43 L375.76,211.74 L376.10,211.09 L376.43,210.46 L376.76,209.86 L377.10,209.29 L377.43,208.74 L377.76,208.22 L378.10,207.72 L378.43,207.24 L378.77,206.78 L379.10,206.34 L379.43,205.91 L379.77,205.51 L380.10,205.12 L380.43,204.74 L380.77,204.38 L381.10,204.04 L381.43,203.70 L381.77,203.38 L382.10,203.07 L382.44,202.78 L382.77,202.49 L383.10,202.22 L383.44,201.95 L383.77,201.69 L384.10,201.45 L384.44,201.21 L384.77,200.98 L385.10,200.76 L385.44,200.54 L385.77,200.33 L386.11,200.13 L386.44,199.94 L386.77,199.75 L387.11,199.57 L387.44,199.39 L387.77,199.22 L388.11,199.06 L388.44,198.90 L388.77,198.74 L389.11,198.59 L389.44,198.45 L389.78,198.31 L390.11,198.17 L390.44,198.04 L390.78,197.91 L391.11,197.78 L391.44,197.66 L391.78,197.54 L392.11,197.43 L392.44,197.32 L392.78,197.21 L393.11,197.10 L393.45,197.00 L393.78,196.90 L394.11,196.80 L394.45,196.71 L394.78,196.61 L395.11,196.53 L395.45,196.44 L395.78,196.35 L396.12,196.27 L396.45,196.19 L396.78,196.11 L397.12,196.03 L397.45,195.96 L397.78,195.88 L398.12,195.81 L398.45,195.74 L398.78,195.68 L399.12,195.61 L399.45,195.54 L399.79,195.48 L400.12,195.42 L400.45,195.36 L400.79,195.30 L401.12,195.24 L401.45,195.19 L401.79,195.13 L402.12,195.08 L402.45,195.03 L402.79,194.97 L403.12,194.92 L403.46,194.87 L403.79,194.83 L404.12,194.78 L404.46,194.73 L404.79,194.69 L405.12,194.64 L405.46,194.60 L405.79,194.56 L406.12,194.52 L406.46,194.48 L406.79,194.44 L407.13,194.40 L407.46,194.36 L407.79,194.32 L408.13,194.28 L408.46,194.25 L408.79,194.21 L409.13,194.18 L409.46,194.14 L409.79,194.11 L410.13,194.08 L410.46,194.05 L410.80,194.01 L411.13,193.98 L411.46,193.95 L411.80,193.92 L412.13,193.89 L412.46,193.87 L412.80,193.84 L413.13,193.81 L413.46,193.78 L413.80,193.76 L414.13,193.73 L414.47,193.70 L414.80,193.68 L415.13,193.65 L415.47,193.63 L415.80,193.61 L416.13,193.58 L416.47,193.56 L416.80,193.54 L417.13,193.51 L417.47,193.49 L417.80,193.47 L418.14,193.45 L418.47,193.43 L418.80,193.41 L419.14,193.39 L419.47,193.37 L419.80,193.35 L420.14,193.33 L420.47,193.31 L420.81,193.29 L421.14,193.27 L421.47,193.25 L421.81,193.24 L422.14,193.22 L422.47,193.20 L422.81,193.18 L423.14,193.17 L423.47,193.15 L423.81,193.14 L424.14,193.12 L424.48,193.10 L424.81,193.09 L425.14,193.07 L425.48,193.06 L425.81,193.04 L426.14,193.03 L426.48,193.01 L426.81,193.00 L427.14,192.99 L427.48,192.97 L427.81,192.96 L428.15,192.94 L428.48,192.93 L428.81,192.92 L429.15,192.91 L429.48,192.89 L429.81,192.88 L430.15,192.87 L430.48,192.86 L430.81,192.84 L431.15,192.83 L431.48,192.82 L431.82,192.81 L432.15,192.80 L432.48,192.79 L432.82,192.78 L433.15,192.77 L433.48,192.75 L433.82,192.74 L434.15,192.73 L434.48,192.72 L434.82,192.71 L435.15,192.70 L435.49,192.69 L435.82,192.68 L436.15,192.67 L436.49,192.66 L436.82,192.65 L437.15,192.65 L437.49,192.64 L437.82,192.63 L438.15,192.62 L438.49,192.61 L438.82,192.60 L439.16,192.59 L439.49,192.58 L439.82,192.57 L440.16,192.57 L440.49,192.56 L440.82,192.55 L441.16,192.54 L441.49,192.53 L441.83,192.53 L442.16,192.52 L442.49,192.51 L442.83,192.50 L443.16,192.50 L443.49,192.49 L443.83,192.48 L444.16,192.47 L444.49,192.47 L444.83,192.46 L445.16,192.45 L445.50,192.45 L445.83,192.44 L446.16,192.43 L446.50,192.43 L446.83,192.42 L447.16,192.41 L447.50,192.41 L447.83,192.40 L448.16,192.39 L448.50,192.39 L448.83,192.38 L449.17,192.38 L449.50,192.37 L449.83,192.36 L450.17,192.36 L450.50,192.35" fill="none" stroke="#6a6a6a" stroke-width="1.25"/>
<g fill="#fff" stroke="#e4604c" stroke-width="0.9"><circle cx="275.00" cy="192.48" r="1.4"/><circle cx="276.75" cy="192.52" r="1.4"/><circle cx="278.51" cy="192.56" r="1.4"/><circle cx="280.26" cy="192.61" r="1.4"/><circle cx="282.02" cy="192.65" r="1.4"/><circle cx="283.77" cy="192.71" r="1.4"/><circle cx="285.53" cy="192.76" r="1.4"/><circle cx="287.29" cy="192.82" r="1.4"/><circle cx="289.04" cy="192.88" r="1.4"/><circle cx="290.80" cy="192.95" r="1.4"/><circle cx="292.55" cy="193.02" r="1.4"/><circle cx="294.31" cy="193.10" r="1.4"/><circle cx="296.06" cy="193.19" r="1.4"/><circle cx="297.81" cy="193.28" r="1.4"/><circle cx="299.57" cy="193.38" r="1.4"/><circle cx="301.32" cy="193.49" r="1.4"/><circle cx="303.08" cy="193.61" r="1.4"/><circle cx="304.83" cy="193.74" r="1.4"/><circle cx="306.59" cy="193.88" r="1.4"/><circle cx="308.35" cy="194.04" r="1.4"/><circle cx="310.10" cy="194.22" r="1.4"/><circle cx="311.86" cy="194.41" r="1.4"/><circle cx="313.61" cy="194.63" r="1.4"/><circle cx="315.37" cy="194.87" r="1.4"/><circle cx="317.12" cy="195.14" r="1.4"/><circle cx="318.88" cy="195.45" r="1.4"/><circle cx="320.63" cy="195.80" r="1.4"/><circle cx="322.38" cy="196.19" r="1.4"/><circle cx="324.14" cy="196.64" r="1.4"/><circle cx="325.89" cy="197.16" r="1.4"/><circle cx="327.65" cy="197.76" r="1.4"/><circle cx="329.40" cy="198.45" r="1.4"/><circle cx="331.16" cy="199.27" r="1.4"/><circle cx="332.92" cy="200.25" r="1.4"/><circle cx="334.67" cy="201.40" r="1.4"/><circle cx="336.43" cy="202.80" r="1.4"/><circle cx="338.18" cy="204.51" r="1.4"/><circle cx="339.94" cy="206.60" r="1.4"/><circle cx="341.69" cy="209.22" r="1.4"/><circle cx="343.44" cy="212.52" r="1.4"/><circle cx="345.20" cy="216.73" r="1.4"/><circle cx="346.95" cy="222.16" r="1.4"/><circle cx="348.71" cy="229.23" r="1.4"/><circle cx="350.47" cy="238.40" r="1.4"/><circle cx="352.22" cy="250.11" r="1.4"/><circle cx="353.98" cy="264.36" r="1.4"/><circle cx="355.73" cy="279.88" r="1.4"/><circle cx="357.49" cy="293.22" r="1.4"/><circle cx="359.24" cy="299.32" r="1.4"/><circle cx="361.00" cy="295.18" r="1.4"/><circle cx="362.75" cy="282.88" r="1.4"/><circle cx="364.50" cy="267.44" r="1.4"/><circle cx="366.26" cy="252.78" r="1.4"/><circle cx="368.01" cy="240.53" r="1.4"/><circle cx="369.77" cy="230.88" r="1.4"/><circle cx="371.52" cy="223.43" r="1.4"/><circle cx="373.28" cy="217.71" r="1.4"/><circle cx="375.03" cy="213.28" r="1.4"/><circle cx="376.79" cy="209.82" r="1.4"/><circle cx="378.55" cy="207.08" r="1.4"/><circle cx="380.30" cy="204.89" r="1.4"/><circle cx="382.06" cy="203.12" r="1.4"/><circle cx="383.81" cy="201.66" r="1.4"/><circle cx="385.56" cy="200.46" r="1.4"/><circle cx="387.32" cy="199.46" r="1.4"/><circle cx="389.07" cy="198.61" r="1.4"/><circle cx="390.83" cy="197.89" r="1.4"/><circle cx="392.58" cy="197.27" r="1.4"/><circle cx="394.34" cy="196.74" r="1.4"/><circle cx="396.10" cy="196.27" r="1.4"/><circle cx="397.85" cy="195.87" r="1.4"/><circle cx="399.61" cy="195.52" r="1.4"/><circle cx="401.36" cy="195.20" r="1.4"/><circle cx="403.12" cy="194.92" r="1.4"/><circle cx="404.87" cy="194.68" r="1.4"/><circle cx="406.62" cy="194.46" r="1.4"/><circle cx="408.38" cy="194.26" r="1.4"/><circle cx="410.13" cy="194.08" r="1.4"/><circle cx="411.89" cy="193.92" r="1.4"/><circle cx="413.64" cy="193.77" r="1.4"/><circle cx="415.40" cy="193.63" r="1.4"/><circle cx="417.15" cy="193.51" r="1.4"/><circle cx="418.91" cy="193.40" r="1.4"/><circle cx="420.66" cy="193.30" r="1.4"/><circle cx="422.42" cy="193.20" r="1.4"/><circle cx="424.18" cy="193.12" r="1.4"/><circle cx="425.93" cy="193.04" r="1.4"/><circle cx="427.69" cy="192.96" r="1.4"/><circle cx="429.44" cy="192.89" r="1.4"/><circle cx="431.19" cy="192.83" r="1.4"/><circle cx="432.95" cy="192.77" r="1.4"/><circle cx="434.71" cy="192.72" r="1.4"/><circle cx="436.46" cy="192.66" r="1.4"/><circle cx="438.22" cy="192.62" r="1.4"/><circle cx="439.97" cy="192.57" r="1.4"/><circle cx="441.73" cy="192.53" r="1.4"/><circle cx="443.48" cy="192.49" r="1.4"/><circle cx="445.24" cy="192.45" r="1.4"/><circle cx="446.99" cy="192.42" r="1.4"/><circle cx="448.75" cy="192.38" r="1.4"/><circle cx="450.50" cy="192.35" r="1.4"/></g>
</g>
<path d="M274.0,180.5 H451.0" stroke="#969696" stroke-width="1" fill="none"/>
<path d="M450.5,180.5 V313.2" stroke="#969696" stroke-width="1" fill="none"/>
<path d="M274.5,313.2 H451.0" stroke="#696969" stroke-width="1" fill="none"/>
<path d="M275.0,180.0 V313.7" stroke="#7d7d7d" stroke-width="1" fill="none"/>
<g stroke="#606060" stroke-width="0.8" fill="none">
<path d="M272.8,302.14 H275.0"/>
<path d="M273.8,291.08 H275.0"/>
<path d="M272.8,280.02 H275.0"/>
<path d="M273.8,268.97 H275.0"/>
<path d="M272.8,257.91 H275.0"/>
<path d="M273.8,246.85 H275.0"/>
<path d="M272.8,235.79 H275.0"/>
<path d="M273.8,224.73 H275.0"/>
<path d="M272.8,213.68 H275.0"/>
<path d="M273.8,202.62 H275.0"/>
<path d="M272.8,191.56 H275.0"/>
<path d="M275.00,313.2 V315.4"/>
<path d="M310.10,313.2 V315.4"/>
<path d="M345.20,313.2 V315.4"/>
<path d="M380.30,313.2 V315.4"/>
<path d="M415.40,313.2 V315.4"/>
<path d="M450.50,313.2 V315.4"/>
<path d="M292.55,313.2 V314.4"/>
<path d="M327.65,313.2 V314.4"/>
<path d="M362.75,313.2 V314.4"/>
<path d="M397.85,313.2 V314.4"/>
<path d="M432.95,313.2 V314.4"/>
</g>
<g font-size="7.7" fill="#222" stroke="#222" stroke-width="0.12">
<text transform="translate(271.10,304.74) scale(0.91,1)" text-anchor="end">0.0</text>
<text transform="translate(271.10,282.62) scale(0.91,1)" text-anchor="end">0.2</text>
<text transform="translate(271.10,260.51) scale(0.91,1)" text-anchor="end">0.4</text>
<text transform="translate(271.10,238.39) scale(0.91,1)" text-anchor="end">0.6</text>
<text transform="translate(271.10,216.28) scale(0.91,1)" text-anchor="end">0.8</text>
<text transform="translate(271.10,194.16) scale(0.91,1)" text-anchor="end">1.0</text>
<text transform="translate(275.00,322.90) scale(0.91,1)" text-anchor="middle">−6000</text>
<text transform="translate(310.10,322.90) scale(0.91,1)" text-anchor="middle">−4000</text>
<text transform="translate(345.20,322.90) scale(0.91,1)" text-anchor="middle">−2000</text>
<text transform="translate(380.30,322.90) scale(0.91,1)" text-anchor="middle">0</text>
<text transform="translate(415.40,322.90) scale(0.91,1)" text-anchor="middle">2000</text>
<text transform="translate(450.50,322.90) scale(0.91,1)" text-anchor="middle">4000</text>
</g>
<text x="362.75" y="338.40" font-size="10.5" fill="#111" text-anchor="middle"><tspan font-size="6.5" dy="-3.8">31</tspan><tspan dy="3.8">P frequency offset (Hz)</tspan></text>
<text transform="translate(257.40,246.85) rotate(-90)" font-size="10.3" fill="#111" text-anchor="middle">Normalized <tspan font-size="6.5" dy="-3.8">31</tspan><tspan dy="3.8">P intensity</tspan></text>
<g fill="#111" stroke="#111" stroke-width="0.25">
<text transform="translate(422.08,306.37) scale(0.9317,1)" font-size="12.66" >β</text>
<text transform="translate(430.40,306.40) scale(0.7824,1)" font-size="11.05" >P</text>
</g>
<g clip-path="url(#c5)">
<path d="M500.50,195.57 L500.83,195.58 L501.17,195.60 L501.50,195.62 L501.83,195.63 L502.17,195.65 L502.50,195.67 L502.84,195.68 L503.17,195.70 L503.50,195.72 L503.84,195.74 L504.17,195.76 L504.50,195.78 L504.84,195.79 L505.17,195.81 L505.50,195.83 L505.84,195.85 L506.17,195.87 L506.50,195.89 L506.84,195.91 L507.17,195.93 L507.51,195.95 L507.84,195.97 L508.17,195.99 L508.51,196.01 L508.84,196.04 L509.17,196.06 L509.51,196.08 L509.84,196.10 L510.17,196.12 L510.51,196.15 L510.84,196.17 L511.17,196.19 L511.51,196.22 L511.84,196.24 L512.18,196.26 L512.51,196.29 L512.84,196.31 L513.18,196.34 L513.51,196.36 L513.84,196.39 L514.18,196.41 L514.51,196.44 L514.84,196.47 L515.18,196.49 L515.51,196.52 L515.84,196.55 L516.18,196.57 L516.51,196.60 L516.85,196.63 L517.18,196.66 L517.51,196.69 L517.85,196.72 L518.18,196.75 L518.51,196.78 L518.85,196.81 L519.18,196.84 L519.51,196.87 L519.85,196.90 L520.18,196.93 L520.51,196.97 L520.85,197.00 L521.18,197.03 L521.52,197.07 L521.85,197.10 L522.18,197.14 L522.52,197.17 L522.85,197.21 L523.18,197.24 L523.52,197.28 L523.85,197.32 L524.18,197.36 L524.52,197.39 L524.85,197.43 L525.18,197.47 L525.52,197.51 L525.85,197.55 L526.19,197.59 L526.52,197.63 L526.85,197.68 L527.19,197.72 L527.52,197.76 L527.85,197.81 L528.19,197.85 L528.52,197.90 L528.85,197.94 L529.19,197.99 L529.52,198.03 L529.85,198.08 L530.19,198.13 L530.52,198.18 L530.86,198.23 L531.19,198.28 L531.52,198.33 L531.86,198.38 L532.19,198.44 L532.52,198.49 L532.86,198.55 L533.19,198.60 L533.52,198.66 L533.86,198.72 L534.19,198.77 L534.52,198.83 L534.86,198.89 L535.19,198.95 L535.53,199.02 L535.86,199.08 L536.19,199.14 L536.53,199.21 L536.86,199.27 L537.19,199.34 L537.53,199.41 L537.86,199.48 L538.19,199.55 L538.53,199.62 L538.86,199.69 L539.19,199.77 L539.53,199.84 L539.86,199.92 L540.20,200.00 L540.53,200.07 L540.86,200.15 L541.20,200.24 L541.53,200.32 L541.86,200.40 L542.20,200.49 L542.53,200.58 L542.86,200.67 L543.20,200.76 L543.53,200.85 L543.86,200.94 L544.20,201.04 L544.53,201.14 L544.87,201.24 L545.20,201.34 L545.53,201.44 L545.87,201.55 L546.20,201.65 L546.53,201.76 L546.87,201.87 L547.20,201.99 L547.53,202.10 L547.87,202.22 L548.20,202.34 L548.54,202.46 L548.87,202.59 L549.20,202.71 L549.54,202.84 L549.87,202.97 L550.20,203.11 L550.54,203.25 L550.87,203.39 L551.20,203.53 L551.54,203.68 L551.87,203.82 L552.20,203.98 L552.54,204.13 L552.87,204.29 L553.21,204.45 L553.54,204.62 L553.87,204.79 L554.21,204.96 L554.54,205.13 L554.87,205.31 L555.21,205.50 L555.54,205.69 L555.87,205.88 L556.21,206.07 L556.54,206.28 L556.87,206.48 L557.21,206.69 L557.54,206.91 L557.88,207.12 L558.21,207.35 L558.54,207.58 L558.88,207.81 L559.21,208.05 L559.54,208.30 L559.88,208.55 L560.21,208.81 L560.54,209.08 L560.88,209.35 L561.21,209.62 L561.54,209.91 L561.88,210.20 L562.21,210.50 L562.55,210.80 L562.88,211.12 L563.21,211.44 L563.55,211.77 L563.88,212.10 L564.21,212.45 L564.55,212.81 L564.88,213.17 L565.21,213.54 L565.55,213.93 L565.88,214.32 L566.21,214.72 L566.55,215.14 L566.88,215.57 L567.22,216.00 L567.55,216.45 L567.88,216.91 L568.22,217.39 L568.55,217.87 L568.88,218.37 L569.22,218.89 L569.55,219.42 L569.88,219.96 L570.22,220.52 L570.55,221.09 L570.88,221.68 L571.22,222.28 L571.55,222.91 L571.89,223.55 L572.22,224.21 L572.55,224.89 L572.89,225.58 L573.22,226.30 L573.55,227.04 L573.89,227.80 L574.22,228.58 L574.55,229.38 L574.89,230.20 L575.22,231.05 L575.55,231.93 L575.89,232.82 L576.22,233.75 L576.56,234.70 L576.89,235.67 L577.22,236.68 L577.56,237.71 L577.89,238.77 L578.22,239.86 L578.56,240.97 L578.89,242.12 L579.22,243.30 L579.56,244.51 L579.89,245.74 L580.22,247.01 L580.56,248.31 L580.89,249.65 L581.23,251.01 L581.56,252.40 L581.89,253.82 L582.23,255.28 L582.56,256.76 L582.89,258.27 L583.23,259.81 L583.56,261.37 L583.89,262.96 L584.23,264.57 L584.56,266.20 L584.89,267.84 L585.23,269.51 L585.56,271.18 L585.90,272.86 L586.23,274.55 L586.56,276.24 L586.90,277.92 L587.23,279.60 L587.56,281.26 L587.90,282.90 L588.23,284.52 L588.56,286.11 L588.90,287.66 L589.23,289.16 L589.56,290.62 L589.90,292.01 L590.23,293.35 L590.57,294.61 L590.90,295.79 L591.23,296.89 L591.57,297.89 L591.90,298.80 L592.23,299.61 L592.57,300.31 L592.90,300.89 L593.23,301.36 L593.57,301.71 L593.90,301.94 L594.24,302.04 L594.57,302.02 L594.90,301.88 L595.24,301.61 L595.57,301.23 L595.90,300.72 L596.24,300.10 L596.57,299.37 L596.90,298.53 L597.24,297.59 L597.57,296.55 L597.90,295.43 L598.24,294.22 L598.57,292.94 L598.91,291.58 L599.24,290.17 L599.57,288.70 L599.91,287.18 L600.24,285.61 L600.57,284.02 L600.91,282.39 L601.24,280.74 L601.57,279.07 L601.91,277.40 L602.24,275.71 L602.57,274.02 L602.91,272.33 L603.24,270.65 L603.58,268.98 L603.91,267.33 L604.24,265.68 L604.58,264.06 L604.91,262.46 L605.24,260.88 L605.58,259.32 L605.91,257.79 L606.24,256.29 L606.58,254.82 L606.91,253.38 L607.24,251.96 L607.58,250.58 L607.91,249.22 L608.25,247.90 L608.58,246.61 L608.91,245.35 L609.25,244.12 L609.58,242.92 L609.91,241.76 L610.25,240.62 L610.58,239.51 L610.91,238.43 L611.25,237.38 L611.58,236.36 L611.91,235.36 L612.25,234.40 L612.58,233.46 L612.92,232.54 L613.25,231.65 L613.58,230.78 L613.92,229.94 L614.25,229.12 L614.58,228.33 L614.92,227.56 L615.25,226.80 L615.58,226.07 L615.92,225.36 L616.25,224.67 L616.58,224.00 L616.92,223.35 L617.25,222.71 L617.59,222.09 L617.92,221.49 L618.25,220.91 L618.59,220.34 L618.92,219.79 L619.25,219.25 L619.59,218.72 L619.92,218.22 L620.25,217.72 L620.59,217.24 L620.92,216.77 L621.25,216.31 L621.59,215.86 L621.92,215.43 L622.26,215.01 L622.59,214.60 L622.92,214.20 L623.26,213.81 L623.59,213.43 L623.92,213.05 L624.26,212.69 L624.59,212.34 L624.92,212.00 L625.26,211.66 L625.59,211.34 L625.92,211.02 L626.26,210.71 L626.59,210.40 L626.93,210.11 L627.26,209.82 L627.59,209.54 L627.93,209.26 L628.26,208.99 L628.59,208.73 L628.93,208.47 L629.26,208.22 L629.59,207.98 L629.93,207.74 L630.26,207.51 L630.59,207.28 L630.93,207.06 L631.26,206.84 L631.60,206.62 L631.93,206.42 L632.26,206.21 L632.60,206.01 L632.93,205.82 L633.26,205.63 L633.60,205.44 L633.93,205.26 L634.26,205.08 L634.60,204.90 L634.93,204.73 L635.26,204.57 L635.60,204.40 L635.93,204.24 L636.27,204.08 L636.60,203.93 L636.93,203.78 L637.27,203.63 L637.60,203.48 L637.93,203.34 L638.27,203.20 L638.60,203.07 L638.93,202.93 L639.27,202.80 L639.60,202.67 L639.94,202.55 L640.27,202.42 L640.60,202.30 L640.94,202.18 L641.27,202.07 L641.60,201.95 L641.94,201.84 L642.27,201.73 L642.60,201.62 L642.94,201.51 L643.27,201.41 L643.60,201.31 L643.94,201.21 L644.27,201.11 L644.61,201.01 L644.94,200.92 L645.27,200.82 L645.61,200.73 L645.94,200.64 L646.27,200.55 L646.61,200.46 L646.94,200.38 L647.27,200.29 L647.61,200.21 L647.94,200.13 L648.27,200.05 L648.61,199.97 L648.94,199.89 L649.28,199.82 L649.61,199.74 L649.94,199.67 L650.28,199.60 L650.61,199.53 L650.94,199.46 L651.28,199.39 L651.61,199.32 L651.94,199.25 L652.28,199.19 L652.61,199.12 L652.94,199.06 L653.28,199.00 L653.61,198.93 L653.95,198.87 L654.28,198.81 L654.61,198.76 L654.95,198.70 L655.28,198.64 L655.61,198.58 L655.95,198.53 L656.28,198.47 L656.61,198.42 L656.95,198.37 L657.28,198.32 L657.61,198.27 L657.95,198.21 L658.28,198.16 L658.62,198.12 L658.95,198.07 L659.28,198.02 L659.62,197.97 L659.95,197.93 L660.28,197.88 L660.62,197.84 L660.95,197.79 L661.28,197.75 L661.62,197.71 L661.95,197.66 L662.28,197.62 L662.62,197.58 L662.95,197.54 L663.29,197.50 L663.62,197.46 L663.95,197.42 L664.29,197.38 L664.62,197.34 L664.95,197.31 L665.29,197.27 L665.62,197.23 L665.95,197.20 L666.29,197.16 L666.62,197.13 L666.95,197.09 L667.29,197.06 L667.62,197.02 L667.96,196.99 L668.29,196.96 L668.62,196.92 L668.96,196.89 L669.29,196.86 L669.62,196.83 L669.96,196.80 L670.29,196.77 L670.62,196.74 L670.96,196.71 L671.29,196.68 L671.62,196.65 L671.96,196.62 L672.29,196.59 L672.63,196.57 L672.96,196.54 L673.29,196.51 L673.63,196.48 L673.96,196.46 L674.29,196.43 L674.63,196.40 L674.96,196.38 L675.29,196.35 L675.63,196.33 L675.96,196.30 L676.29,196.28 L676.63,196.26 L676.96,196.23 L677.30,196.21 L677.63,196.18 L677.96,196.16 L678.30,196.14 L678.63,196.12 L678.96,196.09 L679.30,196.07 L679.63,196.05 L679.96,196.03 L680.30,196.01 L680.63,195.99 L680.96,195.97 L681.30,195.94 L681.63,195.92 L681.97,195.90 L682.30,195.88 L682.63,195.86 L682.97,195.85 L683.30,195.83" fill="none" stroke="#6a6a6a" stroke-width="1.25"/>
<g fill="#fff" stroke="#52b6d6" stroke-width="0.9"><circle cx="500.50" cy="195.57" r="1.4"/><circle cx="502.33" cy="195.66" r="1.4"/><circle cx="504.16" cy="195.76" r="1.4"/><circle cx="505.98" cy="195.86" r="1.4"/><circle cx="507.81" cy="195.97" r="1.4"/><circle cx="509.64" cy="196.09" r="1.4"/><circle cx="511.47" cy="196.21" r="1.4"/><circle cx="513.30" cy="196.35" r="1.4"/><circle cx="515.12" cy="196.49" r="1.4"/><circle cx="516.95" cy="196.64" r="1.4"/><circle cx="518.78" cy="196.80" r="1.4"/><circle cx="520.61" cy="196.98" r="1.4"/><circle cx="522.44" cy="197.16" r="1.4"/><circle cx="524.26" cy="197.36" r="1.4"/><circle cx="526.09" cy="197.58" r="1.4"/><circle cx="527.92" cy="197.81" r="1.4"/><circle cx="529.75" cy="198.07" r="1.4"/><circle cx="531.58" cy="198.34" r="1.4"/><circle cx="533.40" cy="198.64" r="1.4"/><circle cx="535.23" cy="198.96" r="1.4"/><circle cx="537.06" cy="199.31" r="1.4"/><circle cx="538.89" cy="199.70" r="1.4"/><circle cx="540.72" cy="200.12" r="1.4"/><circle cx="542.54" cy="200.58" r="1.4"/><circle cx="544.37" cy="201.09" r="1.4"/><circle cx="546.20" cy="201.65" r="1.4"/><circle cx="548.03" cy="202.28" r="1.4"/><circle cx="549.86" cy="202.97" r="1.4"/><circle cx="551.68" cy="203.74" r="1.4"/><circle cx="553.51" cy="204.60" r="1.4"/><circle cx="555.34" cy="205.57" r="1.4"/><circle cx="557.17" cy="206.67" r="1.4"/><circle cx="559.00" cy="207.90" r="1.4"/><circle cx="560.82" cy="209.30" r="1.4"/><circle cx="562.65" cy="210.90" r="1.4"/><circle cx="564.48" cy="212.73" r="1.4"/><circle cx="566.31" cy="214.84" r="1.4"/><circle cx="568.14" cy="217.27" r="1.4"/><circle cx="569.96" cy="220.09" r="1.4"/><circle cx="571.79" cy="223.37" r="1.4"/><circle cx="573.62" cy="227.19" r="1.4"/><circle cx="575.45" cy="231.64" r="1.4"/><circle cx="577.28" cy="236.84" r="1.4"/><circle cx="579.10" cy="242.87" r="1.4"/><circle cx="580.93" cy="249.81" r="1.4"/><circle cx="582.76" cy="257.66" r="1.4"/><circle cx="584.59" cy="266.33" r="1.4"/><circle cx="586.42" cy="275.50" r="1.4"/><circle cx="588.24" cy="284.59" r="1.4"/><circle cx="590.07" cy="292.72" r="1.4"/><circle cx="591.90" cy="298.80" r="1.4"/><circle cx="593.73" cy="301.83" r="1.4"/><circle cx="595.56" cy="301.24" r="1.4"/><circle cx="597.38" cy="297.14" r="1.4"/><circle cx="599.21" cy="290.28" r="1.4"/><circle cx="601.04" cy="281.73" r="1.4"/><circle cx="602.87" cy="272.54" r="1.4"/><circle cx="604.70" cy="263.48" r="1.4"/><circle cx="606.52" cy="255.05" r="1.4"/><circle cx="608.35" cy="247.49" r="1.4"/><circle cx="610.18" cy="240.84" r="1.4"/><circle cx="612.01" cy="235.09" r="1.4"/><circle cx="613.84" cy="230.14" r="1.4"/><circle cx="615.66" cy="225.90" r="1.4"/><circle cx="617.49" cy="222.26" r="1.4"/><circle cx="619.32" cy="219.14" r="1.4"/><circle cx="621.15" cy="216.45" r="1.4"/><circle cx="622.98" cy="214.13" r="1.4"/><circle cx="624.80" cy="212.12" r="1.4"/><circle cx="626.63" cy="210.37" r="1.4"/><circle cx="628.46" cy="208.83" r="1.4"/><circle cx="630.29" cy="207.49" r="1.4"/><circle cx="632.12" cy="206.30" r="1.4"/><circle cx="633.94" cy="205.25" r="1.4"/><circle cx="635.77" cy="204.32" r="1.4"/><circle cx="637.60" cy="203.48" r="1.4"/><circle cx="639.43" cy="202.74" r="1.4"/><circle cx="641.26" cy="202.07" r="1.4"/><circle cx="643.08" cy="201.47" r="1.4"/><circle cx="644.91" cy="200.92" r="1.4"/><circle cx="646.74" cy="200.43" r="1.4"/><circle cx="648.57" cy="199.98" r="1.4"/><circle cx="650.40" cy="199.57" r="1.4"/><circle cx="652.22" cy="199.20" r="1.4"/><circle cx="654.05" cy="198.85" r="1.4"/><circle cx="655.88" cy="198.54" r="1.4"/><circle cx="657.71" cy="198.25" r="1.4"/><circle cx="659.54" cy="197.98" r="1.4"/><circle cx="661.36" cy="197.74" r="1.4"/><circle cx="663.19" cy="197.51" r="1.4"/><circle cx="665.02" cy="197.30" r="1.4"/><circle cx="666.85" cy="197.10" r="1.4"/><circle cx="668.68" cy="196.92" r="1.4"/><circle cx="670.50" cy="196.75" r="1.4"/><circle cx="672.33" cy="196.59" r="1.4"/><circle cx="674.16" cy="196.44" r="1.4"/><circle cx="675.99" cy="196.30" r="1.4"/><circle cx="677.82" cy="196.17" r="1.4"/><circle cx="679.64" cy="196.05" r="1.4"/><circle cx="681.47" cy="195.93" r="1.4"/><circle cx="683.30" cy="195.83" r="1.4"/></g>
<path d="M500.50,192.11 L500.83,192.11 L501.17,192.12 L501.50,192.12 L501.83,192.13 L502.17,192.13 L502.50,192.13 L502.84,192.14 L503.17,192.14 L503.50,192.15 L503.84,192.15 L504.17,192.16 L504.50,192.16 L504.84,192.16 L505.17,192.17 L505.50,192.17 L505.84,192.18 L506.17,192.18 L506.50,192.19 L506.84,192.19 L507.17,192.20 L507.51,192.20 L507.84,192.21 L508.17,192.21 L508.51,192.22 L508.84,192.22 L509.17,192.23 L509.51,192.23 L509.84,192.24 L510.17,192.24 L510.51,192.25 L510.84,192.26 L511.17,192.26 L511.51,192.27 L511.84,192.27 L512.18,192.28 L512.51,192.28 L512.84,192.29 L513.18,192.30 L513.51,192.30 L513.84,192.31 L514.18,192.32 L514.51,192.32 L514.84,192.33 L515.18,192.33 L515.51,192.34 L515.84,192.35 L516.18,192.35 L516.51,192.36 L516.85,192.37 L517.18,192.38 L517.51,192.38 L517.85,192.39 L518.18,192.40 L518.51,192.40 L518.85,192.41 L519.18,192.42 L519.51,192.43 L519.85,192.44 L520.18,192.44 L520.51,192.45 L520.85,192.46 L521.18,192.47 L521.52,192.48 L521.85,192.48 L522.18,192.49 L522.52,192.50 L522.85,192.51 L523.18,192.52 L523.52,192.53 L523.85,192.54 L524.18,192.55 L524.52,192.56 L524.85,192.57 L525.18,192.58 L525.52,192.59 L525.85,192.60 L526.19,192.61 L526.52,192.62 L526.85,192.63 L527.19,192.64 L527.52,192.65 L527.85,192.66 L528.19,192.67 L528.52,192.68 L528.85,192.69 L529.19,192.70 L529.52,192.72 L529.85,192.73 L530.19,192.74 L530.52,192.75 L530.86,192.77 L531.19,192.78 L531.52,192.79 L531.86,192.80 L532.19,192.82 L532.52,192.83 L532.86,192.84 L533.19,192.86 L533.52,192.87 L533.86,192.89 L534.19,192.90 L534.52,192.92 L534.86,192.93 L535.19,192.95 L535.53,192.96 L535.86,192.98 L536.19,193.00 L536.53,193.01 L536.86,193.03 L537.19,193.05 L537.53,193.06 L537.86,193.08 L538.19,193.10 L538.53,193.12 L538.86,193.14 L539.19,193.15 L539.53,193.17 L539.86,193.19 L540.20,193.21 L540.53,193.23 L540.86,193.25 L541.20,193.28 L541.53,193.30 L541.86,193.32 L542.20,193.34 L542.53,193.36 L542.86,193.39 L543.20,193.41 L543.53,193.44 L543.86,193.46 L544.20,193.48 L544.53,193.51 L544.87,193.54 L545.20,193.56 L545.53,193.59 L545.87,193.62 L546.20,193.65 L546.53,193.67 L546.87,193.70 L547.20,193.73 L547.53,193.76 L547.87,193.80 L548.20,193.83 L548.54,193.86 L548.87,193.89 L549.20,193.93 L549.54,193.96 L549.87,194.00 L550.20,194.03 L550.54,194.07 L550.87,194.11 L551.20,194.15 L551.54,194.19 L551.87,194.23 L552.20,194.27 L552.54,194.31 L552.87,194.36 L553.21,194.40 L553.54,194.45 L553.87,194.49 L554.21,194.54 L554.54,194.59 L554.87,194.64 L555.21,194.69 L555.54,194.74 L555.87,194.80 L556.21,194.85 L556.54,194.91 L556.87,194.97 L557.21,195.03 L557.54,195.09 L557.88,195.15 L558.21,195.21 L558.54,195.28 L558.88,195.35 L559.21,195.42 L559.54,195.49 L559.88,195.56 L560.21,195.64 L560.54,195.72 L560.88,195.80 L561.21,195.88 L561.54,195.97 L561.88,196.05 L562.21,196.14 L562.55,196.24 L562.88,196.33 L563.21,196.43 L563.55,196.53 L563.88,196.64 L564.21,196.74 L564.55,196.85 L564.88,196.97 L565.21,197.09 L565.55,197.21 L565.88,197.34 L566.21,197.47 L566.55,197.60 L566.88,197.74 L567.22,197.88 L567.55,198.03 L567.88,198.19 L568.22,198.35 L568.55,198.51 L568.88,198.68 L569.22,198.86 L569.55,199.05 L569.88,199.24 L570.22,199.44 L570.55,199.64 L570.88,199.86 L571.22,200.08 L571.55,200.31 L571.89,200.55 L572.22,200.80 L572.55,201.06 L572.89,201.33 L573.22,201.61 L573.55,201.91 L573.89,202.21 L574.22,202.53 L574.55,202.87 L574.89,203.22 L575.22,203.58 L575.55,203.96 L575.89,204.36 L576.22,204.78 L576.56,205.22 L576.89,205.67 L577.22,206.15 L577.56,206.66 L577.89,207.19 L578.22,207.74 L578.56,208.32 L578.89,208.94 L579.22,209.58 L579.56,210.26 L579.89,210.98 L580.22,211.73 L580.56,212.53 L580.89,213.37 L581.23,214.26 L581.56,215.19 L581.89,216.18 L582.23,217.23 L582.56,218.34 L582.89,219.51 L583.23,220.75 L583.56,222.06 L583.89,223.46 L584.23,224.93 L584.56,226.49 L584.89,228.15 L585.23,229.91 L585.56,231.77 L585.90,233.74 L586.23,235.82 L586.56,238.02 L586.90,240.35 L587.23,242.80 L587.56,245.39 L587.90,248.10 L588.23,250.94 L588.56,253.91 L588.90,257.00 L589.23,260.19 L589.56,263.48 L589.90,266.85 L590.23,270.27 L590.57,273.71 L590.90,277.14 L591.23,280.50 L591.57,283.76 L591.90,286.85 L592.23,289.73 L592.57,292.33 L592.90,294.59 L593.23,296.45 L593.57,297.88 L593.90,298.82 L594.24,299.26 L594.57,299.18 L594.90,298.58 L595.24,297.48 L595.57,295.91 L595.90,293.92 L596.24,291.55 L596.57,288.86 L596.90,285.90 L597.24,282.75 L597.57,279.46 L597.90,276.07 L598.24,272.63 L598.57,269.20 L598.91,265.79 L599.24,262.44 L599.57,259.18 L599.91,256.02 L600.24,252.97 L600.57,250.04 L600.91,247.23 L601.24,244.56 L601.57,242.02 L601.91,239.61 L602.24,237.32 L602.57,235.15 L602.91,233.11 L603.24,231.17 L603.58,229.35 L603.91,227.62 L604.24,225.99 L604.58,224.46 L604.91,223.01 L605.24,221.64 L605.58,220.35 L605.91,219.13 L606.24,217.98 L606.58,216.89 L606.91,215.87 L607.24,214.89 L607.58,213.97 L607.91,213.10 L608.25,212.28 L608.58,211.49 L608.91,210.75 L609.25,210.05 L609.58,209.38 L609.91,208.74 L610.25,208.14 L610.58,207.56 L610.91,207.02 L611.25,206.50 L611.58,206.00 L611.91,205.53 L612.25,205.08 L612.58,204.65 L612.92,204.23 L613.25,203.84 L613.58,203.46 L613.92,203.10 L614.25,202.76 L614.58,202.43 L614.92,202.12 L615.25,201.81 L615.58,201.52 L615.92,201.24 L616.25,200.98 L616.58,200.72 L616.92,200.47 L617.25,200.24 L617.59,200.01 L617.92,199.79 L618.25,199.58 L618.59,199.37 L618.92,199.18 L619.25,198.99 L619.59,198.81 L619.92,198.63 L620.25,198.46 L620.59,198.30 L620.92,198.14 L621.25,197.99 L621.59,197.84 L621.92,197.70 L622.26,197.56 L622.59,197.42 L622.92,197.30 L623.26,197.17 L623.59,197.05 L623.92,196.93 L624.26,196.82 L624.59,196.71 L624.92,196.60 L625.26,196.50 L625.59,196.40 L625.92,196.30 L626.26,196.21 L626.59,196.11 L626.93,196.03 L627.26,195.94 L627.59,195.85 L627.93,195.77 L628.26,195.69 L628.59,195.62 L628.93,195.54 L629.26,195.47 L629.59,195.40 L629.93,195.33 L630.26,195.26 L630.59,195.19 L630.93,195.13 L631.26,195.07 L631.60,195.01 L631.93,194.95 L632.26,194.89 L632.60,194.83 L632.93,194.78 L633.26,194.73 L633.60,194.67 L633.93,194.62 L634.26,194.57 L634.60,194.52 L634.93,194.48 L635.26,194.43 L635.60,194.39 L635.93,194.34 L636.27,194.30 L636.60,194.26 L636.93,194.22 L637.27,194.17 L637.60,194.14 L637.93,194.10 L638.27,194.06 L638.60,194.02 L638.93,193.99 L639.27,193.95 L639.60,193.92 L639.94,193.88 L640.27,193.85 L640.60,193.82 L640.94,193.79 L641.27,193.75 L641.60,193.72 L641.94,193.69 L642.27,193.67 L642.60,193.64 L642.94,193.61 L643.27,193.58 L643.60,193.55 L643.94,193.53 L644.27,193.50 L644.61,193.48 L644.94,193.45 L645.27,193.43 L645.61,193.40 L645.94,193.38 L646.27,193.36 L646.61,193.33 L646.94,193.31 L647.27,193.29 L647.61,193.27 L647.94,193.25 L648.27,193.23 L648.61,193.21 L648.94,193.19 L649.28,193.17 L649.61,193.15 L649.94,193.13 L650.28,193.11 L650.61,193.09 L650.94,193.08 L651.28,193.06 L651.61,193.04 L651.94,193.02 L652.28,193.01 L652.61,192.99 L652.94,192.97 L653.28,192.96 L653.61,192.94 L653.95,192.93 L654.28,192.91 L654.61,192.90 L654.95,192.88 L655.28,192.87 L655.61,192.85 L655.95,192.84 L656.28,192.83 L656.61,192.81 L656.95,192.80 L657.28,192.79 L657.61,192.77 L657.95,192.76 L658.28,192.75 L658.62,192.74 L658.95,192.72 L659.28,192.71 L659.62,192.70 L659.95,192.69 L660.28,192.68 L660.62,192.67 L660.95,192.66 L661.28,192.64 L661.62,192.63 L661.95,192.62 L662.28,192.61 L662.62,192.60 L662.95,192.59 L663.29,192.58 L663.62,192.57 L663.95,192.56 L664.29,192.55 L664.62,192.54 L664.95,192.53 L665.29,192.53 L665.62,192.52 L665.95,192.51 L666.29,192.50 L666.62,192.49 L666.95,192.48 L667.29,192.47 L667.62,192.47 L667.96,192.46 L668.29,192.45 L668.62,192.44 L668.96,192.43 L669.29,192.43 L669.62,192.42 L669.96,192.41 L670.29,192.40 L670.62,192.40 L670.96,192.39 L671.29,192.38 L671.62,192.37 L671.96,192.37 L672.29,192.36 L672.63,192.35 L672.96,192.35 L673.29,192.34 L673.63,192.33 L673.96,192.33 L674.29,192.32 L674.63,192.31 L674.96,192.31 L675.29,192.30 L675.63,192.29 L675.96,192.29 L676.29,192.28 L676.63,192.28 L676.96,192.27 L677.30,192.27 L677.63,192.26 L677.96,192.25 L678.30,192.25 L678.63,192.24 L678.96,192.24 L679.30,192.23 L679.63,192.23 L679.96,192.22 L680.30,192.22 L680.63,192.21 L680.96,192.21 L681.30,192.20 L681.63,192.20 L681.97,192.19 L682.30,192.19 L682.63,192.18 L682.97,192.18 L683.30,192.17" fill="none" stroke="#6a6a6a" stroke-width="1.25"/>
<g fill="#fff" stroke="#e4604c" stroke-width="0.9"><circle cx="500.50" cy="192.11" r="1.4"/><circle cx="502.33" cy="192.13" r="1.4"/><circle cx="504.16" cy="192.16" r="1.4"/><circle cx="505.98" cy="192.18" r="1.4"/><circle cx="507.81" cy="192.21" r="1.4"/><circle cx="509.64" cy="192.24" r="1.4"/><circle cx="511.47" cy="192.27" r="1.4"/><circle cx="513.30" cy="192.30" r="1.4"/><circle cx="515.12" cy="192.33" r="1.4"/><circle cx="516.95" cy="192.37" r="1.4"/><circle cx="518.78" cy="192.41" r="1.4"/><circle cx="520.61" cy="192.45" r="1.4"/><circle cx="522.44" cy="192.50" r="1.4"/><circle cx="524.26" cy="192.55" r="1.4"/><circle cx="526.09" cy="192.60" r="1.4"/><circle cx="527.92" cy="192.66" r="1.4"/><circle cx="529.75" cy="192.72" r="1.4"/><circle cx="531.58" cy="192.79" r="1.4"/><circle cx="533.40" cy="192.87" r="1.4"/><circle cx="535.23" cy="192.95" r="1.4"/><circle cx="537.06" cy="193.04" r="1.4"/><circle cx="538.89" cy="193.14" r="1.4"/><circle cx="540.72" cy="193.25" r="1.4"/><circle cx="542.54" cy="193.37" r="1.4"/><circle cx="544.37" cy="193.50" r="1.4"/><circle cx="546.20" cy="193.65" r="1.4"/><circle cx="548.03" cy="193.81" r="1.4"/><circle cx="549.86" cy="194.00" r="1.4"/><circle cx="551.68" cy="194.21" r="1.4"/><circle cx="553.51" cy="194.44" r="1.4"/><circle cx="555.34" cy="194.71" r="1.4"/><circle cx="557.17" cy="195.02" r="1.4"/><circle cx="559.00" cy="195.37" r="1.4"/><circle cx="560.82" cy="195.79" r="1.4"/><circle cx="562.65" cy="196.27" r="1.4"/><circle cx="564.48" cy="196.83" r="1.4"/><circle cx="566.31" cy="197.50" r="1.4"/><circle cx="568.14" cy="198.31" r="1.4"/><circle cx="569.96" cy="199.28" r="1.4"/><circle cx="571.79" cy="200.48" r="1.4"/><circle cx="573.62" cy="201.97" r="1.4"/><circle cx="575.45" cy="203.84" r="1.4"/><circle cx="577.28" cy="206.23" r="1.4"/><circle cx="579.10" cy="209.35" r="1.4"/><circle cx="580.93" cy="213.47" r="1.4"/><circle cx="582.76" cy="219.03" r="1.4"/><circle cx="584.59" cy="226.62" r="1.4"/><circle cx="586.42" cy="237.04" r="1.4"/><circle cx="588.24" cy="251.06" r="1.4"/><circle cx="590.07" cy="268.63" r="1.4"/><circle cx="591.90" cy="286.85" r="1.4"/><circle cx="593.73" cy="298.39" r="1.4"/><circle cx="595.56" cy="295.98" r="1.4"/><circle cx="597.38" cy="281.32" r="1.4"/><circle cx="599.21" cy="262.71" r="1.4"/><circle cx="601.04" cy="246.15" r="1.4"/><circle cx="602.87" cy="233.35" r="1.4"/><circle cx="604.70" cy="223.93" r="1.4"/><circle cx="606.52" cy="217.06" r="1.4"/><circle cx="608.35" cy="212.02" r="1.4"/><circle cx="610.18" cy="208.26" r="1.4"/><circle cx="612.01" cy="205.40" r="1.4"/><circle cx="613.84" cy="203.19" r="1.4"/><circle cx="615.66" cy="201.45" r="1.4"/><circle cx="617.49" cy="200.07" r="1.4"/><circle cx="619.32" cy="198.95" r="1.4"/><circle cx="621.15" cy="198.03" r="1.4"/><circle cx="622.98" cy="197.28" r="1.4"/><circle cx="624.80" cy="196.64" r="1.4"/><circle cx="626.63" cy="196.10" r="1.4"/><circle cx="628.46" cy="195.65" r="1.4"/><circle cx="630.29" cy="195.25" r="1.4"/><circle cx="632.12" cy="194.92" r="1.4"/><circle cx="633.94" cy="194.62" r="1.4"/><circle cx="635.77" cy="194.36" r="1.4"/><circle cx="637.60" cy="194.14" r="1.4"/><circle cx="639.43" cy="193.93" r="1.4"/><circle cx="641.26" cy="193.76" r="1.4"/><circle cx="643.08" cy="193.60" r="1.4"/><circle cx="644.91" cy="193.45" r="1.4"/><circle cx="646.74" cy="193.33" r="1.4"/><circle cx="648.57" cy="193.21" r="1.4"/><circle cx="650.40" cy="193.10" r="1.4"/><circle cx="652.22" cy="193.01" r="1.4"/><circle cx="654.05" cy="192.92" r="1.4"/><circle cx="655.88" cy="192.84" r="1.4"/><circle cx="657.71" cy="192.77" r="1.4"/><circle cx="659.54" cy="192.70" r="1.4"/><circle cx="661.36" cy="192.64" r="1.4"/><circle cx="663.19" cy="192.59" r="1.4"/><circle cx="665.02" cy="192.53" r="1.4"/><circle cx="666.85" cy="192.48" r="1.4"/><circle cx="668.68" cy="192.44" r="1.4"/><circle cx="670.50" cy="192.40" r="1.4"/><circle cx="672.33" cy="192.36" r="1.4"/><circle cx="674.16" cy="192.32" r="1.4"/><circle cx="675.99" cy="192.29" r="1.4"/><circle cx="677.82" cy="192.26" r="1.4"/><circle cx="679.64" cy="192.23" r="1.4"/><circle cx="681.47" cy="192.20" r="1.4"/><circle cx="683.30" cy="192.17" r="1.4"/></g>
</g>
<path d="M499.5,180.5 H683.8" stroke="#969696" stroke-width="1" fill="none"/>
<path d="M683.3,180.5 V313.1" stroke="#8c8c8c" stroke-width="1" fill="none"/>
<path d="M500.0,313.1 H683.8" stroke="#828282" stroke-width="1" fill="none"/>
<path d="M500.5,180.0 V313.6" stroke="#6e6e6e" stroke-width="1" fill="none"/>
<g stroke="#606060" stroke-width="0.8" fill="none">
<path d="M498.3,302.05 H500.5"/>
<path d="M499.3,291.00 H500.5"/>
<path d="M498.3,279.95 H500.5"/>
<path d="M499.3,268.90 H500.5"/>
<path d="M498.3,257.85 H500.5"/>
<path d="M499.3,246.80 H500.5"/>
<path d="M498.3,235.75 H500.5"/>
<path d="M499.3,224.70 H500.5"/>
<path d="M498.3,213.65 H500.5"/>
<path d="M499.3,202.60 H500.5"/>
<path d="M498.3,191.55 H500.5"/>
<path d="M518.78,313.1 V315.3"/>
<path d="M555.34,313.1 V315.3"/>
<path d="M591.90,313.1 V315.3"/>
<path d="M628.46,313.1 V315.3"/>
<path d="M665.02,313.1 V315.3"/>
<path d="M500.50,313.1 V314.3"/>
<path d="M537.06,313.1 V314.3"/>
<path d="M573.62,313.1 V314.3"/>
<path d="M610.18,313.1 V314.3"/>
<path d="M646.74,313.1 V314.3"/>
<path d="M683.30,313.1 V314.3"/>
</g>
<g font-size="7.7" fill="#222" stroke="#222" stroke-width="0.12">
<text transform="translate(496.60,304.65) scale(0.91,1)" text-anchor="end">0.0</text>
<text transform="translate(496.60,282.55) scale(0.91,1)" text-anchor="end">0.2</text>
<text transform="translate(496.60,260.45) scale(0.91,1)" text-anchor="end">0.4</text>
<text transform="translate(496.60,238.35) scale(0.91,1)" text-anchor="end">0.6</text>
<text transform="translate(496.60,216.25) scale(0.91,1)" text-anchor="end">0.8</text>
<text transform="translate(496.60,194.15) scale(0.91,1)" text-anchor="end">1.0</text>
<text transform="translate(518.78,322.80) scale(0.91,1)" text-anchor="middle">−2000</text>
<text transform="translate(555.34,322.80) scale(0.91,1)" text-anchor="middle">0</text>
<text transform="translate(591.90,322.80) scale(0.91,1)" text-anchor="middle">2000</text>
<text transform="translate(628.46,322.80) scale(0.91,1)" text-anchor="middle">4000</text>
<text transform="translate(665.02,322.80) scale(0.91,1)" text-anchor="middle">6000</text>
</g>
<text x="591.90" y="338.30" font-size="10.5" fill="#111" text-anchor="middle"><tspan font-size="6.5" dy="-3.8">31</tspan><tspan dy="3.8">P frequency offset (Hz)</tspan></text>
<text transform="translate(482.90,246.80) rotate(-90)" font-size="10.3" fill="#111" text-anchor="middle">Normalized <tspan font-size="6.5" dy="-3.8">31</tspan><tspan dy="3.8">P intensity</tspan></text>
<g fill="#111" stroke="#111" stroke-width="0.25">
<text transform="translate(654.26,306.71) scale(0.8428,1)" font-size="12.51" >γ</text>
<text transform="translate(660.26,306.10) scale(0.8618,1)" font-size="11.34" >P</text>
</g>
<text x="-0.5" y="8.5" font-size="15" font-weight="bold" fill="#000">a</text>
<text x="0" y="180.2" font-size="15" font-weight="bold" fill="#000">b</text>
<text transform="translate(16,117.2) rotate(-90)" font-size="14.2" fill="#000">+0.70 M Mg<tspan font-size="9.2" dy="-5.5">2+</tspan></text>
<text transform="translate(16,289.2) rotate(-90)" font-size="14.2" fill="#000">+0.35 M Ca<tspan font-size="9.2" dy="-5.5">2+</tspan></text>
</svg></body></html>
